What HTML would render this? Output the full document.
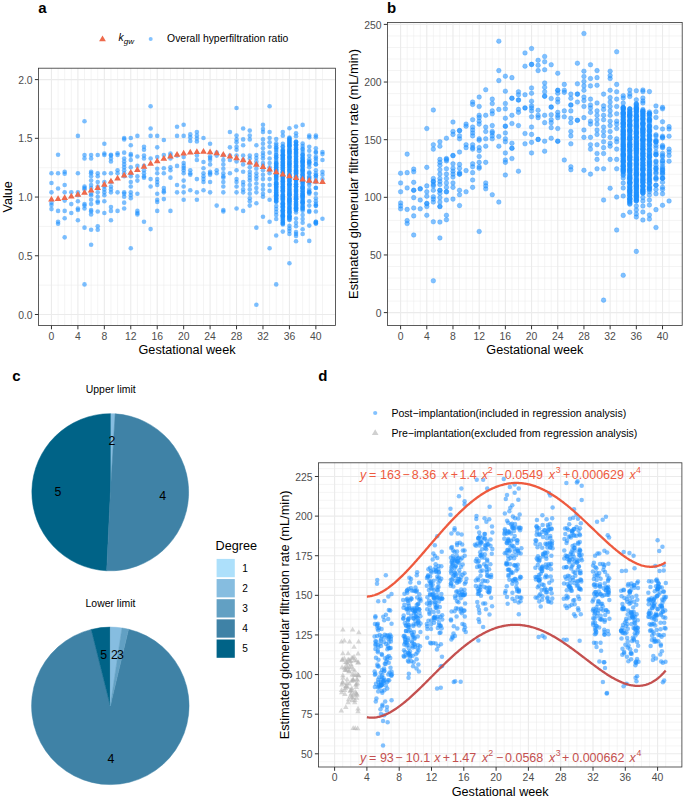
<!DOCTYPE html>
<html><head><meta charset="utf-8"><title>Figure</title>
<style>html,body{margin:0;padding:0;background:#fff;}svg{display:block;font-family:"Liberation Sans",sans-serif;}</style>
</head><body><svg width="685" height="798" viewBox="0 0 685 798" font-family="'Liberation Sans', sans-serif"><text x="38.3" y="13.3" font-size="15" font-weight="bold">a</text><path d="M58.07 68.2V325.5M64.68 68.2V325.5M71.29 68.2V325.5M84.51 68.2V325.5M91.12 68.2V325.5M97.73 68.2V325.5M110.95 68.2V325.5M117.56 68.2V325.5M124.17 68.2V325.5M137.39 68.2V325.5M144 68.2V325.5M150.61 68.2V325.5M163.83 68.2V325.5M170.44 68.2V325.5M177.05 68.2V325.5M190.27 68.2V325.5M196.88 68.2V325.5M203.49 68.2V325.5M216.71 68.2V325.5M223.32 68.2V325.5M229.93 68.2V325.5M243.15 68.2V325.5M249.76 68.2V325.5M256.37 68.2V325.5M269.59 68.2V325.5M276.2 68.2V325.5M282.81 68.2V325.5M296.03 68.2V325.5M302.64 68.2V325.5M309.25 68.2V325.5M322.47 68.2V325.5M38.5 285.14H335.5M38.5 226.41H335.5M38.5 167.69H335.5M38.5 108.96H335.5" stroke="#ebebeb" stroke-width="0.55" fill="none"/><path d="M51.46 68.2V325.5M77.9 68.2V325.5M104.34 68.2V325.5M130.78 68.2V325.5M157.22 68.2V325.5M183.66 68.2V325.5M210.1 68.2V325.5M236.54 68.2V325.5M262.98 68.2V325.5M289.42 68.2V325.5M315.86 68.2V325.5M38.5 314.5H335.5M38.5 255.78H335.5M38.5 197.05H335.5M38.5 138.32H335.5M38.5 79.6H335.5" stroke="#ebebeb" stroke-width="1.1" fill="none"/><g fill="#1e90ff" fill-opacity="0.58"><circle cx="51.46" cy="173.24" r="2.3"/><circle cx="51.46" cy="182.94" r="2.3"/><circle cx="51.46" cy="192.35" r="2.3"/><circle cx="51.46" cy="202.65" r="2.3"/><circle cx="51.46" cy="205" r="2.3"/><circle cx="51.46" cy="209.12" r="2.3"/><circle cx="58.07" cy="154.71" r="2.3"/><circle cx="58.07" cy="173.24" r="2.3"/><circle cx="58.07" cy="188.53" r="2.3"/><circle cx="58.07" cy="210.88" r="2.3"/><circle cx="58.07" cy="221.76" r="2.3"/><circle cx="58.07" cy="223.82" r="2.3"/><circle cx="64.68" cy="171.76" r="2.3"/><circle cx="64.68" cy="173.82" r="2.3"/><circle cx="64.68" cy="185" r="2.3"/><circle cx="64.68" cy="192.35" r="2.3"/><circle cx="64.68" cy="200.59" r="2.3"/><circle cx="64.68" cy="210.88" r="2.3"/><circle cx="64.68" cy="218.24" r="2.3"/><circle cx="64.68" cy="237.35" r="2.3"/><circle cx="71.29" cy="192.35" r="2.3"/><circle cx="71.29" cy="204.12" r="2.3"/><circle cx="71.29" cy="212.94" r="2.3"/><circle cx="77.9" cy="135.88" r="2.3"/><circle cx="77.9" cy="173.24" r="2.3"/><circle cx="77.9" cy="192.35" r="2.3"/><circle cx="77.9" cy="195.29" r="2.3"/><circle cx="77.9" cy="201.18" r="2.3"/><circle cx="77.9" cy="208.53" r="2.3"/><circle cx="77.9" cy="210" r="2.3"/><circle cx="77.9" cy="220.29" r="2.3"/><circle cx="84.51" cy="121.18" r="2.3"/><circle cx="84.51" cy="155" r="2.3"/><circle cx="84.51" cy="158.53" r="2.3"/><circle cx="84.51" cy="186.47" r="2.3"/><circle cx="84.51" cy="187.94" r="2.3"/><circle cx="84.51" cy="189.41" r="2.3"/><circle cx="84.51" cy="204.12" r="2.3"/><circle cx="84.51" cy="205.59" r="2.3"/><circle cx="84.51" cy="208.53" r="2.3"/><circle cx="84.51" cy="227.65" r="2.3"/><circle cx="84.51" cy="284.41" r="2.3"/><circle cx="91.12" cy="155" r="2.3"/><circle cx="91.12" cy="158.53" r="2.3"/><circle cx="91.12" cy="171.76" r="2.3"/><circle cx="91.12" cy="173.24" r="2.3"/><circle cx="91.12" cy="176.18" r="2.3"/><circle cx="91.12" cy="180.59" r="2.3"/><circle cx="91.12" cy="185" r="2.3"/><circle cx="91.12" cy="187.94" r="2.3"/><circle cx="91.12" cy="193.82" r="2.3"/><circle cx="91.12" cy="195.29" r="2.3"/><circle cx="91.12" cy="199.71" r="2.3"/><circle cx="91.12" cy="204.12" r="2.3"/><circle cx="91.12" cy="210" r="2.3"/><circle cx="91.12" cy="211.47" r="2.3"/><circle cx="91.12" cy="214.41" r="2.3"/><circle cx="91.12" cy="229.71" r="2.3"/><circle cx="91.12" cy="244.71" r="2.3"/><circle cx="97.73" cy="155" r="2.3"/><circle cx="97.73" cy="173.24" r="2.3"/><circle cx="97.73" cy="176.18" r="2.3"/><circle cx="97.73" cy="182.06" r="2.3"/><circle cx="97.73" cy="186.47" r="2.3"/><circle cx="97.73" cy="192.35" r="2.3"/><circle cx="97.73" cy="196.76" r="2.3"/><circle cx="97.73" cy="201.18" r="2.3"/><circle cx="97.73" cy="202.65" r="2.3"/><circle cx="97.73" cy="211.47" r="2.3"/><circle cx="97.73" cy="226.18" r="2.3"/><circle cx="97.73" cy="229.71" r="2.3"/><circle cx="104.34" cy="143.82" r="2.3"/><circle cx="104.34" cy="153.53" r="2.3"/><circle cx="104.34" cy="155" r="2.3"/><circle cx="104.34" cy="173.24" r="2.3"/><circle cx="104.34" cy="182.06" r="2.3"/><circle cx="104.34" cy="186.47" r="2.3"/><circle cx="104.34" cy="189.41" r="2.3"/><circle cx="104.34" cy="192.35" r="2.3"/><circle cx="104.34" cy="195.29" r="2.3"/><circle cx="104.34" cy="201.18" r="2.3"/><circle cx="104.34" cy="212.94" r="2.3"/><circle cx="110.95" cy="154.71" r="2.3"/><circle cx="110.95" cy="155.59" r="2.3"/><circle cx="110.95" cy="158.53" r="2.3"/><circle cx="110.95" cy="161.47" r="2.3"/><circle cx="110.95" cy="173.24" r="2.3"/><circle cx="110.95" cy="182.06" r="2.3"/><circle cx="110.95" cy="186.47" r="2.3"/><circle cx="110.95" cy="189.41" r="2.3"/><circle cx="110.95" cy="192.35" r="2.3"/><circle cx="110.95" cy="207.06" r="2.3"/><circle cx="110.95" cy="210.88" r="2.3"/><circle cx="110.95" cy="220.29" r="2.3"/><circle cx="117.56" cy="153.24" r="2.3"/><circle cx="117.56" cy="155" r="2.3"/><circle cx="117.56" cy="170.29" r="2.3"/><circle cx="117.56" cy="173.24" r="2.3"/><circle cx="117.56" cy="192.35" r="2.3"/><circle cx="117.56" cy="210.88" r="2.3"/><circle cx="124.17" cy="137.94" r="2.3"/><circle cx="124.17" cy="139.41" r="2.3"/><circle cx="124.17" cy="152.65" r="2.3"/><circle cx="124.17" cy="158.53" r="2.3"/><circle cx="124.17" cy="161.47" r="2.3"/><circle cx="124.17" cy="164.41" r="2.3"/><circle cx="124.17" cy="167.35" r="2.3"/><circle cx="124.17" cy="170.29" r="2.3"/><circle cx="124.17" cy="173.24" r="2.3"/><circle cx="124.17" cy="176.18" r="2.3"/><circle cx="124.17" cy="192.35" r="2.3"/><circle cx="124.17" cy="193.82" r="2.3"/><circle cx="124.17" cy="196.76" r="2.3"/><circle cx="124.17" cy="202.65" r="2.3"/><circle cx="124.17" cy="208.53" r="2.3"/><circle cx="130.78" cy="137.94" r="2.3"/><circle cx="130.78" cy="145.29" r="2.3"/><circle cx="130.78" cy="154.12" r="2.3"/><circle cx="130.78" cy="155.59" r="2.3"/><circle cx="130.78" cy="160" r="2.3"/><circle cx="130.78" cy="167.35" r="2.3"/><circle cx="130.78" cy="173.24" r="2.3"/><circle cx="130.78" cy="176.18" r="2.3"/><circle cx="130.78" cy="182.06" r="2.3"/><circle cx="130.78" cy="186.47" r="2.3"/><circle cx="130.78" cy="192.35" r="2.3"/><circle cx="130.78" cy="195.29" r="2.3"/><circle cx="130.78" cy="198.24" r="2.3"/><circle cx="130.78" cy="248.24" r="2.3"/><circle cx="137.39" cy="135.88" r="2.3"/><circle cx="137.39" cy="156.47" r="2.3"/><circle cx="137.39" cy="165.88" r="2.3"/><circle cx="137.39" cy="176.18" r="2.3"/><circle cx="137.39" cy="180.59" r="2.3"/><circle cx="137.39" cy="193.82" r="2.3"/><circle cx="137.39" cy="210.88" r="2.3"/><circle cx="137.39" cy="212.94" r="2.3"/><circle cx="137.39" cy="214.41" r="2.3"/><circle cx="144" cy="146.76" r="2.3"/><circle cx="144" cy="149.71" r="2.3"/><circle cx="144" cy="155.59" r="2.3"/><circle cx="144" cy="158.53" r="2.3"/><circle cx="144" cy="165.88" r="2.3"/><circle cx="144" cy="170.29" r="2.3"/><circle cx="144" cy="173.24" r="2.3"/><circle cx="144" cy="176.18" r="2.3"/><circle cx="144" cy="177.65" r="2.3"/><circle cx="144" cy="221.76" r="2.3"/><circle cx="150.61" cy="106.18" r="2.3"/><circle cx="150.61" cy="128.53" r="2.3"/><circle cx="150.61" cy="135.88" r="2.3"/><circle cx="150.61" cy="158.53" r="2.3"/><circle cx="150.61" cy="179.12" r="2.3"/><circle cx="150.61" cy="186.47" r="2.3"/><circle cx="150.61" cy="229.12" r="2.3"/><circle cx="157.22" cy="135.88" r="2.3"/><circle cx="157.22" cy="147.35" r="2.3"/><circle cx="157.22" cy="157.06" r="2.3"/><circle cx="157.22" cy="168.82" r="2.3"/><circle cx="157.22" cy="173.24" r="2.3"/><circle cx="157.22" cy="179.12" r="2.3"/><circle cx="157.22" cy="182.06" r="2.3"/><circle cx="157.22" cy="185" r="2.3"/><circle cx="157.22" cy="193.82" r="2.3"/><circle cx="157.22" cy="199.71" r="2.3"/><circle cx="157.22" cy="202.06" r="2.3"/><circle cx="157.22" cy="210.88" r="2.3"/><circle cx="163.83" cy="140" r="2.3"/><circle cx="163.83" cy="155" r="2.3"/><circle cx="163.83" cy="168.24" r="2.3"/><circle cx="163.83" cy="173.24" r="2.3"/><circle cx="163.83" cy="187.94" r="2.3"/><circle cx="163.83" cy="190.88" r="2.3"/><circle cx="163.83" cy="192.35" r="2.3"/><circle cx="163.83" cy="199.12" r="2.3"/><circle cx="170.44" cy="153.53" r="2.3"/><circle cx="170.44" cy="155.59" r="2.3"/><circle cx="170.44" cy="158.53" r="2.3"/><circle cx="170.44" cy="167.35" r="2.3"/><circle cx="170.44" cy="170.29" r="2.3"/><circle cx="170.44" cy="177.65" r="2.3"/><circle cx="170.44" cy="210.88" r="2.3"/><circle cx="177.05" cy="126.76" r="2.3"/><circle cx="177.05" cy="135.88" r="2.3"/><circle cx="177.05" cy="155.59" r="2.3"/><circle cx="177.05" cy="165.88" r="2.3"/><circle cx="177.05" cy="185" r="2.3"/><circle cx="177.05" cy="192.35" r="2.3"/><circle cx="183.66" cy="124.71" r="2.3"/><circle cx="183.66" cy="135.88" r="2.3"/><circle cx="183.66" cy="157.06" r="2.3"/><circle cx="183.66" cy="162.94" r="2.3"/><circle cx="183.66" cy="165.88" r="2.3"/><circle cx="183.66" cy="167.94" r="2.3"/><circle cx="183.66" cy="170.29" r="2.3"/><circle cx="183.66" cy="173.24" r="2.3"/><circle cx="183.66" cy="180.59" r="2.3"/><circle cx="183.66" cy="186.47" r="2.3"/><circle cx="183.66" cy="192.35" r="2.3"/><circle cx="183.66" cy="199.71" r="2.3"/><circle cx="190.27" cy="134.41" r="2.3"/><circle cx="190.27" cy="137.35" r="2.3"/><circle cx="190.27" cy="140.88" r="2.3"/><circle cx="190.27" cy="170.29" r="2.3"/><circle cx="190.27" cy="173.24" r="2.3"/><circle cx="190.27" cy="174.71" r="2.3"/><circle cx="190.27" cy="190.29" r="2.3"/><circle cx="196.88" cy="132.06" r="2.3"/><circle cx="196.88" cy="135.59" r="2.3"/><circle cx="196.88" cy="138.53" r="2.3"/><circle cx="196.88" cy="141.47" r="2.3"/><circle cx="196.88" cy="155.59" r="2.3"/><circle cx="196.88" cy="160" r="2.3"/><circle cx="196.88" cy="179.12" r="2.3"/><circle cx="196.88" cy="192.35" r="2.3"/><circle cx="196.88" cy="199.71" r="2.3"/><circle cx="203.49" cy="137.94" r="2.3"/><circle cx="203.49" cy="162.06" r="2.3"/><circle cx="203.49" cy="168.24" r="2.3"/><circle cx="203.49" cy="173.24" r="2.3"/><circle cx="203.49" cy="176.18" r="2.3"/><circle cx="203.49" cy="179.12" r="2.3"/><circle cx="203.49" cy="182.06" r="2.3"/><circle cx="203.49" cy="190.29" r="2.3"/><circle cx="210.1" cy="143.82" r="2.3"/><circle cx="210.1" cy="156.18" r="2.3"/><circle cx="210.1" cy="157.94" r="2.3"/><circle cx="210.1" cy="160" r="2.3"/><circle cx="210.1" cy="164.41" r="2.3"/><circle cx="210.1" cy="171.76" r="2.3"/><circle cx="210.1" cy="173.24" r="2.3"/><circle cx="210.1" cy="174.71" r="2.3"/><circle cx="210.1" cy="182.06" r="2.3"/><circle cx="210.1" cy="192.35" r="2.3"/><circle cx="216.71" cy="152.65" r="2.3"/><circle cx="216.71" cy="155.59" r="2.3"/><circle cx="216.71" cy="170.29" r="2.3"/><circle cx="216.71" cy="173.24" r="2.3"/><circle cx="216.71" cy="205.59" r="2.3"/><circle cx="223.32" cy="155.59" r="2.3"/><circle cx="223.32" cy="160" r="2.3"/><circle cx="223.32" cy="164.41" r="2.3"/><circle cx="223.32" cy="168.82" r="2.3"/><circle cx="223.32" cy="173.24" r="2.3"/><circle cx="223.32" cy="176.18" r="2.3"/><circle cx="223.32" cy="177.65" r="2.3"/><circle cx="223.32" cy="182.06" r="2.3"/><circle cx="223.32" cy="186.47" r="2.3"/><circle cx="223.32" cy="192.35" r="2.3"/><circle cx="223.32" cy="210" r="2.3"/><circle cx="223.32" cy="211.47" r="2.3"/><circle cx="229.93" cy="132.06" r="2.3"/><circle cx="229.93" cy="147.35" r="2.3"/><circle cx="229.93" cy="155.59" r="2.3"/><circle cx="229.93" cy="160" r="2.3"/><circle cx="229.93" cy="173.24" r="2.3"/><circle cx="236.54" cy="107.94" r="2.3"/><circle cx="236.54" cy="135.59" r="2.3"/><circle cx="236.54" cy="139.41" r="2.3"/><circle cx="236.54" cy="142.35" r="2.3"/><circle cx="236.54" cy="146.76" r="2.3"/><circle cx="236.54" cy="149.71" r="2.3"/><circle cx="236.54" cy="155.59" r="2.3"/><circle cx="236.54" cy="161.47" r="2.3"/><circle cx="236.54" cy="170.29" r="2.3"/><circle cx="236.54" cy="179.12" r="2.3"/><circle cx="236.54" cy="182.06" r="2.3"/><circle cx="236.54" cy="186.47" r="2.3"/><circle cx="236.54" cy="192.35" r="2.3"/><circle cx="236.54" cy="208.53" r="2.3"/><circle cx="243.15" cy="128.53" r="2.3"/><circle cx="243.15" cy="139.41" r="2.3"/><circle cx="243.15" cy="145.29" r="2.3"/><circle cx="243.15" cy="155.59" r="2.3"/><circle cx="243.15" cy="160" r="2.3"/><circle cx="243.15" cy="164.41" r="2.3"/><circle cx="243.15" cy="171.76" r="2.3"/><circle cx="243.15" cy="182.06" r="2.3"/><circle cx="243.15" cy="185" r="2.3"/><circle cx="243.15" cy="189.41" r="2.3"/><circle cx="243.15" cy="192.35" r="2.3"/><circle cx="243.15" cy="210.88" r="2.3"/><circle cx="249.76" cy="130.59" r="2.3"/><circle cx="249.76" cy="135.59" r="2.3"/><circle cx="249.76" cy="139.41" r="2.3"/><circle cx="249.76" cy="155.59" r="2.3"/><circle cx="249.76" cy="158.53" r="2.3"/><circle cx="249.76" cy="162.94" r="2.3"/><circle cx="249.76" cy="167.35" r="2.3"/><circle cx="249.76" cy="171.76" r="2.3"/><circle cx="249.76" cy="174.71" r="2.3"/><circle cx="249.76" cy="177.65" r="2.3"/><circle cx="249.76" cy="180.59" r="2.3"/><circle cx="249.76" cy="185" r="2.3"/><circle cx="249.76" cy="189.41" r="2.3"/><circle cx="249.76" cy="193.82" r="2.3"/><circle cx="249.76" cy="198.24" r="2.3"/><circle cx="249.76" cy="201.18" r="2.3"/><circle cx="249.76" cy="205.59" r="2.3"/><circle cx="256.37" cy="145.29" r="2.3"/><circle cx="256.37" cy="155" r="2.3"/><circle cx="256.37" cy="157.94" r="2.3"/><circle cx="256.37" cy="161.47" r="2.3"/><circle cx="256.37" cy="164.41" r="2.3"/><circle cx="256.37" cy="168.82" r="2.3"/><circle cx="256.37" cy="173.24" r="2.3"/><circle cx="256.37" cy="176.18" r="2.3"/><circle cx="256.37" cy="179.12" r="2.3"/><circle cx="256.37" cy="183.53" r="2.3"/><circle cx="256.37" cy="187.94" r="2.3"/><circle cx="256.37" cy="192.35" r="2.3"/><circle cx="256.37" cy="203.24" r="2.3"/><circle cx="256.37" cy="227.65" r="2.3"/><circle cx="256.37" cy="304.71" r="2.3"/><circle cx="262.98" cy="124.71" r="2.3"/><circle cx="262.98" cy="129.12" r="2.3"/><circle cx="262.98" cy="132.06" r="2.3"/><circle cx="262.98" cy="139.41" r="2.3"/><circle cx="262.98" cy="143.82" r="2.3"/><circle cx="262.98" cy="148.24" r="2.3"/><circle cx="262.98" cy="152.65" r="2.3"/><circle cx="262.98" cy="155.59" r="2.3"/><circle cx="262.98" cy="158.53" r="2.3"/><circle cx="262.98" cy="162.94" r="2.3"/><circle cx="262.98" cy="165.88" r="2.3"/><circle cx="262.98" cy="170.29" r="2.3"/><circle cx="262.98" cy="174.71" r="2.3"/><circle cx="262.98" cy="179.12" r="2.3"/><circle cx="262.98" cy="185" r="2.3"/><circle cx="262.98" cy="189.41" r="2.3"/><circle cx="262.98" cy="193.82" r="2.3"/><circle cx="262.98" cy="196.76" r="2.3"/><circle cx="262.98" cy="216.76" r="2.3"/><circle cx="269.59" cy="106.18" r="2.3"/><circle cx="269.59" cy="132.06" r="2.3"/><circle cx="269.59" cy="137.94" r="2.3"/><circle cx="269.59" cy="142.35" r="2.3"/><circle cx="269.59" cy="146.76" r="2.3"/><circle cx="269.59" cy="152.65" r="2.3"/><circle cx="269.59" cy="158.53" r="2.3"/><circle cx="269.59" cy="162.94" r="2.3"/><circle cx="269.59" cy="167.35" r="2.3"/><circle cx="269.59" cy="170.29" r="2.3"/><circle cx="269.59" cy="173.24" r="2.3"/><circle cx="269.59" cy="179.12" r="2.3"/><circle cx="269.59" cy="185" r="2.3"/><circle cx="269.59" cy="190.88" r="2.3"/><circle cx="269.59" cy="199.71" r="2.3"/><circle cx="269.59" cy="221.76" r="2.3"/><circle cx="269.59" cy="248.24" r="2.3"/><circle cx="309.25" cy="135.59" r="2.3"/><circle cx="309.25" cy="137.35" r="2.3"/><circle cx="309.25" cy="146.76" r="2.3"/><circle cx="309.25" cy="155.59" r="2.3"/><circle cx="309.25" cy="161.47" r="2.3"/><circle cx="309.25" cy="167.35" r="2.3"/><circle cx="309.25" cy="173.24" r="2.3"/><circle cx="309.25" cy="179.12" r="2.3"/><circle cx="309.25" cy="185" r="2.3"/><circle cx="309.25" cy="189.41" r="2.3"/><circle cx="309.25" cy="193.82" r="2.3"/><circle cx="309.25" cy="201.18" r="2.3"/><circle cx="309.25" cy="205.59" r="2.3"/><circle cx="309.25" cy="210.88" r="2.3"/><circle cx="309.25" cy="225.59" r="2.3"/><circle cx="309.25" cy="240.88" r="2.3"/><circle cx="315.86" cy="135.59" r="2.3"/><circle cx="315.86" cy="137.35" r="2.3"/><circle cx="315.86" cy="148.24" r="2.3"/><circle cx="315.86" cy="152.65" r="2.3"/><circle cx="315.86" cy="158.53" r="2.3"/><circle cx="315.86" cy="164.41" r="2.3"/><circle cx="315.86" cy="170.29" r="2.3"/><circle cx="315.86" cy="173.24" r="2.3"/><circle cx="315.86" cy="177.65" r="2.3"/><circle cx="315.86" cy="182.06" r="2.3"/><circle cx="315.86" cy="187.94" r="2.3"/><circle cx="315.86" cy="193.82" r="2.3"/><circle cx="315.86" cy="198.24" r="2.3"/><circle cx="315.86" cy="201.18" r="2.3"/><circle cx="315.86" cy="205.59" r="2.3"/><circle cx="315.86" cy="211.47" r="2.3"/><circle cx="315.86" cy="221.76" r="2.3"/><circle cx="322.47" cy="152.06" r="2.3"/><circle cx="322.47" cy="154.12" r="2.3"/><circle cx="322.47" cy="160" r="2.3"/><circle cx="322.47" cy="171.76" r="2.3"/><circle cx="322.47" cy="174.71" r="2.3"/><circle cx="322.47" cy="179.12" r="2.3"/><circle cx="322.47" cy="218.82" r="2.3"/><circle cx="309.25" cy="181.25" r="2.3"/><circle cx="309.25" cy="150.76" r="2.3"/><circle cx="309.25" cy="211.89" r="2.3"/><circle cx="309.25" cy="172.4" r="2.3"/><circle cx="309.25" cy="177.63" r="2.3"/><circle cx="309.25" cy="164.52" r="2.3"/><circle cx="309.25" cy="192.45" r="2.3"/><circle cx="309.25" cy="162.13" r="2.3"/><circle cx="309.25" cy="159.32" r="2.3"/><circle cx="309.25" cy="182.47" r="2.3"/><circle cx="309.25" cy="192.16" r="2.3"/><circle cx="309.25" cy="163.08" r="2.3"/><circle cx="309.25" cy="191.49" r="2.3"/><circle cx="309.25" cy="176.62" r="2.3"/><circle cx="315.86" cy="221.85" r="2.3"/><circle cx="315.86" cy="156.85" r="2.3"/><circle cx="315.86" cy="223.4" r="2.3"/><circle cx="315.86" cy="180.91" r="2.3"/><circle cx="315.86" cy="187.8" r="2.3"/><circle cx="315.86" cy="161.11" r="2.3"/><circle cx="315.86" cy="203.92" r="2.3"/><circle cx="315.86" cy="164.25" r="2.3"/><circle cx="315.86" cy="175.62" r="2.3"/><circle cx="315.86" cy="151.76" r="2.3"/><circle cx="315.86" cy="175.46" r="2.3"/><circle cx="315.86" cy="222.56" r="2.3"/><circle cx="315.86" cy="223.41" r="2.3"/><circle cx="315.86" cy="205.84" r="2.3"/><circle cx="276.2" cy="139.11" r="2.3"/><circle cx="276.2" cy="143.18" r="2.3"/><circle cx="276.2" cy="145.24" r="2.3"/><circle cx="276.2" cy="147.24" r="2.3"/><circle cx="276.2" cy="148.26" r="2.3"/><circle cx="276.2" cy="149.95" r="2.3"/><circle cx="276.2" cy="152.08" r="2.3"/><circle cx="276.2" cy="154.52" r="2.3"/><circle cx="276.2" cy="155.41" r="2.3"/><circle cx="276.2" cy="157.22" r="2.3"/><circle cx="276.2" cy="157.72" r="2.3"/><circle cx="276.2" cy="159.8" r="2.3"/><circle cx="276.2" cy="161.67" r="2.3"/><circle cx="276.2" cy="163.06" r="2.3"/><circle cx="276.2" cy="163.84" r="2.3"/><circle cx="276.2" cy="163.51" r="2.3"/><circle cx="276.2" cy="165.62" r="2.3"/><circle cx="276.2" cy="165.12" r="2.3"/><circle cx="276.2" cy="167.11" r="2.3"/><circle cx="276.2" cy="167.44" r="2.3"/><circle cx="276.2" cy="167.52" r="2.3"/><circle cx="276.2" cy="169.15" r="2.3"/><circle cx="276.2" cy="169.83" r="2.3"/><circle cx="276.2" cy="171.53" r="2.3"/><circle cx="276.2" cy="170.51" r="2.3"/><circle cx="276.2" cy="171.58" r="2.3"/><circle cx="276.2" cy="174.04" r="2.3"/><circle cx="276.2" cy="174.55" r="2.3"/><circle cx="276.2" cy="174.01" r="2.3"/><circle cx="276.2" cy="174.99" r="2.3"/><circle cx="276.2" cy="176.43" r="2.3"/><circle cx="276.2" cy="176.48" r="2.3"/><circle cx="276.2" cy="177.64" r="2.3"/><circle cx="276.2" cy="177.91" r="2.3"/><circle cx="276.2" cy="180.05" r="2.3"/><circle cx="276.2" cy="179.61" r="2.3"/><circle cx="276.2" cy="182.26" r="2.3"/><circle cx="276.2" cy="182.93" r="2.3"/><circle cx="276.2" cy="183.49" r="2.3"/><circle cx="276.2" cy="184.27" r="2.3"/><circle cx="276.2" cy="184.29" r="2.3"/><circle cx="276.2" cy="185.73" r="2.3"/><circle cx="276.2" cy="186.71" r="2.3"/><circle cx="276.2" cy="186.97" r="2.3"/><circle cx="276.2" cy="186.95" r="2.3"/><circle cx="276.2" cy="188.9" r="2.3"/><circle cx="276.2" cy="189.12" r="2.3"/><circle cx="276.2" cy="190.51" r="2.3"/><circle cx="276.2" cy="190.95" r="2.3"/><circle cx="276.2" cy="192.84" r="2.3"/><circle cx="276.2" cy="192.15" r="2.3"/><circle cx="276.2" cy="194.11" r="2.3"/><circle cx="276.2" cy="194.79" r="2.3"/><circle cx="276.2" cy="195.32" r="2.3"/><circle cx="276.2" cy="195.19" r="2.3"/><circle cx="276.2" cy="196.18" r="2.3"/><circle cx="276.2" cy="198.6" r="2.3"/><circle cx="276.2" cy="197.95" r="2.3"/><circle cx="276.2" cy="198.64" r="2.3"/><circle cx="276.2" cy="199.71" r="2.3"/><circle cx="276.2" cy="201.02" r="2.3"/><circle cx="276.2" cy="201.81" r="2.3"/><circle cx="276.2" cy="201.6" r="2.3"/><circle cx="276.2" cy="206" r="2.3"/><circle cx="276.2" cy="209" r="2.3"/><circle cx="276.2" cy="212" r="2.3"/><circle cx="276.2" cy="215" r="2.3"/><circle cx="276.2" cy="219" r="2.3"/><circle cx="276.2" cy="235.5" r="2.3"/><circle cx="276.2" cy="284.4" r="2.3"/><circle cx="282.81" cy="143.76" r="2.3"/><circle cx="282.81" cy="146.24" r="2.3"/><circle cx="282.81" cy="147.12" r="2.3"/><circle cx="282.81" cy="149.47" r="2.3"/><circle cx="282.81" cy="151.01" r="2.3"/><circle cx="282.81" cy="150.44" r="2.3"/><circle cx="282.81" cy="152.09" r="2.3"/><circle cx="282.81" cy="152.73" r="2.3"/><circle cx="282.81" cy="154.33" r="2.3"/><circle cx="282.81" cy="155.49" r="2.3"/><circle cx="282.81" cy="155.25" r="2.3"/><circle cx="282.81" cy="155.74" r="2.3"/><circle cx="282.81" cy="157.84" r="2.3"/><circle cx="282.81" cy="156.97" r="2.3"/><circle cx="282.81" cy="158.41" r="2.3"/><circle cx="282.81" cy="159.37" r="2.3"/><circle cx="282.81" cy="159.77" r="2.3"/><circle cx="282.81" cy="161.61" r="2.3"/><circle cx="282.81" cy="162.12" r="2.3"/><circle cx="282.81" cy="162.41" r="2.3"/><circle cx="282.81" cy="163.58" r="2.3"/><circle cx="282.81" cy="164.97" r="2.3"/><circle cx="282.81" cy="165.07" r="2.3"/><circle cx="282.81" cy="165.39" r="2.3"/><circle cx="282.81" cy="167" r="2.3"/><circle cx="282.81" cy="167.31" r="2.3"/><circle cx="282.81" cy="168.99" r="2.3"/><circle cx="282.81" cy="168.99" r="2.3"/><circle cx="282.81" cy="169.69" r="2.3"/><circle cx="282.81" cy="172.04" r="2.3"/><circle cx="282.81" cy="171.74" r="2.3"/><circle cx="282.81" cy="172.5" r="2.3"/><circle cx="282.81" cy="173.83" r="2.3"/><circle cx="282.81" cy="174.97" r="2.3"/><circle cx="282.81" cy="175.76" r="2.3"/><circle cx="282.81" cy="176.85" r="2.3"/><circle cx="282.81" cy="176.6" r="2.3"/><circle cx="282.81" cy="177.77" r="2.3"/><circle cx="282.81" cy="178.48" r="2.3"/><circle cx="282.81" cy="179.62" r="2.3"/><circle cx="282.81" cy="180.56" r="2.3"/><circle cx="282.81" cy="181.51" r="2.3"/><circle cx="282.81" cy="181.22" r="2.3"/><circle cx="282.81" cy="182.66" r="2.3"/><circle cx="282.81" cy="184.17" r="2.3"/><circle cx="282.81" cy="183.65" r="2.3"/><circle cx="282.81" cy="185.91" r="2.3"/><circle cx="282.81" cy="186.62" r="2.3"/><circle cx="282.81" cy="186.89" r="2.3"/><circle cx="282.81" cy="187.82" r="2.3"/><circle cx="282.81" cy="188.28" r="2.3"/><circle cx="282.81" cy="190.06" r="2.3"/><circle cx="282.81" cy="190.38" r="2.3"/><circle cx="282.81" cy="190.78" r="2.3"/><circle cx="282.81" cy="191.14" r="2.3"/><circle cx="282.81" cy="192.61" r="2.3"/><circle cx="282.81" cy="194.59" r="2.3"/><circle cx="282.81" cy="194.94" r="2.3"/><circle cx="282.81" cy="195.67" r="2.3"/><circle cx="282.81" cy="197.12" r="2.3"/><circle cx="282.81" cy="196.14" r="2.3"/><circle cx="282.81" cy="198.12" r="2.3"/><circle cx="282.81" cy="198.13" r="2.3"/><circle cx="282.81" cy="199.38" r="2.3"/><circle cx="282.81" cy="199.78" r="2.3"/><circle cx="282.81" cy="200.95" r="2.3"/><circle cx="282.81" cy="202.89" r="2.3"/><circle cx="282.81" cy="203.37" r="2.3"/><circle cx="282.81" cy="204.44" r="2.3"/><circle cx="282.81" cy="203.73" r="2.3"/><circle cx="282.81" cy="205.02" r="2.3"/><circle cx="282.81" cy="206.82" r="2.3"/><circle cx="282.81" cy="206.16" r="2.3"/><circle cx="282.81" cy="207.3" r="2.3"/><circle cx="282.81" cy="207.91" r="2.3"/><circle cx="282.81" cy="210.22" r="2.3"/><circle cx="282.81" cy="209.88" r="2.3"/><circle cx="282.81" cy="211.1" r="2.3"/><circle cx="282.81" cy="211.11" r="2.3"/><circle cx="282.81" cy="212.14" r="2.3"/><circle cx="282.81" cy="213.78" r="2.3"/><circle cx="282.81" cy="215.17" r="2.3"/><circle cx="282.81" cy="215.1" r="2.3"/><circle cx="282.81" cy="215.89" r="2.3"/><circle cx="282.81" cy="216.16" r="2.3"/><circle cx="282.81" cy="217.12" r="2.3"/><circle cx="282.81" cy="218.05" r="2.3"/><circle cx="282.81" cy="219" r="2.3"/><circle cx="282.81" cy="220.56" r="2.3"/><circle cx="282.81" cy="220.97" r="2.3"/><circle cx="282.81" cy="223.04" r="2.3"/><circle cx="282.81" cy="222.48" r="2.3"/><circle cx="282.81" cy="224.46" r="2.3"/><circle cx="282.81" cy="223.77" r="2.3"/><circle cx="282.81" cy="132.1" r="2.3"/><circle cx="282.81" cy="135.8" r="2.3"/><circle cx="282.81" cy="231.6" r="2.3"/><circle cx="289.42" cy="137.48" r="2.3"/><circle cx="289.42" cy="138.36" r="2.3"/><circle cx="289.42" cy="139.41" r="2.3"/><circle cx="289.42" cy="139.76" r="2.3"/><circle cx="289.42" cy="140.83" r="2.3"/><circle cx="289.42" cy="142.18" r="2.3"/><circle cx="289.42" cy="141.76" r="2.3"/><circle cx="289.42" cy="143.36" r="2.3"/><circle cx="289.42" cy="144.32" r="2.3"/><circle cx="289.42" cy="145.54" r="2.3"/><circle cx="289.42" cy="145.15" r="2.3"/><circle cx="289.42" cy="146.49" r="2.3"/><circle cx="289.42" cy="146.55" r="2.3"/><circle cx="289.42" cy="148.67" r="2.3"/><circle cx="289.42" cy="149.92" r="2.3"/><circle cx="289.42" cy="149.73" r="2.3"/><circle cx="289.42" cy="151.49" r="2.3"/><circle cx="289.42" cy="152.02" r="2.3"/><circle cx="289.42" cy="151.57" r="2.3"/><circle cx="289.42" cy="153.32" r="2.3"/><circle cx="289.42" cy="153.31" r="2.3"/><circle cx="289.42" cy="154.69" r="2.3"/><circle cx="289.42" cy="156.5" r="2.3"/><circle cx="289.42" cy="155.99" r="2.3"/><circle cx="289.42" cy="157.71" r="2.3"/><circle cx="289.42" cy="157.53" r="2.3"/><circle cx="289.42" cy="158.48" r="2.3"/><circle cx="289.42" cy="161" r="2.3"/><circle cx="289.42" cy="160.13" r="2.3"/><circle cx="289.42" cy="161.13" r="2.3"/><circle cx="289.42" cy="163.5" r="2.3"/><circle cx="289.42" cy="163.08" r="2.3"/><circle cx="289.42" cy="163.73" r="2.3"/><circle cx="289.42" cy="164.33" r="2.3"/><circle cx="289.42" cy="165.98" r="2.3"/><circle cx="289.42" cy="165.94" r="2.3"/><circle cx="289.42" cy="167.1" r="2.3"/><circle cx="289.42" cy="167.94" r="2.3"/><circle cx="289.42" cy="169.83" r="2.3"/><circle cx="289.42" cy="169.5" r="2.3"/><circle cx="289.42" cy="171.2" r="2.3"/><circle cx="289.42" cy="171.34" r="2.3"/><circle cx="289.42" cy="173.69" r="2.3"/><circle cx="289.42" cy="174.52" r="2.3"/><circle cx="289.42" cy="175.23" r="2.3"/><circle cx="289.42" cy="176.02" r="2.3"/><circle cx="289.42" cy="176.17" r="2.3"/><circle cx="289.42" cy="177.76" r="2.3"/><circle cx="289.42" cy="178.02" r="2.3"/><circle cx="289.42" cy="177.9" r="2.3"/><circle cx="289.42" cy="179.88" r="2.3"/><circle cx="289.42" cy="180.96" r="2.3"/><circle cx="289.42" cy="180.13" r="2.3"/><circle cx="289.42" cy="181.33" r="2.3"/><circle cx="289.42" cy="183.35" r="2.3"/><circle cx="289.42" cy="184.16" r="2.3"/><circle cx="289.42" cy="184.58" r="2.3"/><circle cx="289.42" cy="184.54" r="2.3"/><circle cx="289.42" cy="185.67" r="2.3"/><circle cx="289.42" cy="186.45" r="2.3"/><circle cx="289.42" cy="188.78" r="2.3"/><circle cx="289.42" cy="188.11" r="2.3"/><circle cx="289.42" cy="189.24" r="2.3"/><circle cx="289.42" cy="190.72" r="2.3"/><circle cx="289.42" cy="191.51" r="2.3"/><circle cx="289.42" cy="192.14" r="2.3"/><circle cx="289.42" cy="193.16" r="2.3"/><circle cx="289.42" cy="194.43" r="2.3"/><circle cx="289.42" cy="195.37" r="2.3"/><circle cx="289.42" cy="194.6" r="2.3"/><circle cx="289.42" cy="195.28" r="2.3"/><circle cx="289.42" cy="197.89" r="2.3"/><circle cx="289.42" cy="198.72" r="2.3"/><circle cx="289.42" cy="198.48" r="2.3"/><circle cx="289.42" cy="199.38" r="2.3"/><circle cx="289.42" cy="200.79" r="2.3"/><circle cx="289.42" cy="201.1" r="2.3"/><circle cx="289.42" cy="201.32" r="2.3"/><circle cx="289.42" cy="202.44" r="2.3"/><circle cx="289.42" cy="203.39" r="2.3"/><circle cx="289.42" cy="204.75" r="2.3"/><circle cx="289.42" cy="204.8" r="2.3"/><circle cx="289.42" cy="206.76" r="2.3"/><circle cx="289.42" cy="208.08" r="2.3"/><circle cx="289.42" cy="207.75" r="2.3"/><circle cx="289.42" cy="208.96" r="2.3"/><circle cx="289.42" cy="209.93" r="2.3"/><circle cx="289.42" cy="211.1" r="2.3"/><circle cx="289.42" cy="211.6" r="2.3"/><circle cx="289.42" cy="212.21" r="2.3"/><circle cx="289.42" cy="213.46" r="2.3"/><circle cx="289.42" cy="212.91" r="2.3"/><circle cx="289.42" cy="215.58" r="2.3"/><circle cx="289.42" cy="216.34" r="2.3"/><circle cx="289.42" cy="216.77" r="2.3"/><circle cx="289.42" cy="216.62" r="2.3"/><circle cx="289.42" cy="218.31" r="2.3"/><circle cx="289.42" cy="217.96" r="2.3"/><circle cx="289.42" cy="219.54" r="2.3"/><circle cx="289.42" cy="220.01" r="2.3"/><circle cx="289.42" cy="128.3" r="2.3"/><circle cx="289.42" cy="225.8" r="2.3"/><circle cx="289.42" cy="228.5" r="2.3"/><circle cx="289.42" cy="231" r="2.3"/><circle cx="289.42" cy="234" r="2.3"/><circle cx="289.42" cy="263.2" r="2.3"/><circle cx="296.03" cy="141.54" r="2.3"/><circle cx="296.03" cy="141.76" r="2.3"/><circle cx="296.03" cy="142.29" r="2.3"/><circle cx="296.03" cy="144.53" r="2.3"/><circle cx="296.03" cy="144.29" r="2.3"/><circle cx="296.03" cy="145.75" r="2.3"/><circle cx="296.03" cy="145.5" r="2.3"/><circle cx="296.03" cy="147.44" r="2.3"/><circle cx="296.03" cy="148.73" r="2.3"/><circle cx="296.03" cy="149.56" r="2.3"/><circle cx="296.03" cy="149.49" r="2.3"/><circle cx="296.03" cy="149.93" r="2.3"/><circle cx="296.03" cy="151.73" r="2.3"/><circle cx="296.03" cy="151.97" r="2.3"/><circle cx="296.03" cy="152.77" r="2.3"/><circle cx="296.03" cy="153.46" r="2.3"/><circle cx="296.03" cy="154.67" r="2.3"/><circle cx="296.03" cy="156.08" r="2.3"/><circle cx="296.03" cy="156.36" r="2.3"/><circle cx="296.03" cy="157.7" r="2.3"/><circle cx="296.03" cy="158.7" r="2.3"/><circle cx="296.03" cy="159.71" r="2.3"/><circle cx="296.03" cy="160.07" r="2.3"/><circle cx="296.03" cy="161.75" r="2.3"/><circle cx="296.03" cy="161.61" r="2.3"/><circle cx="296.03" cy="162.52" r="2.3"/><circle cx="296.03" cy="163.61" r="2.3"/><circle cx="296.03" cy="165.07" r="2.3"/><circle cx="296.03" cy="165.38" r="2.3"/><circle cx="296.03" cy="166.65" r="2.3"/><circle cx="296.03" cy="165.97" r="2.3"/><circle cx="296.03" cy="167.34" r="2.3"/><circle cx="296.03" cy="168.75" r="2.3"/><circle cx="296.03" cy="169.64" r="2.3"/><circle cx="296.03" cy="170.68" r="2.3"/><circle cx="296.03" cy="170.39" r="2.3"/><circle cx="296.03" cy="171.33" r="2.3"/><circle cx="296.03" cy="172.37" r="2.3"/><circle cx="296.03" cy="173.17" r="2.3"/><circle cx="296.03" cy="173.41" r="2.3"/><circle cx="296.03" cy="174.85" r="2.3"/><circle cx="296.03" cy="176.19" r="2.3"/><circle cx="296.03" cy="177.23" r="2.3"/><circle cx="296.03" cy="177.05" r="2.3"/><circle cx="296.03" cy="178.67" r="2.3"/><circle cx="296.03" cy="179.78" r="2.3"/><circle cx="296.03" cy="179.43" r="2.3"/><circle cx="296.03" cy="179.98" r="2.3"/><circle cx="296.03" cy="181.12" r="2.3"/><circle cx="296.03" cy="183" r="2.3"/><circle cx="296.03" cy="184.31" r="2.3"/><circle cx="296.03" cy="184.1" r="2.3"/><circle cx="296.03" cy="184.79" r="2.3"/><circle cx="296.03" cy="186.26" r="2.3"/><circle cx="296.03" cy="186.48" r="2.3"/><circle cx="296.03" cy="186.76" r="2.3"/><circle cx="296.03" cy="188.02" r="2.3"/><circle cx="296.03" cy="189.57" r="2.3"/><circle cx="296.03" cy="190.12" r="2.3"/><circle cx="296.03" cy="190.74" r="2.3"/><circle cx="296.03" cy="191.68" r="2.3"/><circle cx="296.03" cy="192.01" r="2.3"/><circle cx="296.03" cy="194.11" r="2.3"/><circle cx="296.03" cy="194.16" r="2.3"/><circle cx="296.03" cy="195.64" r="2.3"/><circle cx="296.03" cy="196.23" r="2.3"/><circle cx="296.03" cy="197.74" r="2.3"/><circle cx="296.03" cy="198.37" r="2.3"/><circle cx="296.03" cy="197.89" r="2.3"/><circle cx="296.03" cy="199.36" r="2.3"/><circle cx="296.03" cy="199.33" r="2.3"/><circle cx="296.03" cy="201.65" r="2.3"/><circle cx="296.03" cy="201.45" r="2.3"/><circle cx="296.03" cy="203.78" r="2.3"/><circle cx="296.03" cy="203.12" r="2.3"/><circle cx="296.03" cy="204.53" r="2.3"/><circle cx="296.03" cy="205.33" r="2.3"/><circle cx="296.03" cy="206.85" r="2.3"/><circle cx="296.03" cy="207.22" r="2.3"/><circle cx="296.03" cy="208.64" r="2.3"/><circle cx="296.03" cy="208.35" r="2.3"/><circle cx="296.03" cy="208.75" r="2.3"/><circle cx="296.03" cy="209.77" r="2.3"/><circle cx="296.03" cy="210.33" r="2.3"/><circle cx="296.03" cy="212.49" r="2.3"/><circle cx="296.03" cy="126.6" r="2.3"/><circle cx="296.03" cy="133.2" r="2.3"/><circle cx="296.03" cy="136.3" r="2.3"/><circle cx="296.03" cy="218.6" r="2.3"/><circle cx="296.03" cy="222.7" r="2.3"/><circle cx="296.03" cy="226.3" r="2.3"/><circle cx="296.03" cy="232" r="2.3"/><circle cx="296.03" cy="234" r="2.3"/><circle cx="296.03" cy="236" r="2.3"/><circle cx="296.03" cy="241.2" r="2.3"/><circle cx="302.64" cy="143.57" r="2.3"/><circle cx="302.64" cy="146.11" r="2.3"/><circle cx="302.64" cy="148.56" r="2.3"/><circle cx="302.64" cy="149.65" r="2.3"/><circle cx="302.64" cy="151.93" r="2.3"/><circle cx="302.64" cy="154.75" r="2.3"/><circle cx="302.64" cy="154.3" r="2.3"/><circle cx="302.64" cy="155.84" r="2.3"/><circle cx="302.64" cy="157.21" r="2.3"/><circle cx="302.64" cy="158.21" r="2.3"/><circle cx="302.64" cy="159" r="2.3"/><circle cx="302.64" cy="160.54" r="2.3"/><circle cx="302.64" cy="161.46" r="2.3"/><circle cx="302.64" cy="161" r="2.3"/><circle cx="302.64" cy="161.87" r="2.3"/><circle cx="302.64" cy="162.15" r="2.3"/><circle cx="302.64" cy="163.22" r="2.3"/><circle cx="302.64" cy="164.72" r="2.3"/><circle cx="302.64" cy="166" r="2.3"/><circle cx="302.64" cy="166.05" r="2.3"/><circle cx="302.64" cy="166.65" r="2.3"/><circle cx="302.64" cy="168.69" r="2.3"/><circle cx="302.64" cy="169.53" r="2.3"/><circle cx="302.64" cy="170.05" r="2.3"/><circle cx="302.64" cy="170.2" r="2.3"/><circle cx="302.64" cy="171.18" r="2.3"/><circle cx="302.64" cy="172.19" r="2.3"/><circle cx="302.64" cy="174.23" r="2.3"/><circle cx="302.64" cy="175.24" r="2.3"/><circle cx="302.64" cy="174.35" r="2.3"/><circle cx="302.64" cy="177" r="2.3"/><circle cx="302.64" cy="177.82" r="2.3"/><circle cx="302.64" cy="178.45" r="2.3"/><circle cx="302.64" cy="178.2" r="2.3"/><circle cx="302.64" cy="180.53" r="2.3"/><circle cx="302.64" cy="181.08" r="2.3"/><circle cx="302.64" cy="180.61" r="2.3"/><circle cx="302.64" cy="181.27" r="2.3"/><circle cx="302.64" cy="182.82" r="2.3"/><circle cx="302.64" cy="184.09" r="2.3"/><circle cx="302.64" cy="183.85" r="2.3"/><circle cx="302.64" cy="186.58" r="2.3"/><circle cx="302.64" cy="186.88" r="2.3"/><circle cx="302.64" cy="187.44" r="2.3"/><circle cx="302.64" cy="188.26" r="2.3"/><circle cx="302.64" cy="188.35" r="2.3"/><circle cx="302.64" cy="190.5" r="2.3"/><circle cx="302.64" cy="191.36" r="2.3"/><circle cx="302.64" cy="190.79" r="2.3"/><circle cx="302.64" cy="193.23" r="2.3"/><circle cx="302.64" cy="193.19" r="2.3"/><circle cx="302.64" cy="195.21" r="2.3"/><circle cx="302.64" cy="194.9" r="2.3"/><circle cx="302.64" cy="195.51" r="2.3"/><circle cx="302.64" cy="196.34" r="2.3"/><circle cx="302.64" cy="197.48" r="2.3"/><circle cx="302.64" cy="197.83" r="2.3"/><circle cx="302.64" cy="198.88" r="2.3"/><circle cx="302.64" cy="200.37" r="2.3"/><circle cx="302.64" cy="201.39" r="2.3"/><circle cx="302.64" cy="202.27" r="2.3"/><circle cx="302.64" cy="202.29" r="2.3"/><circle cx="302.64" cy="202.94" r="2.3"/><circle cx="302.64" cy="204.05" r="2.3"/><circle cx="302.64" cy="206.43" r="2.3"/><circle cx="302.64" cy="205.77" r="2.3"/><circle cx="302.64" cy="207.73" r="2.3"/><circle cx="302.64" cy="208.34" r="2.3"/><circle cx="302.64" cy="209.3" r="2.3"/><circle cx="302.64" cy="210.84" r="2.3"/><circle cx="302.64" cy="124.9" r="2.3"/><circle cx="302.64" cy="215" r="2.3"/><circle cx="302.64" cy="219" r="2.3"/><circle cx="302.64" cy="222.7" r="2.3"/><circle cx="302.64" cy="229.3" r="2.3"/><circle cx="302.64" cy="234" r="2.3"/></g><path d="M51.46 195.87L54.81 201.62L48.11 201.62ZM58.07 195.24L61.42 200.99L54.72 200.99ZM64.68 194.15L68.03 199.9L61.33 199.9ZM71.29 192.83L74.64 198.58L67.94 198.58ZM77.9 191.07L81.25 196.82L74.55 196.82ZM84.51 189.01L87.86 194.76L81.16 194.76ZM91.12 186.81L94.47 192.56L87.77 192.56ZM97.73 184.17L101.08 189.92L94.38 189.92ZM104.34 181.08L107.69 186.83L100.99 186.83ZM110.95 177.85L114.3 183.6L107.6 183.6ZM117.56 174.77L120.91 180.52L114.21 180.52ZM124.17 171.83L127.52 177.58L120.82 177.58ZM130.78 169.05L134.13 174.8L127.43 174.8ZM137.39 166.26L140.74 172.01L134.04 172.01ZM144 163.08L147.35 168.83L140.65 168.83ZM150.61 159.97L153.96 165.72L147.26 165.72ZM157.22 157.39L160.57 163.14L153.87 163.14ZM163.83 155.04L167.18 160.79L160.48 160.79ZM170.44 152.84L173.79 158.59L167.09 158.59ZM177.05 151.02L180.4 156.77L173.7 156.77ZM183.66 149.72L187.01 155.47L180.31 155.47ZM190.27 148.84L193.62 154.59L186.92 154.59ZM196.88 148.23L200.23 153.98L193.53 153.98ZM203.49 148.08L206.84 153.83L200.14 153.83ZM210.1 148.55L213.45 154.3L206.75 154.3ZM216.71 149.52L220.06 155.27L213.36 155.27ZM223.32 150.9L226.67 156.65L219.97 156.65ZM229.93 152.63L233.28 158.38L226.58 158.38ZM236.54 154.45L239.89 160.2L233.19 160.2ZM243.15 156.45L246.5 162.2L239.8 162.2ZM249.76 158.74L253.11 164.49L246.41 164.49ZM256.37 161L259.72 166.75L253.02 166.75ZM262.98 163.26L266.33 169.01L259.63 169.01ZM269.59 165.79L272.94 171.54L266.24 171.54ZM276.2 168.43L279.55 174.18L272.85 174.18ZM282.81 170.66L286.16 176.41L279.46 176.41ZM289.42 172.51L292.77 178.26L286.07 178.26ZM296.03 174.27L299.38 180.02L292.68 180.02ZM302.64 175.77L305.99 181.52L299.29 181.52ZM309.25 176.94L312.6 182.69L305.9 182.69ZM315.86 177.82L319.21 183.57L312.51 183.57ZM322.47 178.26L325.82 184.01L319.12 184.01Z" fill="#ee6a4c"/><rect x="38.5" y="68.2" width="297" height="257.3" fill="none" stroke="#333333" stroke-width="0.8"/><path d="M51.46 325.5v3.8M77.9 325.5v3.8M104.34 325.5v3.8M130.78 325.5v3.8M157.22 325.5v3.8M183.66 325.5v3.8M210.1 325.5v3.8M236.54 325.5v3.8M262.98 325.5v3.8M289.42 325.5v3.8M315.86 325.5v3.8M34.9 314.5h3.6M34.9 255.78h3.6M34.9 197.05h3.6M34.9 138.32h3.6M34.9 79.6h3.6" stroke="#333333" stroke-width="1.0"/><text x="51.46" y="339.7" font-size="10.4" fill="#4d4d4d" text-anchor="middle">0</text><text x="77.9" y="339.7" font-size="10.4" fill="#4d4d4d" text-anchor="middle">4</text><text x="104.34" y="339.7" font-size="10.4" fill="#4d4d4d" text-anchor="middle">8</text><text x="130.78" y="339.7" font-size="10.4" fill="#4d4d4d" text-anchor="middle">12</text><text x="157.22" y="339.7" font-size="10.4" fill="#4d4d4d" text-anchor="middle">16</text><text x="183.66" y="339.7" font-size="10.4" fill="#4d4d4d" text-anchor="middle">20</text><text x="210.1" y="339.7" font-size="10.4" fill="#4d4d4d" text-anchor="middle">24</text><text x="236.54" y="339.7" font-size="10.4" fill="#4d4d4d" text-anchor="middle">28</text><text x="262.98" y="339.7" font-size="10.4" fill="#4d4d4d" text-anchor="middle">32</text><text x="289.42" y="339.7" font-size="10.4" fill="#4d4d4d" text-anchor="middle">36</text><text x="315.86" y="339.7" font-size="10.4" fill="#4d4d4d" text-anchor="middle">40</text><text x="32.6" y="318.6" font-size="10.4" fill="#4d4d4d" text-anchor="end">0.0</text><text x="32.6" y="259.88" font-size="10.4" fill="#4d4d4d" text-anchor="end">0.5</text><text x="32.6" y="201.15" font-size="10.4" fill="#4d4d4d" text-anchor="end">1.0</text><text x="32.6" y="142.42" font-size="10.4" fill="#4d4d4d" text-anchor="end">1.5</text><text x="32.6" y="83.7" font-size="10.4" fill="#4d4d4d" text-anchor="end">2.0</text><text x="187" y="354" font-size="12.65" text-anchor="middle">Gestational week</text><text transform="translate(11.8,196.85) rotate(-90)" font-size="12.65" text-anchor="middle">Value</text><path d="M102.5 35.6L105.9 41.2L99.1 41.2Z" fill="#ee6a4c"/><text x="118.6" y="41" font-size="10.25" font-style="italic">k<tspan font-size="8" dy="2.9">gw</tspan></text><circle cx="150.7" cy="38.9" r="2" fill="#1e90ff" fill-opacity="0.55"/><text x="167.1" y="41.6" font-size="10.4">Overall hyperfiltration ratio</text><text x="387.0" y="12.6" font-size="15" font-weight="bold">b</text><path d="M407.15 22.5V325.5M413.7 22.5V325.5M420.24 22.5V325.5M433.34 22.5V325.5M439.89 22.5V325.5M446.44 22.5V325.5M459.53 22.5V325.5M466.08 22.5V325.5M472.63 22.5V325.5M485.72 22.5V325.5M492.27 22.5V325.5M498.82 22.5V325.5M511.92 22.5V325.5M518.46 22.5V325.5M525.01 22.5V325.5M538.11 22.5V325.5M544.66 22.5V325.5M551.2 22.5V325.5M564.3 22.5V325.5M570.85 22.5V325.5M577.4 22.5V325.5M590.49 22.5V325.5M597.04 22.5V325.5M603.59 22.5V325.5M616.68 22.5V325.5M623.23 22.5V325.5M629.78 22.5V325.5M642.88 22.5V325.5M649.42 22.5V325.5M655.97 22.5V325.5M669.07 22.5V325.5M387.4 301.07H682.2M387.4 289.54H682.2M387.4 278.02H682.2M387.4 266.49H682.2M387.4 243.43H682.2M387.4 231.9H682.2M387.4 220.38H682.2M387.4 208.85H682.2M387.4 185.79H682.2M387.4 174.26H682.2M387.4 162.74H682.2M387.4 151.21H682.2M387.4 128.15H682.2M387.4 116.62H682.2M387.4 105.1H682.2M387.4 93.57H682.2M387.4 70.51H682.2M387.4 58.98H682.2M387.4 47.46H682.2M387.4 35.93H682.2" stroke="#ebebeb" stroke-width="0.55" fill="none"/><path d="M400.6 22.5V325.5M426.79 22.5V325.5M452.98 22.5V325.5M479.18 22.5V325.5M505.37 22.5V325.5M531.56 22.5V325.5M557.75 22.5V325.5M583.94 22.5V325.5M610.14 22.5V325.5M636.33 22.5V325.5M662.52 22.5V325.5M387.4 312.6H682.2M387.4 254.96H682.2M387.4 197.32H682.2M387.4 139.68H682.2M387.4 82.04H682.2M387.4 24.4H682.2" stroke="#ebebeb" stroke-width="1.1" fill="none"/><g fill="#1e90ff" fill-opacity="0.55" stroke="#1e90ff" stroke-opacity="0.55" stroke-width="0.6"><circle cx="400.6" cy="173.24" r="2.3"/><circle cx="400.6" cy="182.94" r="2.3"/><circle cx="400.6" cy="191.76" r="2.3"/><circle cx="400.6" cy="202.94" r="2.3"/><circle cx="400.6" cy="205.88" r="2.3"/><circle cx="400.6" cy="208.82" r="2.3"/><circle cx="407.15" cy="154.12" r="2.3"/><circle cx="407.15" cy="172.65" r="2.3"/><circle cx="407.15" cy="187.94" r="2.3"/><circle cx="407.15" cy="209.41" r="2.3"/><circle cx="407.15" cy="220.59" r="2.3"/><circle cx="407.15" cy="223.53" r="2.3"/><circle cx="413.7" cy="169.12" r="2.3"/><circle cx="413.7" cy="171.76" r="2.3"/><circle cx="413.7" cy="182.35" r="2.3"/><circle cx="413.7" cy="190.29" r="2.3"/><circle cx="413.7" cy="197.65" r="2.3"/><circle cx="413.7" cy="207.94" r="2.3"/><circle cx="413.7" cy="215.88" r="2.3"/><circle cx="413.7" cy="235" r="2.3"/><circle cx="420.24" cy="188.82" r="2.3"/><circle cx="420.24" cy="200" r="2.3"/><circle cx="420.24" cy="208.82" r="2.3"/><circle cx="426.79" cy="128.53" r="2.3"/><circle cx="426.79" cy="167.35" r="2.3"/><circle cx="426.79" cy="185.88" r="2.3"/><circle cx="426.79" cy="191.76" r="2.3"/><circle cx="426.79" cy="196.18" r="2.3"/><circle cx="426.79" cy="203.53" r="2.3"/><circle cx="426.79" cy="206.47" r="2.3"/><circle cx="426.79" cy="215.29" r="2.3"/><circle cx="433.34" cy="110" r="2.3"/><circle cx="433.34" cy="144.71" r="2.3"/><circle cx="433.34" cy="149.12" r="2.3"/><circle cx="433.34" cy="178.53" r="2.3"/><circle cx="433.34" cy="181.47" r="2.3"/><circle cx="433.34" cy="184.41" r="2.3"/><circle cx="433.34" cy="185.88" r="2.3"/><circle cx="433.34" cy="190.29" r="2.3"/><circle cx="433.34" cy="196.76" r="2.3"/><circle cx="433.34" cy="199.12" r="2.3"/><circle cx="433.34" cy="202.06" r="2.3"/><circle cx="433.34" cy="221.76" r="2.3"/><circle cx="439.89" cy="141.76" r="2.3"/><circle cx="439.89" cy="146.18" r="2.3"/><circle cx="439.89" cy="159.41" r="2.3"/><circle cx="439.89" cy="162.35" r="2.3"/><circle cx="439.89" cy="165.29" r="2.3"/><circle cx="439.89" cy="169.71" r="2.3"/><circle cx="439.89" cy="174.12" r="2.3"/><circle cx="439.89" cy="178.53" r="2.3"/><circle cx="439.89" cy="181.47" r="2.3"/><circle cx="439.89" cy="184.41" r="2.3"/><circle cx="439.89" cy="190.29" r="2.3"/><circle cx="439.89" cy="193.24" r="2.3"/><circle cx="439.89" cy="197.65" r="2.3"/><circle cx="439.89" cy="202.06" r="2.3"/><circle cx="439.89" cy="206.47" r="2.3"/><circle cx="439.89" cy="222.06" r="2.3"/><circle cx="439.89" cy="237.94" r="2.3"/><circle cx="446.44" cy="138.24" r="2.3"/><circle cx="446.44" cy="158.53" r="2.3"/><circle cx="446.44" cy="160.88" r="2.3"/><circle cx="446.44" cy="168.82" r="2.3"/><circle cx="446.44" cy="174.12" r="2.3"/><circle cx="446.44" cy="178.53" r="2.3"/><circle cx="446.44" cy="182.94" r="2.3"/><circle cx="446.44" cy="187.35" r="2.3"/><circle cx="446.44" cy="191.76" r="2.3"/><circle cx="446.44" cy="200" r="2.3"/><circle cx="446.44" cy="215.29" r="2.3"/><circle cx="446.44" cy="219.71" r="2.3"/><circle cx="452.98" cy="122.06" r="2.3"/><circle cx="452.98" cy="131.47" r="2.3"/><circle cx="452.98" cy="134.41" r="2.3"/><circle cx="452.98" cy="155.59" r="2.3"/><circle cx="452.98" cy="163.82" r="2.3"/><circle cx="452.98" cy="168.24" r="2.3"/><circle cx="452.98" cy="171.18" r="2.3"/><circle cx="452.98" cy="174.12" r="2.3"/><circle cx="452.98" cy="177.06" r="2.3"/><circle cx="452.98" cy="182.94" r="2.3"/><circle cx="452.98" cy="187.35" r="2.3"/><circle cx="452.98" cy="199.12" r="2.3"/><circle cx="459.53" cy="130.59" r="2.3"/><circle cx="459.53" cy="135.88" r="2.3"/><circle cx="459.53" cy="138.82" r="2.3"/><circle cx="459.53" cy="152.06" r="2.3"/><circle cx="459.53" cy="164.41" r="2.3"/><circle cx="459.53" cy="168.24" r="2.3"/><circle cx="459.53" cy="172.65" r="2.3"/><circle cx="459.53" cy="174.12" r="2.3"/><circle cx="459.53" cy="190.29" r="2.3"/><circle cx="459.53" cy="194.71" r="2.3"/><circle cx="459.53" cy="205.59" r="2.3"/><circle cx="466.08" cy="124.12" r="2.3"/><circle cx="466.08" cy="126.18" r="2.3"/><circle cx="466.08" cy="144.71" r="2.3"/><circle cx="466.08" cy="147.65" r="2.3"/><circle cx="466.08" cy="170.59" r="2.3"/><circle cx="466.08" cy="191.76" r="2.3"/><circle cx="472.63" cy="102.06" r="2.3"/><circle cx="472.63" cy="104.41" r="2.3"/><circle cx="472.63" cy="119.71" r="2.3"/><circle cx="472.63" cy="127.06" r="2.3"/><circle cx="472.63" cy="130" r="2.3"/><circle cx="472.63" cy="132.94" r="2.3"/><circle cx="472.63" cy="135.88" r="2.3"/><circle cx="472.63" cy="144.71" r="2.3"/><circle cx="472.63" cy="147.65" r="2.3"/><circle cx="472.63" cy="149.12" r="2.3"/><circle cx="472.63" cy="163.82" r="2.3"/><circle cx="472.63" cy="166.76" r="2.3"/><circle cx="472.63" cy="172.65" r="2.3"/><circle cx="472.63" cy="180" r="2.3"/><circle cx="472.63" cy="187.35" r="2.3"/><circle cx="479.18" cy="97.06" r="2.3"/><circle cx="479.18" cy="106.47" r="2.3"/><circle cx="479.18" cy="115.29" r="2.3"/><circle cx="479.18" cy="117.65" r="2.3"/><circle cx="479.18" cy="121.18" r="2.3"/><circle cx="479.18" cy="124.12" r="2.3"/><circle cx="479.18" cy="138.82" r="2.3"/><circle cx="479.18" cy="140.29" r="2.3"/><circle cx="479.18" cy="147.65" r="2.3"/><circle cx="479.18" cy="150.59" r="2.3"/><circle cx="479.18" cy="156.47" r="2.3"/><circle cx="479.18" cy="162.35" r="2.3"/><circle cx="479.18" cy="166.76" r="2.3"/><circle cx="479.18" cy="168.24" r="2.3"/><circle cx="479.18" cy="231.47" r="2.3"/><circle cx="485.72" cy="89.71" r="2.3"/><circle cx="485.72" cy="115.29" r="2.3"/><circle cx="485.72" cy="127.06" r="2.3"/><circle cx="485.72" cy="131.47" r="2.3"/><circle cx="485.72" cy="138.82" r="2.3"/><circle cx="485.72" cy="146.18" r="2.3"/><circle cx="485.72" cy="162.35" r="2.3"/><circle cx="485.72" cy="182.94" r="2.3"/><circle cx="485.72" cy="185.88" r="2.3"/><circle cx="485.72" cy="188.82" r="2.3"/><circle cx="492.27" cy="99.12" r="2.3"/><circle cx="492.27" cy="103.53" r="2.3"/><circle cx="492.27" cy="110.88" r="2.3"/><circle cx="492.27" cy="113.82" r="2.3"/><circle cx="492.27" cy="125.59" r="2.3"/><circle cx="492.27" cy="131.47" r="2.3"/><circle cx="492.27" cy="132.94" r="2.3"/><circle cx="492.27" cy="135.88" r="2.3"/><circle cx="492.27" cy="138.82" r="2.3"/><circle cx="492.27" cy="194.71" r="2.3"/><circle cx="498.82" cy="41.18" r="2.3"/><circle cx="498.82" cy="70.59" r="2.3"/><circle cx="498.82" cy="80.59" r="2.3"/><circle cx="498.82" cy="109.41" r="2.3"/><circle cx="498.82" cy="136.47" r="2.3"/><circle cx="498.82" cy="146.18" r="2.3"/><circle cx="498.82" cy="202.06" r="2.3"/><circle cx="505.37" cy="76.18" r="2.3"/><circle cx="505.37" cy="91.18" r="2.3"/><circle cx="505.37" cy="103.53" r="2.3"/><circle cx="505.37" cy="108.82" r="2.3"/><circle cx="505.37" cy="118.24" r="2.3"/><circle cx="505.37" cy="126.18" r="2.3"/><circle cx="505.37" cy="132.94" r="2.3"/><circle cx="505.37" cy="138.82" r="2.3"/><circle cx="505.37" cy="141.76" r="2.3"/><circle cx="505.37" cy="152.94" r="2.3"/><circle cx="505.37" cy="160" r="2.3"/><circle cx="505.37" cy="162.35" r="2.3"/><circle cx="505.37" cy="175" r="2.3"/><circle cx="511.92" cy="77.65" r="2.3"/><circle cx="511.92" cy="98.24" r="2.3"/><circle cx="511.92" cy="115.29" r="2.3"/><circle cx="511.92" cy="123.53" r="2.3"/><circle cx="511.92" cy="143.24" r="2.3"/><circle cx="511.92" cy="148.24" r="2.3"/><circle cx="511.92" cy="158.53" r="2.3"/><circle cx="518.46" cy="91.76" r="2.3"/><circle cx="518.46" cy="94.71" r="2.3"/><circle cx="518.46" cy="100" r="2.3"/><circle cx="518.46" cy="109.41" r="2.3"/><circle cx="518.46" cy="112.35" r="2.3"/><circle cx="518.46" cy="125.59" r="2.3"/><circle cx="518.46" cy="171.18" r="2.3"/><circle cx="525.01" cy="52.94" r="2.3"/><circle cx="525.01" cy="66.18" r="2.3"/><circle cx="525.01" cy="94.71" r="2.3"/><circle cx="525.01" cy="107.94" r="2.3"/><circle cx="525.01" cy="133.53" r="2.3"/><circle cx="525.01" cy="143.82" r="2.3"/><circle cx="531.56" cy="48.53" r="2.3"/><circle cx="531.56" cy="64.41" r="2.3"/><circle cx="531.56" cy="87.94" r="2.3"/><circle cx="531.56" cy="93.24" r="2.3"/><circle cx="531.56" cy="101.18" r="2.3"/><circle cx="531.56" cy="105.88" r="2.3"/><circle cx="531.56" cy="107.94" r="2.3"/><circle cx="531.56" cy="110.88" r="2.3"/><circle cx="531.56" cy="116.76" r="2.3"/><circle cx="531.56" cy="127.06" r="2.3"/><circle cx="531.56" cy="134.41" r="2.3"/><circle cx="531.56" cy="142.35" r="2.3"/><circle cx="531.56" cy="152.94" r="2.3"/><circle cx="538.11" cy="60.29" r="2.3"/><circle cx="538.11" cy="65.29" r="2.3"/><circle cx="538.11" cy="70.59" r="2.3"/><circle cx="538.11" cy="110.29" r="2.3"/><circle cx="538.11" cy="115.29" r="2.3"/><circle cx="538.11" cy="117.65" r="2.3"/><circle cx="538.11" cy="139.41" r="2.3"/><circle cx="544.66" cy="56.47" r="2.3"/><circle cx="544.66" cy="61.76" r="2.3"/><circle cx="544.66" cy="69.71" r="2.3"/><circle cx="544.66" cy="82.94" r="2.3"/><circle cx="544.66" cy="87.35" r="2.3"/><circle cx="544.66" cy="91.76" r="2.3"/><circle cx="544.66" cy="96.18" r="2.3"/><circle cx="544.66" cy="115.29" r="2.3"/><circle cx="544.66" cy="122.65" r="2.3"/><circle cx="544.66" cy="141.18" r="2.3"/><circle cx="544.66" cy="151.18" r="2.3"/><circle cx="551.2" cy="64.71" r="2.3"/><circle cx="551.2" cy="98.53" r="2.3"/><circle cx="551.2" cy="107.06" r="2.3"/><circle cx="551.2" cy="114.71" r="2.3"/><circle cx="551.2" cy="119.71" r="2.3"/><circle cx="551.2" cy="122.65" r="2.3"/><circle cx="551.2" cy="127.65" r="2.3"/><circle cx="551.2" cy="138.24" r="2.3"/><circle cx="557.75" cy="73.24" r="2.3"/><circle cx="557.75" cy="90.29" r="2.3"/><circle cx="557.75" cy="93.24" r="2.3"/><circle cx="557.75" cy="99.12" r="2.3"/><circle cx="557.75" cy="102.06" r="2.3"/><circle cx="557.75" cy="112.35" r="2.3"/><circle cx="557.75" cy="115.29" r="2.3"/><circle cx="557.75" cy="117.65" r="2.3"/><circle cx="557.75" cy="128.53" r="2.3"/><circle cx="557.75" cy="141.18" r="2.3"/><circle cx="564.3" cy="84.41" r="2.3"/><circle cx="564.3" cy="90.29" r="2.3"/><circle cx="564.3" cy="92.35" r="2.3"/><circle cx="564.3" cy="110.88" r="2.3"/><circle cx="564.3" cy="116.76" r="2.3"/><circle cx="564.3" cy="160" r="2.3"/><circle cx="570.85" cy="94.12" r="2.3"/><circle cx="570.85" cy="98.24" r="2.3"/><circle cx="570.85" cy="105" r="2.3"/><circle cx="570.85" cy="110.88" r="2.3"/><circle cx="570.85" cy="118.24" r="2.3"/><circle cx="570.85" cy="122.65" r="2.3"/><circle cx="570.85" cy="131.47" r="2.3"/><circle cx="570.85" cy="135.88" r="2.3"/><circle cx="570.85" cy="143.82" r="2.3"/><circle cx="570.85" cy="166.76" r="2.3"/><circle cx="570.85" cy="169.71" r="2.3"/><circle cx="577.4" cy="63.24" r="2.3"/><circle cx="577.4" cy="83.82" r="2.3"/><circle cx="577.4" cy="94.12" r="2.3"/><circle cx="577.4" cy="102.06" r="2.3"/><circle cx="577.4" cy="120.29" r="2.3"/><circle cx="583.94" cy="33.53" r="2.3"/><circle cx="583.94" cy="71.18" r="2.3"/><circle cx="583.94" cy="76.47" r="2.3"/><circle cx="583.94" cy="81.47" r="2.3"/><circle cx="583.94" cy="85.88" r="2.3"/><circle cx="583.94" cy="90.29" r="2.3"/><circle cx="583.94" cy="97.06" r="2.3"/><circle cx="583.94" cy="100.59" r="2.3"/><circle cx="583.94" cy="106.47" r="2.3"/><circle cx="583.94" cy="117.65" r="2.3"/><circle cx="583.94" cy="130" r="2.3"/><circle cx="583.94" cy="137.35" r="2.3"/><circle cx="583.94" cy="170.29" r="2.3"/><circle cx="590.49" cy="64.71" r="2.3"/><circle cx="590.49" cy="78.53" r="2.3"/><circle cx="590.49" cy="85.88" r="2.3"/><circle cx="590.49" cy="99.12" r="2.3"/><circle cx="590.49" cy="105" r="2.3"/><circle cx="590.49" cy="107.94" r="2.3"/><circle cx="590.49" cy="112.35" r="2.3"/><circle cx="590.49" cy="121.18" r="2.3"/><circle cx="590.49" cy="124.12" r="2.3"/><circle cx="590.49" cy="137.35" r="2.3"/><circle cx="590.49" cy="144.71" r="2.3"/><circle cx="590.49" cy="149.12" r="2.3"/><circle cx="590.49" cy="174.12" r="2.3"/><circle cx="597.04" cy="70.59" r="2.3"/><circle cx="597.04" cy="77.65" r="2.3"/><circle cx="597.04" cy="85.29" r="2.3"/><circle cx="597.04" cy="102.94" r="2.3"/><circle cx="597.04" cy="110.88" r="2.3"/><circle cx="597.04" cy="115.29" r="2.3"/><circle cx="597.04" cy="119.71" r="2.3"/><circle cx="597.04" cy="124.12" r="2.3"/><circle cx="597.04" cy="130" r="2.3"/><circle cx="597.04" cy="134.41" r="2.3"/><circle cx="597.04" cy="144.71" r="2.3"/><circle cx="597.04" cy="153.53" r="2.3"/><circle cx="597.04" cy="159.41" r="2.3"/><circle cx="597.04" cy="168.82" r="2.3"/><circle cx="603.59" cy="94.12" r="2.3"/><circle cx="603.59" cy="105.88" r="2.3"/><circle cx="603.59" cy="109.41" r="2.3"/><circle cx="603.59" cy="115.29" r="2.3"/><circle cx="603.59" cy="119.71" r="2.3"/><circle cx="603.59" cy="127.06" r="2.3"/><circle cx="603.59" cy="131.47" r="2.3"/><circle cx="603.59" cy="135.88" r="2.3"/><circle cx="603.59" cy="141.76" r="2.3"/><circle cx="603.59" cy="147.65" r="2.3"/><circle cx="603.59" cy="153.53" r="2.3"/><circle cx="603.59" cy="168.82" r="2.3"/><circle cx="603.59" cy="200" r="2.3"/><circle cx="610.14" cy="71.18" r="2.3"/><circle cx="610.14" cy="75.59" r="2.3"/><circle cx="610.14" cy="78.53" r="2.3"/><circle cx="610.14" cy="90.29" r="2.3"/><circle cx="610.14" cy="97.65" r="2.3"/><circle cx="610.14" cy="102.06" r="2.3"/><circle cx="610.14" cy="106.47" r="2.3"/><circle cx="610.14" cy="110.88" r="2.3"/><circle cx="610.14" cy="115.29" r="2.3"/><circle cx="610.14" cy="121.18" r="2.3"/><circle cx="610.14" cy="125.59" r="2.3"/><circle cx="610.14" cy="131.47" r="2.3"/><circle cx="610.14" cy="137.35" r="2.3"/><circle cx="610.14" cy="143.24" r="2.3"/><circle cx="610.14" cy="146.18" r="2.3"/><circle cx="610.14" cy="159.41" r="2.3"/><circle cx="610.14" cy="188.24" r="2.3"/><circle cx="616.68" cy="51.76" r="2.3"/><circle cx="616.68" cy="84.41" r="2.3"/><circle cx="616.68" cy="91.76" r="2.3"/><circle cx="616.68" cy="99.12" r="2.3"/><circle cx="616.68" cy="106.47" r="2.3"/><circle cx="616.68" cy="113.82" r="2.3"/><circle cx="616.68" cy="121.18" r="2.3"/><circle cx="616.68" cy="124.12" r="2.3"/><circle cx="616.68" cy="128.53" r="2.3"/><circle cx="616.68" cy="138.82" r="2.3"/><circle cx="616.68" cy="141.76" r="2.3"/><circle cx="616.68" cy="149.12" r="2.3"/><circle cx="616.68" cy="159.41" r="2.3"/><circle cx="616.68" cy="168.82" r="2.3"/><circle cx="616.68" cy="197.06" r="2.3"/><circle cx="616.68" cy="230" r="2.3"/><circle cx="655.97" cy="105.93" r="2.3"/><circle cx="655.97" cy="111.69" r="2.3"/><circle cx="655.97" cy="117.45" r="2.3"/><circle cx="655.97" cy="127.54" r="2.3"/><circle cx="655.97" cy="134.74" r="2.3"/><circle cx="655.97" cy="141.94" r="2.3"/><circle cx="655.97" cy="147.7" r="2.3"/><circle cx="655.97" cy="154.91" r="2.3"/><circle cx="655.97" cy="162.11" r="2.3"/><circle cx="655.97" cy="167.87" r="2.3"/><circle cx="655.97" cy="173.63" r="2.3"/><circle cx="655.97" cy="179.39" r="2.3"/><circle cx="655.97" cy="185.16" r="2.3"/><circle cx="655.97" cy="189.48" r="2.3"/><circle cx="655.97" cy="193.8" r="2.3"/><circle cx="655.97" cy="209.65" r="2.3"/><circle cx="655.97" cy="227.51" r="2.3"/><circle cx="662.52" cy="107.37" r="2.3"/><circle cx="662.52" cy="108.81" r="2.3"/><circle cx="662.52" cy="121.77" r="2.3"/><circle cx="662.52" cy="128.98" r="2.3"/><circle cx="662.52" cy="136.18" r="2.3"/><circle cx="662.52" cy="147.7" r="2.3"/><circle cx="662.52" cy="153.47" r="2.3"/><circle cx="662.52" cy="160.67" r="2.3"/><circle cx="662.52" cy="166.43" r="2.3"/><circle cx="662.52" cy="172.19" r="2.3"/><circle cx="662.52" cy="177.95" r="2.3"/><circle cx="662.52" cy="182.28" r="2.3"/><circle cx="662.52" cy="189.48" r="2.3"/><circle cx="662.52" cy="193.8" r="2.3"/><circle cx="662.52" cy="205.32" r="2.3"/><circle cx="669.07" cy="126.67" r="2.3"/><circle cx="669.07" cy="128.98" r="2.3"/><circle cx="669.07" cy="136.18" r="2.3"/><circle cx="669.07" cy="149.14" r="2.3"/><circle cx="669.07" cy="152.03" r="2.3"/><circle cx="669.07" cy="155.48" r="2.3"/><circle cx="669.07" cy="161.24" r="2.3"/><circle cx="669.07" cy="201" r="2.3"/><circle cx="433.34" cy="280.78" r="2.3"/><circle cx="603.59" cy="300.15" r="2.3"/><circle cx="655.97" cy="145.34" r="2.3"/><circle cx="655.97" cy="172.15" r="2.3"/><circle cx="655.97" cy="161.05" r="2.3"/><circle cx="655.97" cy="152.11" r="2.3"/><circle cx="655.97" cy="154.07" r="2.3"/><circle cx="655.97" cy="142.14" r="2.3"/><circle cx="655.97" cy="136.05" r="2.3"/><circle cx="655.97" cy="185.28" r="2.3"/><circle cx="655.97" cy="168.42" r="2.3"/><circle cx="655.97" cy="140.19" r="2.3"/><circle cx="655.97" cy="178.19" r="2.3"/><circle cx="655.97" cy="141.08" r="2.3"/><circle cx="655.97" cy="169.74" r="2.3"/><circle cx="655.97" cy="165.2" r="2.3"/><circle cx="655.97" cy="177.81" r="2.3"/><circle cx="655.97" cy="154.74" r="2.3"/><circle cx="662.52" cy="187.31" r="2.3"/><circle cx="662.52" cy="173.15" r="2.3"/><circle cx="662.52" cy="156.95" r="2.3"/><circle cx="662.52" cy="137.26" r="2.3"/><circle cx="662.52" cy="145.49" r="2.3"/><circle cx="662.52" cy="137.94" r="2.3"/><circle cx="662.52" cy="161.27" r="2.3"/><circle cx="662.52" cy="178.35" r="2.3"/><circle cx="662.52" cy="174.53" r="2.3"/><circle cx="662.52" cy="168.22" r="2.3"/><circle cx="662.52" cy="155.61" r="2.3"/><circle cx="662.52" cy="146.71" r="2.3"/><circle cx="662.52" cy="178.23" r="2.3"/><circle cx="662.52" cy="170.27" r="2.3"/><circle cx="662.52" cy="169.82" r="2.3"/><circle cx="662.52" cy="163.49" r="2.3"/><circle cx="623.23" cy="107.38" r="2.3"/><circle cx="623.23" cy="107.65" r="2.3"/><circle cx="623.23" cy="107.63" r="2.3"/><circle cx="623.23" cy="108.66" r="2.3"/><circle cx="623.23" cy="109.26" r="2.3"/><circle cx="623.23" cy="109.98" r="2.3"/><circle cx="623.23" cy="112.2" r="2.3"/><circle cx="623.23" cy="112.51" r="2.3"/><circle cx="623.23" cy="113.03" r="2.3"/><circle cx="623.23" cy="113.4" r="2.3"/><circle cx="623.23" cy="114.24" r="2.3"/><circle cx="623.23" cy="114.09" r="2.3"/><circle cx="623.23" cy="115.74" r="2.3"/><circle cx="623.23" cy="116.77" r="2.3"/><circle cx="623.23" cy="116.96" r="2.3"/><circle cx="623.23" cy="118.1" r="2.3"/><circle cx="623.23" cy="120.04" r="2.3"/><circle cx="623.23" cy="120.59" r="2.3"/><circle cx="623.23" cy="119.34" r="2.3"/><circle cx="623.23" cy="122.19" r="2.3"/><circle cx="623.23" cy="122.59" r="2.3"/><circle cx="623.23" cy="123.39" r="2.3"/><circle cx="623.23" cy="124.13" r="2.3"/><circle cx="623.23" cy="123.46" r="2.3"/><circle cx="623.23" cy="124.04" r="2.3"/><circle cx="623.23" cy="126.02" r="2.3"/><circle cx="623.23" cy="127.23" r="2.3"/><circle cx="623.23" cy="126.24" r="2.3"/><circle cx="623.23" cy="126.79" r="2.3"/><circle cx="623.23" cy="129.79" r="2.3"/><circle cx="623.23" cy="130.46" r="2.3"/><circle cx="623.23" cy="129.67" r="2.3"/><circle cx="623.23" cy="131.79" r="2.3"/><circle cx="623.23" cy="131.28" r="2.3"/><circle cx="623.23" cy="133.34" r="2.3"/><circle cx="623.23" cy="132.11" r="2.3"/><circle cx="623.23" cy="134.3" r="2.3"/><circle cx="623.23" cy="134.14" r="2.3"/><circle cx="623.23" cy="135.89" r="2.3"/><circle cx="623.23" cy="135.18" r="2.3"/><circle cx="623.23" cy="137.43" r="2.3"/><circle cx="623.23" cy="136.88" r="2.3"/><circle cx="623.23" cy="138.46" r="2.3"/><circle cx="623.23" cy="138.33" r="2.3"/><circle cx="623.23" cy="139.84" r="2.3"/><circle cx="623.23" cy="140.05" r="2.3"/><circle cx="623.23" cy="141.23" r="2.3"/><circle cx="623.23" cy="142.33" r="2.3"/><circle cx="623.23" cy="143.54" r="2.3"/><circle cx="623.23" cy="144.24" r="2.3"/><circle cx="623.23" cy="144.74" r="2.3"/><circle cx="623.23" cy="146.29" r="2.3"/><circle cx="623.23" cy="145.99" r="2.3"/><circle cx="623.23" cy="146.11" r="2.3"/><circle cx="623.23" cy="148.16" r="2.3"/><circle cx="623.23" cy="148.14" r="2.3"/><circle cx="623.23" cy="150.28" r="2.3"/><circle cx="623.23" cy="149.74" r="2.3"/><circle cx="623.23" cy="149.59" r="2.3"/><circle cx="623.23" cy="151.15" r="2.3"/><circle cx="623.23" cy="153.38" r="2.3"/><circle cx="623.23" cy="152.99" r="2.3"/><circle cx="623.23" cy="154.57" r="2.3"/><circle cx="623.23" cy="154.24" r="2.3"/><circle cx="623.23" cy="155.58" r="2.3"/><circle cx="623.23" cy="155.06" r="2.3"/><circle cx="623.23" cy="156.13" r="2.3"/><circle cx="623.23" cy="156.65" r="2.3"/><circle cx="623.23" cy="158.13" r="2.3"/><circle cx="623.23" cy="158.7" r="2.3"/><circle cx="623.23" cy="160.02" r="2.3"/><circle cx="623.23" cy="161" r="2.3"/><circle cx="623.23" cy="160.78" r="2.3"/><circle cx="623.23" cy="161.6" r="2.3"/><circle cx="623.23" cy="161.78" r="2.3"/><circle cx="623.23" cy="162.77" r="2.3"/><circle cx="623.23" cy="164.16" r="2.3"/><circle cx="623.23" cy="166.16" r="2.3"/><circle cx="623.23" cy="165.21" r="2.3"/><circle cx="623.23" cy="166.5" r="2.3"/><circle cx="623.23" cy="166.31" r="2.3"/><circle cx="623.23" cy="168.45" r="2.3"/><circle cx="623.23" cy="168.81" r="2.3"/><circle cx="623.23" cy="169.35" r="2.3"/><circle cx="623.23" cy="170.26" r="2.3"/><circle cx="623.23" cy="170.73" r="2.3"/><circle cx="623.23" cy="171.82" r="2.3"/><circle cx="623.23" cy="172.04" r="2.3"/><circle cx="623.23" cy="174.07" r="2.3"/><circle cx="623.23" cy="175.36" r="2.3"/><circle cx="623.23" cy="95.7" r="2.3"/><circle cx="623.23" cy="98" r="2.3"/><circle cx="623.23" cy="103" r="2.3"/><circle cx="623.23" cy="178" r="2.3"/><circle cx="623.23" cy="183" r="2.3"/><circle cx="623.23" cy="188" r="2.3"/><circle cx="623.23" cy="196" r="2.3"/><circle cx="623.23" cy="215.4" r="2.3"/><circle cx="623.23" cy="275.3" r="2.3"/><circle cx="629.78" cy="109.38" r="2.3"/><circle cx="629.78" cy="108.88" r="2.3"/><circle cx="629.78" cy="108.83" r="2.3"/><circle cx="629.78" cy="111.45" r="2.3"/><circle cx="629.78" cy="111.51" r="2.3"/><circle cx="629.78" cy="112.51" r="2.3"/><circle cx="629.78" cy="113.57" r="2.3"/><circle cx="629.78" cy="114.75" r="2.3"/><circle cx="629.78" cy="114.84" r="2.3"/><circle cx="629.78" cy="115.44" r="2.3"/><circle cx="629.78" cy="115.52" r="2.3"/><circle cx="629.78" cy="116.1" r="2.3"/><circle cx="629.78" cy="117.2" r="2.3"/><circle cx="629.78" cy="117.97" r="2.3"/><circle cx="629.78" cy="120.66" r="2.3"/><circle cx="629.78" cy="120.56" r="2.3"/><circle cx="629.78" cy="120.07" r="2.3"/><circle cx="629.78" cy="121.56" r="2.3"/><circle cx="629.78" cy="122.59" r="2.3"/><circle cx="629.78" cy="124.4" r="2.3"/><circle cx="629.78" cy="124.19" r="2.3"/><circle cx="629.78" cy="125.31" r="2.3"/><circle cx="629.78" cy="125.43" r="2.3"/><circle cx="629.78" cy="126.38" r="2.3"/><circle cx="629.78" cy="126.59" r="2.3"/><circle cx="629.78" cy="129.08" r="2.3"/><circle cx="629.78" cy="129.17" r="2.3"/><circle cx="629.78" cy="130.56" r="2.3"/><circle cx="629.78" cy="130.97" r="2.3"/><circle cx="629.78" cy="130.61" r="2.3"/><circle cx="629.78" cy="131.85" r="2.3"/><circle cx="629.78" cy="132.77" r="2.3"/><circle cx="629.78" cy="134.68" r="2.3"/><circle cx="629.78" cy="134.43" r="2.3"/><circle cx="629.78" cy="136.72" r="2.3"/><circle cx="629.78" cy="137.11" r="2.3"/><circle cx="629.78" cy="137.66" r="2.3"/><circle cx="629.78" cy="138.08" r="2.3"/><circle cx="629.78" cy="139.26" r="2.3"/><circle cx="629.78" cy="139.21" r="2.3"/><circle cx="629.78" cy="139.45" r="2.3"/><circle cx="629.78" cy="142.06" r="2.3"/><circle cx="629.78" cy="141.9" r="2.3"/><circle cx="629.78" cy="143.9" r="2.3"/><circle cx="629.78" cy="144.16" r="2.3"/><circle cx="629.78" cy="144.58" r="2.3"/><circle cx="629.78" cy="145.02" r="2.3"/><circle cx="629.78" cy="146.45" r="2.3"/><circle cx="629.78" cy="146.18" r="2.3"/><circle cx="629.78" cy="147.25" r="2.3"/><circle cx="629.78" cy="147.97" r="2.3"/><circle cx="629.78" cy="149.96" r="2.3"/><circle cx="629.78" cy="151.08" r="2.3"/><circle cx="629.78" cy="149.83" r="2.3"/><circle cx="629.78" cy="150.46" r="2.3"/><circle cx="629.78" cy="152.05" r="2.3"/><circle cx="629.78" cy="153.64" r="2.3"/><circle cx="629.78" cy="153.85" r="2.3"/><circle cx="629.78" cy="155.42" r="2.3"/><circle cx="629.78" cy="156.72" r="2.3"/><circle cx="629.78" cy="156.8" r="2.3"/><circle cx="629.78" cy="157.6" r="2.3"/><circle cx="629.78" cy="157.14" r="2.3"/><circle cx="629.78" cy="159" r="2.3"/><circle cx="629.78" cy="159.91" r="2.3"/><circle cx="629.78" cy="159.67" r="2.3"/><circle cx="629.78" cy="160.06" r="2.3"/><circle cx="629.78" cy="162.43" r="2.3"/><circle cx="629.78" cy="163.98" r="2.3"/><circle cx="629.78" cy="163.95" r="2.3"/><circle cx="629.78" cy="163.68" r="2.3"/><circle cx="629.78" cy="166.09" r="2.3"/><circle cx="629.78" cy="165.56" r="2.3"/><circle cx="629.78" cy="166.42" r="2.3"/><circle cx="629.78" cy="168.35" r="2.3"/><circle cx="629.78" cy="169.11" r="2.3"/><circle cx="629.78" cy="170.23" r="2.3"/><circle cx="629.78" cy="170.92" r="2.3"/><circle cx="629.78" cy="169.61" r="2.3"/><circle cx="629.78" cy="170.95" r="2.3"/><circle cx="629.78" cy="172.6" r="2.3"/><circle cx="629.78" cy="172.56" r="2.3"/><circle cx="629.78" cy="174.84" r="2.3"/><circle cx="629.78" cy="175.37" r="2.3"/><circle cx="629.78" cy="176.21" r="2.3"/><circle cx="629.78" cy="177.47" r="2.3"/><circle cx="629.78" cy="177.7" r="2.3"/><circle cx="629.78" cy="179.11" r="2.3"/><circle cx="629.78" cy="178.72" r="2.3"/><circle cx="629.78" cy="178.73" r="2.3"/><circle cx="629.78" cy="180.44" r="2.3"/><circle cx="629.78" cy="182.28" r="2.3"/><circle cx="629.78" cy="182.27" r="2.3"/><circle cx="629.78" cy="182.37" r="2.3"/><circle cx="629.78" cy="182.64" r="2.3"/><circle cx="629.78" cy="183.52" r="2.3"/><circle cx="629.78" cy="184.29" r="2.3"/><circle cx="629.78" cy="186.51" r="2.3"/><circle cx="629.78" cy="186.39" r="2.3"/><circle cx="629.78" cy="187.44" r="2.3"/><circle cx="629.78" cy="189.54" r="2.3"/><circle cx="629.78" cy="188.8" r="2.3"/><circle cx="629.78" cy="190.37" r="2.3"/><circle cx="629.78" cy="190.44" r="2.3"/><circle cx="629.78" cy="191.33" r="2.3"/><circle cx="629.78" cy="192.22" r="2.3"/><circle cx="629.78" cy="193.07" r="2.3"/><circle cx="629.78" cy="193.08" r="2.3"/><circle cx="629.78" cy="195.14" r="2.3"/><circle cx="629.78" cy="195.73" r="2.3"/><circle cx="629.78" cy="195.47" r="2.3"/><circle cx="629.78" cy="198.34" r="2.3"/><circle cx="629.78" cy="199.17" r="2.3"/><circle cx="629.78" cy="198.26" r="2.3"/><circle cx="629.78" cy="199.22" r="2.3"/><circle cx="629.78" cy="201.07" r="2.3"/><circle cx="629.78" cy="201.21" r="2.3"/><circle cx="629.78" cy="202.16" r="2.3"/><circle cx="629.78" cy="203.43" r="2.3"/><circle cx="629.78" cy="204.2" r="2.3"/><circle cx="629.78" cy="90" r="2.3"/><circle cx="629.78" cy="94" r="2.3"/><circle cx="629.78" cy="96.5" r="2.3"/><circle cx="629.78" cy="212.2" r="2.3"/><circle cx="636.33" cy="103.82" r="2.3"/><circle cx="636.33" cy="105.1" r="2.3"/><circle cx="636.33" cy="106.64" r="2.3"/><circle cx="636.33" cy="107.57" r="2.3"/><circle cx="636.33" cy="108.28" r="2.3"/><circle cx="636.33" cy="108.88" r="2.3"/><circle cx="636.33" cy="109.3" r="2.3"/><circle cx="636.33" cy="108.54" r="2.3"/><circle cx="636.33" cy="110.11" r="2.3"/><circle cx="636.33" cy="111.69" r="2.3"/><circle cx="636.33" cy="111.33" r="2.3"/><circle cx="636.33" cy="111.66" r="2.3"/><circle cx="636.33" cy="113.69" r="2.3"/><circle cx="636.33" cy="114.86" r="2.3"/><circle cx="636.33" cy="116.17" r="2.3"/><circle cx="636.33" cy="116.28" r="2.3"/><circle cx="636.33" cy="116.37" r="2.3"/><circle cx="636.33" cy="116.12" r="2.3"/><circle cx="636.33" cy="118.43" r="2.3"/><circle cx="636.33" cy="119.7" r="2.3"/><circle cx="636.33" cy="119.56" r="2.3"/><circle cx="636.33" cy="120.42" r="2.3"/><circle cx="636.33" cy="120.05" r="2.3"/><circle cx="636.33" cy="121.36" r="2.3"/><circle cx="636.33" cy="122.77" r="2.3"/><circle cx="636.33" cy="124.03" r="2.3"/><circle cx="636.33" cy="123.64" r="2.3"/><circle cx="636.33" cy="125.61" r="2.3"/><circle cx="636.33" cy="125.78" r="2.3"/><circle cx="636.33" cy="126.46" r="2.3"/><circle cx="636.33" cy="126.37" r="2.3"/><circle cx="636.33" cy="128.31" r="2.3"/><circle cx="636.33" cy="127.73" r="2.3"/><circle cx="636.33" cy="129.17" r="2.3"/><circle cx="636.33" cy="131.04" r="2.3"/><circle cx="636.33" cy="131.75" r="2.3"/><circle cx="636.33" cy="132.69" r="2.3"/><circle cx="636.33" cy="131.65" r="2.3"/><circle cx="636.33" cy="134.11" r="2.3"/><circle cx="636.33" cy="133.82" r="2.3"/><circle cx="636.33" cy="133.85" r="2.3"/><circle cx="636.33" cy="136.36" r="2.3"/><circle cx="636.33" cy="137.25" r="2.3"/><circle cx="636.33" cy="138.06" r="2.3"/><circle cx="636.33" cy="137.34" r="2.3"/><circle cx="636.33" cy="137.78" r="2.3"/><circle cx="636.33" cy="140.22" r="2.3"/><circle cx="636.33" cy="140.46" r="2.3"/><circle cx="636.33" cy="141.73" r="2.3"/><circle cx="636.33" cy="142.02" r="2.3"/><circle cx="636.33" cy="143.39" r="2.3"/><circle cx="636.33" cy="143.53" r="2.3"/><circle cx="636.33" cy="144.51" r="2.3"/><circle cx="636.33" cy="145.51" r="2.3"/><circle cx="636.33" cy="145.08" r="2.3"/><circle cx="636.33" cy="147.02" r="2.3"/><circle cx="636.33" cy="146.56" r="2.3"/><circle cx="636.33" cy="148.63" r="2.3"/><circle cx="636.33" cy="148.38" r="2.3"/><circle cx="636.33" cy="149.37" r="2.3"/><circle cx="636.33" cy="148.62" r="2.3"/><circle cx="636.33" cy="150.17" r="2.3"/><circle cx="636.33" cy="150.77" r="2.3"/><circle cx="636.33" cy="150.89" r="2.3"/><circle cx="636.33" cy="152.37" r="2.3"/><circle cx="636.33" cy="153" r="2.3"/><circle cx="636.33" cy="153.4" r="2.3"/><circle cx="636.33" cy="154.51" r="2.3"/><circle cx="636.33" cy="156.71" r="2.3"/><circle cx="636.33" cy="155.92" r="2.3"/><circle cx="636.33" cy="157.84" r="2.3"/><circle cx="636.33" cy="159.3" r="2.3"/><circle cx="636.33" cy="157.7" r="2.3"/><circle cx="636.33" cy="160.14" r="2.3"/><circle cx="636.33" cy="159.51" r="2.3"/><circle cx="636.33" cy="160.39" r="2.3"/><circle cx="636.33" cy="161.44" r="2.3"/><circle cx="636.33" cy="163.66" r="2.3"/><circle cx="636.33" cy="164.32" r="2.3"/><circle cx="636.33" cy="163.2" r="2.3"/><circle cx="636.33" cy="165.63" r="2.3"/><circle cx="636.33" cy="164.69" r="2.3"/><circle cx="636.33" cy="166.11" r="2.3"/><circle cx="636.33" cy="168.4" r="2.3"/><circle cx="636.33" cy="168.87" r="2.3"/><circle cx="636.33" cy="167.78" r="2.3"/><circle cx="636.33" cy="169.63" r="2.3"/><circle cx="636.33" cy="170.04" r="2.3"/><circle cx="636.33" cy="171.41" r="2.3"/><circle cx="636.33" cy="172.61" r="2.3"/><circle cx="636.33" cy="172.64" r="2.3"/><circle cx="636.33" cy="174.3" r="2.3"/><circle cx="636.33" cy="174.97" r="2.3"/><circle cx="636.33" cy="173.96" r="2.3"/><circle cx="636.33" cy="174.47" r="2.3"/><circle cx="636.33" cy="175.56" r="2.3"/><circle cx="636.33" cy="177.06" r="2.3"/><circle cx="636.33" cy="178.27" r="2.3"/><circle cx="636.33" cy="179.41" r="2.3"/><circle cx="636.33" cy="179.87" r="2.3"/><circle cx="636.33" cy="180.44" r="2.3"/><circle cx="636.33" cy="181.07" r="2.3"/><circle cx="636.33" cy="181.95" r="2.3"/><circle cx="636.33" cy="182.1" r="2.3"/><circle cx="636.33" cy="183.49" r="2.3"/><circle cx="636.33" cy="184.66" r="2.3"/><circle cx="636.33" cy="185.47" r="2.3"/><circle cx="636.33" cy="185.89" r="2.3"/><circle cx="636.33" cy="186.55" r="2.3"/><circle cx="636.33" cy="185.86" r="2.3"/><circle cx="636.33" cy="187.23" r="2.3"/><circle cx="636.33" cy="188.29" r="2.3"/><circle cx="636.33" cy="188.69" r="2.3"/><circle cx="636.33" cy="189.19" r="2.3"/><circle cx="636.33" cy="190.37" r="2.3"/><circle cx="636.33" cy="192.22" r="2.3"/><circle cx="636.33" cy="191.62" r="2.3"/><circle cx="636.33" cy="193.98" r="2.3"/><circle cx="636.33" cy="192.51" r="2.3"/><circle cx="636.33" cy="194.27" r="2.3"/><circle cx="636.33" cy="195.74" r="2.3"/><circle cx="636.33" cy="196.58" r="2.3"/><circle cx="636.33" cy="195.55" r="2.3"/><circle cx="636.33" cy="196.56" r="2.3"/><circle cx="636.33" cy="197.21" r="2.3"/><circle cx="636.33" cy="199.15" r="2.3"/><circle cx="636.33" cy="198.78" r="2.3"/><circle cx="636.33" cy="200.26" r="2.3"/><circle cx="636.33" cy="200.74" r="2.3"/><circle cx="636.33" cy="201.07" r="2.3"/><circle cx="636.33" cy="90.7" r="2.3"/><circle cx="636.33" cy="99.8" r="2.3"/><circle cx="636.33" cy="104" r="2.3"/><circle cx="636.33" cy="206" r="2.3"/><circle cx="636.33" cy="210" r="2.3"/><circle cx="636.33" cy="214" r="2.3"/><circle cx="636.33" cy="217" r="2.3"/><circle cx="636.33" cy="251.4" r="2.3"/><circle cx="642.88" cy="109.58" r="2.3"/><circle cx="642.88" cy="110.5" r="2.3"/><circle cx="642.88" cy="111.62" r="2.3"/><circle cx="642.88" cy="111.83" r="2.3"/><circle cx="642.88" cy="111.93" r="2.3"/><circle cx="642.88" cy="113.33" r="2.3"/><circle cx="642.88" cy="114.98" r="2.3"/><circle cx="642.88" cy="114.09" r="2.3"/><circle cx="642.88" cy="116.11" r="2.3"/><circle cx="642.88" cy="115.67" r="2.3"/><circle cx="642.88" cy="118.47" r="2.3"/><circle cx="642.88" cy="117.64" r="2.3"/><circle cx="642.88" cy="119.22" r="2.3"/><circle cx="642.88" cy="118.93" r="2.3"/><circle cx="642.88" cy="120.79" r="2.3"/><circle cx="642.88" cy="122.15" r="2.3"/><circle cx="642.88" cy="123.21" r="2.3"/><circle cx="642.88" cy="123.69" r="2.3"/><circle cx="642.88" cy="124.71" r="2.3"/><circle cx="642.88" cy="123.35" r="2.3"/><circle cx="642.88" cy="126.04" r="2.3"/><circle cx="642.88" cy="124.99" r="2.3"/><circle cx="642.88" cy="127.73" r="2.3"/><circle cx="642.88" cy="128.81" r="2.3"/><circle cx="642.88" cy="128.91" r="2.3"/><circle cx="642.88" cy="129.41" r="2.3"/><circle cx="642.88" cy="130.49" r="2.3"/><circle cx="642.88" cy="129.71" r="2.3"/><circle cx="642.88" cy="132.34" r="2.3"/><circle cx="642.88" cy="131.25" r="2.3"/><circle cx="642.88" cy="132.39" r="2.3"/><circle cx="642.88" cy="133.23" r="2.3"/><circle cx="642.88" cy="135" r="2.3"/><circle cx="642.88" cy="135.07" r="2.3"/><circle cx="642.88" cy="135.82" r="2.3"/><circle cx="642.88" cy="136.87" r="2.3"/><circle cx="642.88" cy="138.25" r="2.3"/><circle cx="642.88" cy="139.22" r="2.3"/><circle cx="642.88" cy="140.01" r="2.3"/><circle cx="642.88" cy="139.43" r="2.3"/><circle cx="642.88" cy="139.65" r="2.3"/><circle cx="642.88" cy="140.52" r="2.3"/><circle cx="642.88" cy="141.34" r="2.3"/><circle cx="642.88" cy="143.62" r="2.3"/><circle cx="642.88" cy="142.81" r="2.3"/><circle cx="642.88" cy="145.19" r="2.3"/><circle cx="642.88" cy="144.15" r="2.3"/><circle cx="642.88" cy="146.57" r="2.3"/><circle cx="642.88" cy="146.28" r="2.3"/><circle cx="642.88" cy="148.01" r="2.3"/><circle cx="642.88" cy="149.06" r="2.3"/><circle cx="642.88" cy="149.57" r="2.3"/><circle cx="642.88" cy="148.95" r="2.3"/><circle cx="642.88" cy="149.59" r="2.3"/><circle cx="642.88" cy="151.23" r="2.3"/><circle cx="642.88" cy="153.26" r="2.3"/><circle cx="642.88" cy="152.97" r="2.3"/><circle cx="642.88" cy="153.26" r="2.3"/><circle cx="642.88" cy="154.53" r="2.3"/><circle cx="642.88" cy="156.14" r="2.3"/><circle cx="642.88" cy="155.44" r="2.3"/><circle cx="642.88" cy="156.01" r="2.3"/><circle cx="642.88" cy="158.69" r="2.3"/><circle cx="642.88" cy="158.27" r="2.3"/><circle cx="642.88" cy="159.09" r="2.3"/><circle cx="642.88" cy="159.54" r="2.3"/><circle cx="642.88" cy="160.15" r="2.3"/><circle cx="642.88" cy="162.41" r="2.3"/><circle cx="642.88" cy="163.03" r="2.3"/><circle cx="642.88" cy="162.49" r="2.3"/><circle cx="642.88" cy="164.39" r="2.3"/><circle cx="642.88" cy="165.63" r="2.3"/><circle cx="642.88" cy="165.19" r="2.3"/><circle cx="642.88" cy="167.32" r="2.3"/><circle cx="642.88" cy="165.95" r="2.3"/><circle cx="642.88" cy="168.51" r="2.3"/><circle cx="642.88" cy="169.32" r="2.3"/><circle cx="642.88" cy="168.65" r="2.3"/><circle cx="642.88" cy="169.48" r="2.3"/><circle cx="642.88" cy="170.24" r="2.3"/><circle cx="642.88" cy="170.69" r="2.3"/><circle cx="642.88" cy="173.08" r="2.3"/><circle cx="642.88" cy="173.58" r="2.3"/><circle cx="642.88" cy="174.56" r="2.3"/><circle cx="642.88" cy="174.98" r="2.3"/><circle cx="642.88" cy="174.84" r="2.3"/><circle cx="642.88" cy="175.19" r="2.3"/><circle cx="642.88" cy="176.37" r="2.3"/><circle cx="642.88" cy="178.42" r="2.3"/><circle cx="642.88" cy="177.34" r="2.3"/><circle cx="642.88" cy="179.35" r="2.3"/><circle cx="642.88" cy="179.61" r="2.3"/><circle cx="642.88" cy="180.3" r="2.3"/><circle cx="642.88" cy="181.18" r="2.3"/><circle cx="642.88" cy="182.57" r="2.3"/><circle cx="642.88" cy="182.33" r="2.3"/><circle cx="642.88" cy="183.07" r="2.3"/><circle cx="642.88" cy="185.5" r="2.3"/><circle cx="642.88" cy="186.05" r="2.3"/><circle cx="642.88" cy="185.87" r="2.3"/><circle cx="642.88" cy="186.37" r="2.3"/><circle cx="642.88" cy="187.95" r="2.3"/><circle cx="642.88" cy="189.56" r="2.3"/><circle cx="642.88" cy="189.98" r="2.3"/><circle cx="642.88" cy="189.92" r="2.3"/><circle cx="642.88" cy="191.15" r="2.3"/><circle cx="642.88" cy="191.26" r="2.3"/><circle cx="642.88" cy="192.88" r="2.3"/><circle cx="642.88" cy="193.19" r="2.3"/><circle cx="642.88" cy="192.78" r="2.3"/><circle cx="642.88" cy="90" r="2.3"/><circle cx="642.88" cy="91.6" r="2.3"/><circle cx="642.88" cy="98" r="2.3"/><circle cx="642.88" cy="101" r="2.3"/><circle cx="642.88" cy="103" r="2.3"/><circle cx="642.88" cy="197.5" r="2.3"/><circle cx="642.88" cy="201" r="2.3"/><circle cx="642.88" cy="206" r="2.3"/><circle cx="642.88" cy="212" r="2.3"/><circle cx="642.88" cy="220" r="2.3"/><circle cx="649.42" cy="111.95" r="2.3"/><circle cx="649.42" cy="113.49" r="2.3"/><circle cx="649.42" cy="113.63" r="2.3"/><circle cx="649.42" cy="113.92" r="2.3"/><circle cx="649.42" cy="115.33" r="2.3"/><circle cx="649.42" cy="116.13" r="2.3"/><circle cx="649.42" cy="118.75" r="2.3"/><circle cx="649.42" cy="119.57" r="2.3"/><circle cx="649.42" cy="119.58" r="2.3"/><circle cx="649.42" cy="120.66" r="2.3"/><circle cx="649.42" cy="121.3" r="2.3"/><circle cx="649.42" cy="123.12" r="2.3"/><circle cx="649.42" cy="125.48" r="2.3"/><circle cx="649.42" cy="126.02" r="2.3"/><circle cx="649.42" cy="127.51" r="2.3"/><circle cx="649.42" cy="126.51" r="2.3"/><circle cx="649.42" cy="129.62" r="2.3"/><circle cx="649.42" cy="130.66" r="2.3"/><circle cx="649.42" cy="131.48" r="2.3"/><circle cx="649.42" cy="130.91" r="2.3"/><circle cx="649.42" cy="133.75" r="2.3"/><circle cx="649.42" cy="135.08" r="2.3"/><circle cx="649.42" cy="135.58" r="2.3"/><circle cx="649.42" cy="136.1" r="2.3"/><circle cx="649.42" cy="136.76" r="2.3"/><circle cx="649.42" cy="139.11" r="2.3"/><circle cx="649.42" cy="139.5" r="2.3"/><circle cx="649.42" cy="139.91" r="2.3"/><circle cx="649.42" cy="140.4" r="2.3"/><circle cx="649.42" cy="141.31" r="2.3"/><circle cx="649.42" cy="144.02" r="2.3"/><circle cx="649.42" cy="144.11" r="2.3"/><circle cx="649.42" cy="144.78" r="2.3"/><circle cx="649.42" cy="146.27" r="2.3"/><circle cx="649.42" cy="147.71" r="2.3"/><circle cx="649.42" cy="149.7" r="2.3"/><circle cx="649.42" cy="149.87" r="2.3"/><circle cx="649.42" cy="150.11" r="2.3"/><circle cx="649.42" cy="152.86" r="2.3"/><circle cx="649.42" cy="153.55" r="2.3"/><circle cx="649.42" cy="154.31" r="2.3"/><circle cx="649.42" cy="156.22" r="2.3"/><circle cx="649.42" cy="156.11" r="2.3"/><circle cx="649.42" cy="157.13" r="2.3"/><circle cx="649.42" cy="157.4" r="2.3"/><circle cx="649.42" cy="160" r="2.3"/><circle cx="649.42" cy="160.89" r="2.3"/><circle cx="649.42" cy="162.74" r="2.3"/><circle cx="649.42" cy="161.55" r="2.3"/><circle cx="649.42" cy="163.59" r="2.3"/><circle cx="649.42" cy="164.72" r="2.3"/><circle cx="649.42" cy="165.73" r="2.3"/><circle cx="649.42" cy="165.9" r="2.3"/><circle cx="649.42" cy="168.82" r="2.3"/><circle cx="649.42" cy="168.04" r="2.3"/><circle cx="649.42" cy="170.54" r="2.3"/><circle cx="649.42" cy="170.82" r="2.3"/><circle cx="649.42" cy="172.15" r="2.3"/><circle cx="649.42" cy="174.21" r="2.3"/><circle cx="649.42" cy="173.76" r="2.3"/><circle cx="649.42" cy="175.56" r="2.3"/><circle cx="649.42" cy="176.04" r="2.3"/><circle cx="649.42" cy="177.93" r="2.3"/><circle cx="649.42" cy="178.84" r="2.3"/><circle cx="649.42" cy="180.2" r="2.3"/><circle cx="649.42" cy="179.9" r="2.3"/><circle cx="649.42" cy="182.25" r="2.3"/><circle cx="649.42" cy="183.39" r="2.3"/><circle cx="649.42" cy="183.03" r="2.3"/><circle cx="649.42" cy="186.26" r="2.3"/><circle cx="649.42" cy="187.04" r="2.3"/><circle cx="649.42" cy="187.97" r="2.3"/><circle cx="649.42" cy="189.02" r="2.3"/><circle cx="649.42" cy="189.4" r="2.3"/><circle cx="649.42" cy="191.46" r="2.3"/><circle cx="649.42" cy="91.6" r="2.3"/><circle cx="649.42" cy="195" r="2.3"/><circle cx="649.42" cy="200" r="2.3"/><circle cx="649.42" cy="205" r="2.3"/><circle cx="649.42" cy="215" r="2.3"/><circle cx="649.42" cy="219" r="2.3"/><circle cx="531.56" cy="64.41" r="2.3"/><circle cx="518.46" cy="100" r="2.3"/><circle cx="511.92" cy="98.24" r="2.3"/><circle cx="511.92" cy="148.24" r="2.3"/><circle cx="525.01" cy="107.94" r="2.3"/><circle cx="538.11" cy="139.41" r="2.3"/><circle cx="557.75" cy="141.18" r="2.3"/><circle cx="557.75" cy="90.29" r="2.3"/><circle cx="577.4" cy="94.12" r="2.3"/><circle cx="577.4" cy="120.29" r="2.3"/><circle cx="551.2" cy="107.06" r="2.3"/><circle cx="505.37" cy="126.18" r="2.3"/><circle cx="544.66" cy="96.18" r="2.3"/><circle cx="570.85" cy="105" r="2.3"/><circle cx="413.7" cy="190.29" r="2.3"/><circle cx="420.24" cy="188.82" r="2.3"/><circle cx="426.79" cy="203.53" r="2.3"/><circle cx="433.34" cy="181.47" r="2.3"/><circle cx="439.89" cy="190.29" r="2.3"/><circle cx="439.89" cy="206.47" r="2.3"/><circle cx="446.44" cy="159.41" r="2.3"/><circle cx="446.44" cy="191.76" r="2.3"/><circle cx="452.98" cy="155.59" r="2.3"/><circle cx="459.53" cy="130.59" r="2.3"/><circle cx="459.53" cy="174.12" r="2.3"/></g><rect x="387.4" y="22.5" width="294.8" height="303" fill="none" stroke="#333333" stroke-width="0.8"/><path d="M400.6 325.5v3.8M426.79 325.5v3.8M452.98 325.5v3.8M479.18 325.5v3.8M505.37 325.5v3.8M531.56 325.5v3.8M557.75 325.5v3.8M583.94 325.5v3.8M610.14 325.5v3.8M636.33 325.5v3.8M662.52 325.5v3.8M383.8 312.6h3.6M383.8 254.96h3.6M383.8 197.32h3.6M383.8 139.68h3.6M383.8 82.04h3.6M383.8 24.4h3.6" stroke="#333333" stroke-width="1.0"/><text x="400.6" y="339.7" font-size="10.4" fill="#4d4d4d" text-anchor="middle">0</text><text x="426.79" y="339.7" font-size="10.4" fill="#4d4d4d" text-anchor="middle">4</text><text x="452.98" y="339.7" font-size="10.4" fill="#4d4d4d" text-anchor="middle">8</text><text x="479.18" y="339.7" font-size="10.4" fill="#4d4d4d" text-anchor="middle">12</text><text x="505.37" y="339.7" font-size="10.4" fill="#4d4d4d" text-anchor="middle">16</text><text x="531.56" y="339.7" font-size="10.4" fill="#4d4d4d" text-anchor="middle">20</text><text x="557.75" y="339.7" font-size="10.4" fill="#4d4d4d" text-anchor="middle">24</text><text x="583.94" y="339.7" font-size="10.4" fill="#4d4d4d" text-anchor="middle">28</text><text x="610.14" y="339.7" font-size="10.4" fill="#4d4d4d" text-anchor="middle">32</text><text x="636.33" y="339.7" font-size="10.4" fill="#4d4d4d" text-anchor="middle">36</text><text x="662.52" y="339.7" font-size="10.4" fill="#4d4d4d" text-anchor="middle">40</text><text x="381.5" y="316.7" font-size="10.4" fill="#4d4d4d" text-anchor="end">0</text><text x="381.5" y="259.06" font-size="10.4" fill="#4d4d4d" text-anchor="end">50</text><text x="381.5" y="201.42" font-size="10.4" fill="#4d4d4d" text-anchor="end">100</text><text x="381.5" y="143.78" font-size="10.4" fill="#4d4d4d" text-anchor="end">150</text><text x="381.5" y="86.14" font-size="10.4" fill="#4d4d4d" text-anchor="end">200</text><text x="381.5" y="28.5" font-size="10.4" fill="#4d4d4d" text-anchor="end">250</text><text x="534.8" y="354" font-size="12.65" text-anchor="middle">Gestational week</text><text transform="translate(358,174) rotate(-90)" font-size="12.85" text-anchor="middle">Estimated glomerular filtration rate (mL/min)</text><text x="12.2" y="381" font-size="15" font-weight="bold">c</text><text x="110.7" y="392.7" font-size="10.45" text-anchor="middle">Upper limit</text><path d="M110.4 492.25L110.4 413.65A78.6 78.6 0 0 1 115.2 413.8Z" fill="#86bde0" stroke="#86bde0" stroke-width="0.5" stroke-linejoin="round"/><path d="M110.4 492.25L106.7 570.76A78.6 78.6 0 0 1 110.4 413.65Z" fill="#006387" stroke="#006387" stroke-width="0.5" stroke-linejoin="round"/><path d="M110.4 492.25L115.2 413.8A78.6 78.6 0 0 1 106.7 570.76Z" fill="#3f82a6" stroke="#3f82a6" stroke-width="0.5" stroke-linejoin="round"/><text x="112" y="444.6" font-size="12.3" text-anchor="middle">2</text><text x="162.7" y="500.3" font-size="12.3" text-anchor="middle">4</text><text x="58" y="495.8" font-size="12.3" text-anchor="middle">5</text><text x="110.5" y="606.5" font-size="10.45" text-anchor="middle">Lower limit</text><path d="M110.3 705.85L128.55 629.24A78.75 78.75 0 1 1 91.25 629.44Z" fill="#3f82a6" stroke="#3f82a6" stroke-width="0.5" stroke-linejoin="round"/><path d="M110.3 705.85L91.25 629.44A78.75 78.75 0 0 1 110.3 627.1Z" fill="#006387" stroke="#006387" stroke-width="0.5" stroke-linejoin="round"/><path d="M110.3 705.85L110.3 627.1A78.75 78.75 0 0 1 121.94 627.97Z" fill="#86bde0" stroke="#86bde0" stroke-width="0.5" stroke-linejoin="round"/><path d="M110.3 705.85L121.94 627.97A78.75 78.75 0 0 1 128.55 629.24Z" fill="#62a0c3" stroke="#62a0c3" stroke-width="0.5" stroke-linejoin="round"/><text x="103.7" y="658.7" font-size="12.3" text-anchor="middle">5</text><text x="114.3" y="658.7" font-size="12.3" text-anchor="middle">2</text><text x="120.4" y="658.7" font-size="12.3" text-anchor="middle">3</text><text x="111" y="763.3" font-size="12.3" text-anchor="middle">4</text><text x="215.6" y="550.3" font-size="12.65">Degree</text><rect x="216.6" y="558.9" width="18.2" height="18.3" fill="#ade0fb"/><text x="242.3" y="571.5" font-size="10.1">1</text><rect x="216.6" y="579.05" width="18.2" height="18.3" fill="#86bde0"/><text x="242.3" y="591.65" font-size="10.1">2</text><rect x="216.6" y="599.2" width="18.2" height="18.3" fill="#62a0c3"/><text x="242.3" y="611.8" font-size="10.1">3</text><rect x="216.6" y="619.35" width="18.2" height="18.3" fill="#3f82a6"/><text x="242.3" y="631.95" font-size="10.1">4</text><rect x="216.6" y="639.5" width="18.2" height="18.3" fill="#006387"/><text x="242.3" y="652.1" font-size="10.1">5</text><text x="318.2" y="381" font-size="15" font-weight="bold">d</text><path d="M342.68 462.8V767M350.75 462.8V767M358.83 462.8V767M374.98 462.8V767M383.05 462.8V767M391.12 462.8V767M407.28 462.8V767M415.35 462.8V767M423.43 462.8V767M439.58 462.8V767M447.65 462.8V767M455.73 462.8V767M471.88 462.8V767M479.95 462.8V767M488.02 462.8V767M504.18 462.8V767M512.25 462.8V767M520.33 462.8V767M536.48 462.8V767M544.55 462.8V767M552.62 462.8V767M568.77 462.8V767M576.85 462.8V767M584.92 462.8V767M601.08 462.8V767M609.15 462.8V767M617.23 462.8V767M633.38 462.8V767M641.45 462.8V767M649.52 462.8V767M665.67 462.8V767M318.5 761.72H681.9M318.5 745.88H681.9M318.5 737.95H681.9M318.5 730.03H681.9M318.5 722.11H681.9M318.5 706.26H681.9M318.5 698.34H681.9M318.5 690.42H681.9M318.5 682.49H681.9M318.5 666.65H681.9M318.5 658.72H681.9M318.5 650.8H681.9M318.5 642.88H681.9M318.5 627.03H681.9M318.5 619.11H681.9M318.5 611.19H681.9M318.5 603.26H681.9M318.5 587.42H681.9M318.5 579.49H681.9M318.5 571.57H681.9M318.5 563.65H681.9M318.5 547.8H681.9M318.5 539.88H681.9M318.5 531.96H681.9M318.5 524.03H681.9M318.5 508.19H681.9M318.5 500.26H681.9M318.5 492.34H681.9M318.5 484.42H681.9M318.5 468.57H681.9" stroke="#ebebeb" stroke-width="0.55" fill="none"/><path d="M334.6 462.8V767M366.9 462.8V767M399.2 462.8V767M431.5 462.8V767M463.8 462.8V767M496.1 462.8V767M528.4 462.8V767M560.7 462.8V767M593 462.8V767M625.3 462.8V767M657.6 462.8V767M318.5 753.8H681.9M318.5 714.18H681.9M318.5 674.57H681.9M318.5 634.95H681.9M318.5 595.34H681.9M318.5 555.72H681.9M318.5 516.11H681.9M318.5 476.49H681.9" stroke="#ebebeb" stroke-width="1.1" fill="none"/><g fill="#b0b0b0" fill-opacity="0.5"><path d="M342.84 626.85l2.75 4.75h-5.5Z"/><path d="M352.61 626.85l2.75 4.75h-5.5Z"/><path d="M358.83 629.54l2.75 4.75h-5.5Z"/><path d="M341.46 638.73l2.75 4.75h-5.5Z"/><path d="M344.29 637.63l2.75 4.75h-5.5Z"/><path d="M349.62 638.73l2.75 4.75h-5.5Z"/><path d="M358.58 638.73l2.75 4.75h-5.5Z"/><path d="M354.06 643.96l2.75 4.75h-5.5Z"/><path d="M342.84 650.46l2.75 4.75h-5.5Z"/><path d="M348.09 650.46l2.75 4.75h-5.5Z"/><path d="M358.02 650.78l2.75 4.75h-5.5Z"/><path d="M354.06 653.79l2.75 4.75h-5.5Z"/><path d="M344.29 655.53l2.75 4.75h-5.5Z"/><path d="M348.09 699.58l2.75 4.75h-5.5Z"/><path d="M354.79 699.58l2.75 4.75h-5.5Z"/><path d="M345.82 704.18l2.75 4.75h-5.5Z"/><path d="M341.3 707.82l2.75 4.75h-5.5Z"/><path d="M358.02 705.76l2.75 4.75h-5.5Z"/><path d="M358.02 708.62l2.75 4.75h-5.5Z"/><path d="M353.17 725.25l2.75 4.75h-5.5Z"/><path d="M355.19 725.25l2.75 4.75h-5.5Z"/><path d="M357.61 725.57l2.75 4.75h-5.5Z"/><path d="M351 658.21l2.75 4.75h-5.5Z"/><path d="M342.75 679.93l2.75 4.75h-5.5Z"/><path d="M354.69 667.65l2.75 4.75h-5.5Z"/><path d="M358.46 659.56l2.75 4.75h-5.5Z"/><path d="M352.96 676.49l2.75 4.75h-5.5Z"/><path d="M348.97 656.86l2.75 4.75h-5.5Z"/><path d="M346.1 683.24l2.75 4.75h-5.5Z"/><path d="M341.71 689.45l2.75 4.75h-5.5Z"/><path d="M356.32 681l2.75 4.75h-5.5Z"/><path d="M348.11 656.68l2.75 4.75h-5.5Z"/><path d="M345.76 659.34l2.75 4.75h-5.5Z"/><path d="M347.67 660.5l2.75 4.75h-5.5Z"/><path d="M358.32 672.54l2.75 4.75h-5.5Z"/><path d="M357.44 680.62l2.75 4.75h-5.5Z"/><path d="M346.29 663.62l2.75 4.75h-5.5Z"/><path d="M354.64 657.23l2.75 4.75h-5.5Z"/><path d="M349.75 657.89l2.75 4.75h-5.5Z"/><path d="M342.31 656.38l2.75 4.75h-5.5Z"/><path d="M345.25 666.78l2.75 4.75h-5.5Z"/><path d="M357.86 659.69l2.75 4.75h-5.5Z"/><path d="M351.7 663.75l2.75 4.75h-5.5Z"/><path d="M349.1 667.88l2.75 4.75h-5.5Z"/><path d="M344.6 687.35l2.75 4.75h-5.5Z"/><path d="M355.59 672.19l2.75 4.75h-5.5Z"/><path d="M356.16 690.21l2.75 4.75h-5.5Z"/><path d="M344.52 665.04l2.75 4.75h-5.5Z"/><path d="M350.66 687.36l2.75 4.75h-5.5Z"/><path d="M353.91 672.03l2.75 4.75h-5.5Z"/><path d="M345.9 683.31l2.75 4.75h-5.5Z"/><path d="M352.72 655.1l2.75 4.75h-5.5Z"/><path d="M347.71 684.29l2.75 4.75h-5.5Z"/><path d="M352.92 666.61l2.75 4.75h-5.5Z"/><path d="M353.4 676.64l2.75 4.75h-5.5Z"/><path d="M355.96 681.95l2.75 4.75h-5.5Z"/><path d="M356.35 657.75l2.75 4.75h-5.5Z"/><path d="M358.62 672.57l2.75 4.75h-5.5Z"/><path d="M345.45 667.21l2.75 4.75h-5.5Z"/><path d="M342.03 664.4l2.75 4.75h-5.5Z"/><path d="M346.62 659.48l2.75 4.75h-5.5Z"/><path d="M342.19 657.19l2.75 4.75h-5.5Z"/><path d="M349.12 680.78l2.75 4.75h-5.5Z"/><path d="M351.83 655.03l2.75 4.75h-5.5Z"/><path d="M356.8 676.15l2.75 4.75h-5.5Z"/><path d="M350.32 688.21l2.75 4.75h-5.5Z"/><path d="M351.86 685.47l2.75 4.75h-5.5Z"/><path d="M342.96 674.96l2.75 4.75h-5.5Z"/><path d="M342.53 679.03l2.75 4.75h-5.5Z"/><path d="M351.03 661.49l2.75 4.75h-5.5Z"/><path d="M347.08 667.02l2.75 4.75h-5.5Z"/><path d="M346.83 680.25l2.75 4.75h-5.5Z"/><path d="M347.08 676.45l2.75 4.75h-5.5Z"/><path d="M342.83 672.41l2.75 4.75h-5.5Z"/><path d="M357.29 676.94l2.75 4.75h-5.5Z"/><path d="M352.25 671.83l2.75 4.75h-5.5Z"/><path d="M351.23 690.84l2.75 4.75h-5.5Z"/><path d="M341.84 681.68l2.75 4.75h-5.5Z"/><path d="M356.99 691.55l2.75 4.75h-5.5Z"/><path d="M351.77 687.34l2.75 4.75h-5.5Z"/><path d="M341.52 687.15l2.75 4.75h-5.5Z"/><path d="M353.55 691.66l2.75 4.75h-5.5Z"/><path d="M349.66 664.48l2.75 4.75h-5.5Z"/><path d="M353.03 677.52l2.75 4.75h-5.5Z"/><path d="M357.46 671.83l2.75 4.75h-5.5Z"/><path d="M345.34 685.35l2.75 4.75h-5.5Z"/><path d="M356.27 684.26l2.75 4.75h-5.5Z"/><path d="M347.62 664.37l2.75 4.75h-5.5Z"/><path d="M351.64 678.07l2.75 4.75h-5.5Z"/><path d="M344.91 691.33l2.75 4.75h-5.5Z"/><path d="M349.01 668.69l2.75 4.75h-5.5Z"/><path d="M355.25 689.05l2.75 4.75h-5.5Z"/><path d="M348.58 696.58l2.75 4.75h-5.5Z"/><path d="M356.6 694.97l2.75 4.75h-5.5Z"/><path d="M350.51 692.79l2.75 4.75h-5.5Z"/><path d="M352.19 697.49l2.75 4.75h-5.5Z"/><path d="M354.99 697.2l2.75 4.75h-5.5Z"/><path d="M351.76 694.15l2.75 4.75h-5.5Z"/><path d="M356.45 692.11l2.75 4.75h-5.5Z"/><path d="M352.93 694.65l2.75 4.75h-5.5Z"/></g><g fill="#1e90ff" fill-opacity="0.55"><circle cx="377.26" cy="580.02" r="2.25"/><circle cx="391.53" cy="594.05" r="2.25"/><circle cx="385.83" cy="575.29" r="2.25"/><circle cx="377.03" cy="583.82" r="2.25"/><circle cx="390.16" cy="610.51" r="2.25"/><circle cx="378.22" cy="601.15" r="2.25"/><circle cx="388.36" cy="596.54" r="2.25"/><circle cx="385.9" cy="614.83" r="2.25"/><circle cx="388.83" cy="610.05" r="2.25"/><circle cx="384.35" cy="601.09" r="2.25"/><circle cx="391.55" cy="623.76" r="2.25"/><circle cx="377.08" cy="624.45" r="2.25"/><circle cx="384.21" cy="620.26" r="2.25"/><circle cx="377.89" cy="623.76" r="2.25"/><circle cx="375.43" cy="616.2" r="2.25"/><circle cx="374.96" cy="623.94" r="2.25"/><circle cx="377.6" cy="628.58" r="2.25"/><circle cx="381.55" cy="628.96" r="2.25"/><circle cx="379.1" cy="627.99" r="2.25"/><circle cx="383.24" cy="616.7" r="2.25"/><circle cx="378.2" cy="630.36" r="2.25"/><circle cx="375.32" cy="617.41" r="2.25"/><circle cx="388.17" cy="618.89" r="2.25"/><circle cx="377.17" cy="625.68" r="2.25"/><circle cx="386.23" cy="661.59" r="2.25"/><circle cx="387.29" cy="681.89" r="2.25"/><circle cx="390.24" cy="657.94" r="2.25"/><circle cx="385.19" cy="658.3" r="2.25"/><circle cx="382.26" cy="692.83" r="2.25"/><circle cx="377.41" cy="664.61" r="2.25"/><circle cx="375.99" cy="657.76" r="2.25"/><circle cx="377.87" cy="652.36" r="2.25"/><circle cx="381.6" cy="653.99" r="2.25"/><circle cx="379.12" cy="686.08" r="2.25"/><circle cx="386.1" cy="643.88" r="2.25"/><circle cx="378.23" cy="691.38" r="2.25"/><circle cx="389.65" cy="648.23" r="2.25"/><circle cx="387.89" cy="645.97" r="2.25"/><circle cx="381.82" cy="636.32" r="2.25"/><circle cx="388.59" cy="648.08" r="2.25"/><circle cx="390.9" cy="638.9" r="2.25"/><circle cx="384.38" cy="690.19" r="2.25"/><circle cx="384.81" cy="663.74" r="2.25"/><circle cx="374.86" cy="674.66" r="2.25"/><circle cx="388.81" cy="655.96" r="2.25"/><circle cx="390.72" cy="648.07" r="2.25"/><circle cx="377.8" cy="650.64" r="2.25"/><circle cx="375.39" cy="641.24" r="2.25"/><circle cx="379.68" cy="635.11" r="2.25"/><circle cx="375.4" cy="648.88" r="2.25"/><circle cx="376.33" cy="641.62" r="2.25"/><circle cx="388.76" cy="662.74" r="2.25"/><circle cx="384.35" cy="680.34" r="2.25"/><circle cx="380.9" cy="684.65" r="2.25"/><circle cx="381.4" cy="685.28" r="2.25"/><circle cx="385.58" cy="663.9" r="2.25"/><circle cx="380.74" cy="672.74" r="2.25"/><circle cx="391.1" cy="636.51" r="2.25"/><circle cx="391.57" cy="671.75" r="2.25"/><circle cx="375.99" cy="683.78" r="2.25"/><circle cx="389.51" cy="672.45" r="2.25"/><circle cx="377.12" cy="636.04" r="2.25"/><circle cx="378.44" cy="659.85" r="2.25"/><circle cx="381.75" cy="685.27" r="2.25"/><circle cx="381.03" cy="646.11" r="2.25"/><circle cx="384" cy="641.93" r="2.25"/><circle cx="374.85" cy="687.09" r="2.25"/><circle cx="382.07" cy="654.92" r="2.25"/><circle cx="381.71" cy="676.97" r="2.25"/><circle cx="388.71" cy="642.23" r="2.25"/><circle cx="385.84" cy="685.61" r="2.25"/><circle cx="387.43" cy="657" r="2.25"/><circle cx="387.33" cy="649.29" r="2.25"/><circle cx="384.35" cy="670.44" r="2.25"/><circle cx="389.11" cy="637.86" r="2.25"/><circle cx="391.09" cy="675.31" r="2.25"/><circle cx="378.24" cy="681.99" r="2.25"/><circle cx="386.39" cy="635.52" r="2.25"/><circle cx="378.72" cy="666.53" r="2.25"/><circle cx="384.04" cy="668.51" r="2.25"/><circle cx="384.1" cy="671.25" r="2.25"/><circle cx="384.76" cy="634.69" r="2.25"/><circle cx="387.84" cy="635.6" r="2.25"/><circle cx="381.88" cy="684.58" r="2.25"/><circle cx="378.08" cy="679.65" r="2.25"/><circle cx="387.94" cy="680.15" r="2.25"/><circle cx="384.32" cy="637.75" r="2.25"/><circle cx="381.89" cy="679.31" r="2.25"/><circle cx="389.98" cy="634.63" r="2.25"/><circle cx="375.75" cy="644.05" r="2.25"/><circle cx="391.49" cy="675.74" r="2.25"/><circle cx="380.79" cy="682.04" r="2.25"/><circle cx="378.34" cy="647.25" r="2.25"/><circle cx="382.24" cy="674.96" r="2.25"/><circle cx="380.9" cy="638.95" r="2.25"/><circle cx="391.88" cy="674.34" r="2.25"/><circle cx="379.21" cy="677.37" r="2.25"/><circle cx="388.18" cy="638.86" r="2.25"/><circle cx="377.92" cy="687.28" r="2.25"/><circle cx="380.35" cy="643.59" r="2.25"/><circle cx="389.28" cy="636.38" r="2.25"/><circle cx="381.86" cy="690.98" r="2.25"/><circle cx="375.37" cy="645.02" r="2.25"/><circle cx="381.08" cy="683.33" r="2.25"/><circle cx="379.46" cy="687.56" r="2.25"/><circle cx="390.48" cy="667.68" r="2.25"/><circle cx="383.34" cy="681.55" r="2.25"/><circle cx="383.65" cy="678.31" r="2.25"/><circle cx="390.87" cy="641.49" r="2.25"/><circle cx="387.05" cy="659.61" r="2.25"/><circle cx="387.25" cy="688.48" r="2.25"/><circle cx="380.85" cy="640.53" r="2.25"/><circle cx="388.31" cy="674.58" r="2.25"/><circle cx="381.24" cy="685.19" r="2.25"/><circle cx="374.59" cy="636.38" r="2.25"/><circle cx="377.77" cy="645.35" r="2.25"/><circle cx="377.67" cy="666.18" r="2.25"/><circle cx="384.02" cy="682.45" r="2.25"/><circle cx="379.45" cy="685.2" r="2.25"/><circle cx="374.64" cy="671.42" r="2.25"/><circle cx="389.14" cy="680.33" r="2.25"/><circle cx="382.08" cy="669.89" r="2.25"/><circle cx="383.51" cy="680.69" r="2.25"/><circle cx="375.39" cy="673.7" r="2.25"/><circle cx="391.57" cy="700.24" r="2.25"/><circle cx="382.42" cy="704.77" r="2.25"/><circle cx="387.02" cy="707.08" r="2.25"/><circle cx="385.22" cy="701.52" r="2.25"/><circle cx="375.76" cy="701.49" r="2.25"/><circle cx="380.45" cy="709.27" r="2.25"/><circle cx="382.38" cy="706.2" r="2.25"/><circle cx="376.43" cy="698.55" r="2.25"/><circle cx="384.18" cy="715.22" r="2.25"/><circle cx="386.8" cy="710.6" r="2.25"/><circle cx="380.92" cy="713.93" r="2.25"/><circle cx="383.05" cy="721" r="2.25"/><circle cx="387.65" cy="722.27" r="2.25"/><circle cx="377.88" cy="733.68" r="2.25"/><circle cx="383.05" cy="745.56" r="2.25"/><circle cx="419.02" cy="582.77" r="2.25"/><circle cx="411.04" cy="578.94" r="2.25"/><circle cx="409.38" cy="577.65" r="2.25"/><circle cx="417.14" cy="572.22" r="2.25"/><circle cx="410.33" cy="582.48" r="2.25"/><circle cx="416.78" cy="575.16" r="2.25"/><circle cx="407.81" cy="600.65" r="2.25"/><circle cx="407.33" cy="598.74" r="2.25"/><circle cx="406.62" cy="609.5" r="2.25"/><circle cx="407.64" cy="609.12" r="2.25"/><circle cx="408.28" cy="603.38" r="2.25"/><circle cx="408.48" cy="589.09" r="2.25"/><circle cx="416.71" cy="604.97" r="2.25"/><circle cx="419.28" cy="599.72" r="2.25"/><circle cx="403.11" cy="600.03" r="2.25"/><circle cx="404.36" cy="604.66" r="2.25"/><circle cx="420.29" cy="598.55" r="2.25"/><circle cx="420.73" cy="600.68" r="2.25"/><circle cx="408.89" cy="605.73" r="2.25"/><circle cx="407.33" cy="592.85" r="2.25"/><circle cx="413.57" cy="590.72" r="2.25"/><circle cx="411.55" cy="590.5" r="2.25"/><circle cx="419.2" cy="609.43" r="2.25"/><circle cx="414.98" cy="609.41" r="2.25"/><circle cx="409.25" cy="608.16" r="2.25"/><circle cx="414.33" cy="608.24" r="2.25"/><circle cx="404.43" cy="593.69" r="2.25"/><circle cx="415.16" cy="591.08" r="2.25"/><circle cx="419.35" cy="594.24" r="2.25"/><circle cx="417.89" cy="604.33" r="2.25"/><circle cx="411.15" cy="598.22" r="2.25"/><circle cx="410.06" cy="600.2" r="2.25"/><circle cx="411.58" cy="598.89" r="2.25"/><circle cx="403.54" cy="607.66" r="2.25"/><circle cx="416.86" cy="590.62" r="2.25"/><circle cx="406.6" cy="608.52" r="2.25"/><circle cx="407.08" cy="590.3" r="2.25"/><circle cx="410.89" cy="587.91" r="2.25"/><circle cx="411.85" cy="608.43" r="2.25"/><circle cx="416.73" cy="608.34" r="2.25"/><circle cx="415.48" cy="587.51" r="2.25"/><circle cx="416.36" cy="591.84" r="2.25"/><circle cx="410.57" cy="609.7" r="2.25"/><circle cx="406.93" cy="590.77" r="2.25"/><circle cx="417.17" cy="597.54" r="2.25"/><circle cx="406.5" cy="599.83" r="2.25"/><circle cx="417.71" cy="608.6" r="2.25"/><circle cx="419.24" cy="609.33" r="2.25"/><circle cx="415.94" cy="610.75" r="2.25"/><circle cx="418.37" cy="603.7" r="2.25"/><circle cx="412.85" cy="610.14" r="2.25"/><circle cx="414.95" cy="611.31" r="2.25"/><circle cx="408.32" cy="618.63" r="2.25"/><circle cx="405.58" cy="655.46" r="2.25"/><circle cx="414.96" cy="644.7" r="2.25"/><circle cx="415.82" cy="654.15" r="2.25"/><circle cx="405.26" cy="642.62" r="2.25"/><circle cx="412.26" cy="646.11" r="2.25"/><circle cx="405.13" cy="652.01" r="2.25"/><circle cx="409.49" cy="654.28" r="2.25"/><circle cx="412.68" cy="655.79" r="2.25"/><circle cx="412.29" cy="642.58" r="2.25"/><circle cx="403.55" cy="656.12" r="2.25"/><circle cx="413.41" cy="624.43" r="2.25"/><circle cx="406.11" cy="630.9" r="2.25"/><circle cx="404.38" cy="635.74" r="2.25"/><circle cx="417.67" cy="648.45" r="2.25"/><circle cx="411.28" cy="615.64" r="2.25"/><circle cx="407.7" cy="621.18" r="2.25"/><circle cx="404.25" cy="644.55" r="2.25"/><circle cx="416.94" cy="617.26" r="2.25"/><circle cx="408.12" cy="638.25" r="2.25"/><circle cx="408.86" cy="648.3" r="2.25"/><circle cx="408.82" cy="618.58" r="2.25"/><circle cx="413.26" cy="618.37" r="2.25"/><circle cx="413.2" cy="626.02" r="2.25"/><circle cx="412.91" cy="647.39" r="2.25"/><circle cx="411.75" cy="641.31" r="2.25"/><circle cx="406.99" cy="642.62" r="2.25"/><circle cx="419.54" cy="612.9" r="2.25"/><circle cx="420.42" cy="632.11" r="2.25"/><circle cx="407.84" cy="640.36" r="2.25"/><circle cx="408.22" cy="612.93" r="2.25"/><circle cx="418.53" cy="620.95" r="2.25"/><circle cx="412.28" cy="634.84" r="2.25"/><circle cx="416.2" cy="616.25" r="2.25"/><circle cx="415.85" cy="613.61" r="2.25"/><circle cx="413.79" cy="618.58" r="2.25"/><circle cx="413.86" cy="631.89" r="2.25"/><circle cx="417.76" cy="636.62" r="2.25"/><circle cx="418.16" cy="645.3" r="2.25"/><circle cx="420.55" cy="623.52" r="2.25"/><circle cx="406.38" cy="625.7" r="2.25"/><circle cx="408.08" cy="652.68" r="2.25"/><circle cx="405.23" cy="637.22" r="2.25"/><circle cx="420.06" cy="646.22" r="2.25"/><circle cx="412.7" cy="636.93" r="2.25"/><circle cx="405.93" cy="625.19" r="2.25"/><circle cx="408.36" cy="655.06" r="2.25"/><circle cx="418.27" cy="622.12" r="2.25"/><circle cx="403.68" cy="636.35" r="2.25"/><circle cx="408.63" cy="626.98" r="2.25"/><circle cx="408.53" cy="625" r="2.25"/><circle cx="403.67" cy="615.42" r="2.25"/><circle cx="414.59" cy="638.84" r="2.25"/><circle cx="417.7" cy="623.11" r="2.25"/><circle cx="408.53" cy="653.01" r="2.25"/><circle cx="414.44" cy="637.63" r="2.25"/><circle cx="418.59" cy="650.25" r="2.25"/><circle cx="417.93" cy="618.36" r="2.25"/><circle cx="406.56" cy="645.39" r="2.25"/><circle cx="413.99" cy="644.06" r="2.25"/><circle cx="411.68" cy="632.66" r="2.25"/><circle cx="409.97" cy="651.45" r="2.25"/><circle cx="407.99" cy="619.87" r="2.25"/><circle cx="417.35" cy="652.48" r="2.25"/><circle cx="415.43" cy="616.73" r="2.25"/><circle cx="413.93" cy="612.99" r="2.25"/><circle cx="413.54" cy="635.62" r="2.25"/><circle cx="410.13" cy="630.31" r="2.25"/><circle cx="414.84" cy="611.53" r="2.25"/><circle cx="405.55" cy="642.19" r="2.25"/><circle cx="419.07" cy="625.61" r="2.25"/><circle cx="408.43" cy="631.28" r="2.25"/><circle cx="403.97" cy="650.23" r="2.25"/><circle cx="403.54" cy="618.28" r="2.25"/><circle cx="405.31" cy="640.02" r="2.25"/><circle cx="408.82" cy="625.13" r="2.25"/><circle cx="404.16" cy="656.73" r="2.25"/><circle cx="405.96" cy="631.03" r="2.25"/><circle cx="409.26" cy="653.64" r="2.25"/><circle cx="408.03" cy="644.97" r="2.25"/><circle cx="416.04" cy="624.35" r="2.25"/><circle cx="403.2" cy="618.76" r="2.25"/><circle cx="404.77" cy="638.77" r="2.25"/><circle cx="410.53" cy="655.77" r="2.25"/><circle cx="404.79" cy="623.05" r="2.25"/><circle cx="415.34" cy="620.89" r="2.25"/><circle cx="420.44" cy="616.31" r="2.25"/><circle cx="408.3" cy="626.95" r="2.25"/><circle cx="414.82" cy="646.69" r="2.25"/><circle cx="416.64" cy="659.29" r="2.25"/><circle cx="413.57" cy="662.33" r="2.25"/><circle cx="407.94" cy="660.83" r="2.25"/><circle cx="408.84" cy="673.68" r="2.25"/><circle cx="413.08" cy="666.37" r="2.25"/><circle cx="411.3" cy="661.14" r="2.25"/><circle cx="416.54" cy="668.42" r="2.25"/><circle cx="418.89" cy="671.38" r="2.25"/><circle cx="409.91" cy="657.61" r="2.25"/><circle cx="408.54" cy="677.74" r="2.25"/><circle cx="418.37" cy="664.53" r="2.25"/><circle cx="408.67" cy="661.72" r="2.25"/><circle cx="437.21" cy="536.29" r="2.25"/><circle cx="434.81" cy="545.27" r="2.25"/><circle cx="434.98" cy="555.99" r="2.25"/><circle cx="433.34" cy="553.46" r="2.25"/><circle cx="441.74" cy="551.77" r="2.25"/><circle cx="432.71" cy="559.54" r="2.25"/><circle cx="438.62" cy="566.06" r="2.25"/><circle cx="437.23" cy="557.94" r="2.25"/><circle cx="435.63" cy="564.18" r="2.25"/><circle cx="441.31" cy="566.2" r="2.25"/><circle cx="434.16" cy="617.66" r="2.25"/><circle cx="435.21" cy="604.77" r="2.25"/><circle cx="440.48" cy="625.59" r="2.25"/><circle cx="433.76" cy="611.92" r="2.25"/><circle cx="428.01" cy="576.66" r="2.25"/><circle cx="436.74" cy="607.91" r="2.25"/><circle cx="434.85" cy="601.84" r="2.25"/><circle cx="427.22" cy="609.3" r="2.25"/><circle cx="426.8" cy="623.92" r="2.25"/><circle cx="439.97" cy="580.67" r="2.25"/><circle cx="431.04" cy="629.08" r="2.25"/><circle cx="440.49" cy="625.9" r="2.25"/><circle cx="430.19" cy="576.41" r="2.25"/><circle cx="435.52" cy="602.39" r="2.25"/><circle cx="438.86" cy="572" r="2.25"/><circle cx="435.58" cy="571.79" r="2.25"/><circle cx="427.36" cy="597.27" r="2.25"/><circle cx="437.34" cy="576.57" r="2.25"/><circle cx="433.93" cy="590.34" r="2.25"/><circle cx="430.92" cy="583.94" r="2.25"/><circle cx="435.59" cy="567.45" r="2.25"/><circle cx="434.78" cy="618" r="2.25"/><circle cx="439.06" cy="601.61" r="2.25"/><circle cx="428.37" cy="569.2" r="2.25"/><circle cx="434.25" cy="619.56" r="2.25"/><circle cx="429.5" cy="614.09" r="2.25"/><circle cx="441.22" cy="578.69" r="2.25"/><circle cx="426.81" cy="585.79" r="2.25"/><circle cx="431.55" cy="602.47" r="2.25"/><circle cx="438.25" cy="611.63" r="2.25"/><circle cx="430.97" cy="571.2" r="2.25"/><circle cx="438.98" cy="577.52" r="2.25"/><circle cx="438.25" cy="569.37" r="2.25"/><circle cx="438.44" cy="582.93" r="2.25"/><circle cx="430.95" cy="585.54" r="2.25"/><circle cx="441.38" cy="594.02" r="2.25"/><circle cx="437.85" cy="619.1" r="2.25"/><circle cx="433.76" cy="596.65" r="2.25"/><circle cx="438.04" cy="597.3" r="2.25"/><circle cx="430.07" cy="567.71" r="2.25"/><circle cx="434.06" cy="622.7" r="2.25"/><circle cx="439.84" cy="607.02" r="2.25"/><circle cx="441.61" cy="628.27" r="2.25"/><circle cx="438.55" cy="587.12" r="2.25"/><circle cx="437.8" cy="627.88" r="2.25"/><circle cx="434.4" cy="598.24" r="2.25"/><circle cx="431.08" cy="624.58" r="2.25"/><circle cx="436.16" cy="607" r="2.25"/><circle cx="442.17" cy="615.36" r="2.25"/><circle cx="432.56" cy="588.47" r="2.25"/><circle cx="428.42" cy="620.69" r="2.25"/><circle cx="427.68" cy="576.46" r="2.25"/><circle cx="438.94" cy="622.69" r="2.25"/><circle cx="430.79" cy="588.19" r="2.25"/><circle cx="427.19" cy="626.36" r="2.25"/><circle cx="429.3" cy="580.98" r="2.25"/><circle cx="430.26" cy="582.84" r="2.25"/><circle cx="428.89" cy="590.01" r="2.25"/><circle cx="437.14" cy="589.69" r="2.25"/><circle cx="429.07" cy="600.7" r="2.25"/><circle cx="430.33" cy="609.72" r="2.25"/><circle cx="431.62" cy="572.57" r="2.25"/><circle cx="429.26" cy="605.13" r="2.25"/><circle cx="438.88" cy="625.16" r="2.25"/><circle cx="438.81" cy="572.84" r="2.25"/><circle cx="436.26" cy="571.56" r="2.25"/><circle cx="433.6" cy="580.85" r="2.25"/><circle cx="442.34" cy="598.82" r="2.25"/><circle cx="433.57" cy="569.82" r="2.25"/><circle cx="437.49" cy="598.23" r="2.25"/><circle cx="432.65" cy="584.74" r="2.25"/><circle cx="441.95" cy="598.28" r="2.25"/><circle cx="433.74" cy="598.04" r="2.25"/><circle cx="426.91" cy="577.99" r="2.25"/><circle cx="437.94" cy="590.43" r="2.25"/><circle cx="437.51" cy="578.95" r="2.25"/><circle cx="433.25" cy="593.95" r="2.25"/><circle cx="430.14" cy="594.9" r="2.25"/><circle cx="436.76" cy="594.53" r="2.25"/><circle cx="429.41" cy="612.57" r="2.25"/><circle cx="426.89" cy="603.55" r="2.25"/><circle cx="435.59" cy="607.79" r="2.25"/><circle cx="437.06" cy="605.86" r="2.25"/><circle cx="433.84" cy="617.42" r="2.25"/><circle cx="434.85" cy="616.47" r="2.25"/><circle cx="429.82" cy="603.01" r="2.25"/><circle cx="436.54" cy="597.58" r="2.25"/><circle cx="429.93" cy="594.04" r="2.25"/><circle cx="437.6" cy="616.72" r="2.25"/><circle cx="428.2" cy="575.2" r="2.25"/><circle cx="431.78" cy="594.63" r="2.25"/><circle cx="434.14" cy="597.77" r="2.25"/><circle cx="431.33" cy="620.61" r="2.25"/><circle cx="437.53" cy="587.16" r="2.25"/><circle cx="441.37" cy="598.66" r="2.25"/><circle cx="439.98" cy="598.31" r="2.25"/><circle cx="442.2" cy="619.62" r="2.25"/><circle cx="431.1" cy="581.4" r="2.25"/><circle cx="433.07" cy="594.5" r="2.25"/><circle cx="440.57" cy="616.66" r="2.25"/><circle cx="427.31" cy="629.09" r="2.25"/><circle cx="436.24" cy="570.27" r="2.25"/><circle cx="430.12" cy="642.74" r="2.25"/><circle cx="433.16" cy="643.05" r="2.25"/><circle cx="439.55" cy="633.1" r="2.25"/><circle cx="435.69" cy="643.57" r="2.25"/><circle cx="440.9" cy="644.31" r="2.25"/><circle cx="431.15" cy="643.43" r="2.25"/><circle cx="436.93" cy="649.61" r="2.25"/><circle cx="438.29" cy="646.08" r="2.25"/><circle cx="427.22" cy="637.86" r="2.25"/><circle cx="440.54" cy="632.5" r="2.25"/><circle cx="442.11" cy="666.12" r="2.25"/><circle cx="441.98" cy="656.66" r="2.25"/><circle cx="440.63" cy="666.56" r="2.25"/><circle cx="437.09" cy="688.54" r="2.25"/><circle cx="440.8" cy="687.8" r="2.25"/><circle cx="451.4" cy="533.47" r="2.25"/><circle cx="461.66" cy="534.5" r="2.25"/><circle cx="457.12" cy="543.34" r="2.25"/><circle cx="462.16" cy="544.47" r="2.25"/><circle cx="459.83" cy="542.78" r="2.25"/><circle cx="457.83" cy="533.56" r="2.25"/><circle cx="454.45" cy="530.29" r="2.25"/><circle cx="454.61" cy="528.16" r="2.25"/><circle cx="456.82" cy="561.5" r="2.25"/><circle cx="457.76" cy="581.28" r="2.25"/><circle cx="451.98" cy="565.55" r="2.25"/><circle cx="451.31" cy="573.27" r="2.25"/><circle cx="457.04" cy="582.77" r="2.25"/><circle cx="454.54" cy="572.27" r="2.25"/><circle cx="464.71" cy="555.73" r="2.25"/><circle cx="455.44" cy="566.47" r="2.25"/><circle cx="460.66" cy="559.59" r="2.25"/><circle cx="460.57" cy="595.11" r="2.25"/><circle cx="452.79" cy="556.02" r="2.25"/><circle cx="454.71" cy="567.89" r="2.25"/><circle cx="451.34" cy="567.2" r="2.25"/><circle cx="455.13" cy="596.25" r="2.25"/><circle cx="450.72" cy="585.65" r="2.25"/><circle cx="458.81" cy="557.98" r="2.25"/><circle cx="450.97" cy="571.17" r="2.25"/><circle cx="455.89" cy="565.8" r="2.25"/><circle cx="461.81" cy="593.97" r="2.25"/><circle cx="454.47" cy="551.69" r="2.25"/><circle cx="461.19" cy="589.52" r="2.25"/><circle cx="459.17" cy="578.92" r="2.25"/><circle cx="452.97" cy="576.62" r="2.25"/><circle cx="459.04" cy="563.11" r="2.25"/><circle cx="464.74" cy="583.75" r="2.25"/><circle cx="466.44" cy="578.7" r="2.25"/><circle cx="460.93" cy="577.21" r="2.25"/><circle cx="457.73" cy="561.49" r="2.25"/><circle cx="462.46" cy="594.83" r="2.25"/><circle cx="450.84" cy="579.8" r="2.25"/><circle cx="455.6" cy="574.48" r="2.25"/><circle cx="465.74" cy="582.3" r="2.25"/><circle cx="454.15" cy="575.29" r="2.25"/><circle cx="455.85" cy="576.33" r="2.25"/><circle cx="458.97" cy="592.41" r="2.25"/><circle cx="462.69" cy="564.4" r="2.25"/><circle cx="462.65" cy="574.78" r="2.25"/><circle cx="453.31" cy="558.51" r="2.25"/><circle cx="464.57" cy="550.45" r="2.25"/><circle cx="462.14" cy="591.75" r="2.25"/><circle cx="455.21" cy="561.32" r="2.25"/><circle cx="451.12" cy="583.26" r="2.25"/><circle cx="456.72" cy="555.6" r="2.25"/><circle cx="450.91" cy="583.76" r="2.25"/><circle cx="460.76" cy="598.26" r="2.25"/><circle cx="455.46" cy="558.86" r="2.25"/><circle cx="457.99" cy="558.51" r="2.25"/><circle cx="454.44" cy="560.07" r="2.25"/><circle cx="453.01" cy="564.6" r="2.25"/><circle cx="463.23" cy="595.14" r="2.25"/><circle cx="455.01" cy="580.67" r="2.25"/><circle cx="464.75" cy="594.79" r="2.25"/><circle cx="457.12" cy="544.89" r="2.25"/><circle cx="451.96" cy="547.04" r="2.25"/><circle cx="451.65" cy="569.23" r="2.25"/><circle cx="457.73" cy="561.69" r="2.25"/><circle cx="455.09" cy="573.1" r="2.25"/><circle cx="464.48" cy="589.75" r="2.25"/><circle cx="464.93" cy="593.38" r="2.25"/><circle cx="453.29" cy="586.44" r="2.25"/><circle cx="459.17" cy="581.79" r="2.25"/><circle cx="458.07" cy="595.3" r="2.25"/><circle cx="455.35" cy="598.23" r="2.25"/><circle cx="452.45" cy="563.04" r="2.25"/><circle cx="459.48" cy="573.61" r="2.25"/><circle cx="450.89" cy="557.64" r="2.25"/><circle cx="452.06" cy="560.85" r="2.25"/><circle cx="457.05" cy="551.51" r="2.25"/><circle cx="452.05" cy="579.58" r="2.25"/><circle cx="451.15" cy="548.01" r="2.25"/><circle cx="460.42" cy="580.26" r="2.25"/><circle cx="453.08" cy="550.51" r="2.25"/><circle cx="456.22" cy="591.73" r="2.25"/><circle cx="458.05" cy="578.93" r="2.25"/><circle cx="463.7" cy="595.26" r="2.25"/><circle cx="462.86" cy="550.62" r="2.25"/><circle cx="451.45" cy="561.89" r="2.25"/><circle cx="462.2" cy="557.68" r="2.25"/><circle cx="464.5" cy="573.33" r="2.25"/><circle cx="460.92" cy="566.88" r="2.25"/><circle cx="457.6" cy="591.3" r="2.25"/><circle cx="459.24" cy="570.13" r="2.25"/><circle cx="456.06" cy="608.37" r="2.25"/><circle cx="464.8" cy="616.4" r="2.25"/><circle cx="456.59" cy="616.39" r="2.25"/><circle cx="462.39" cy="623.96" r="2.25"/><circle cx="463.8" cy="610.87" r="2.25"/><circle cx="461.83" cy="613.26" r="2.25"/><circle cx="451.56" cy="611.38" r="2.25"/><circle cx="464.47" cy="610.6" r="2.25"/><circle cx="464.08" cy="629.66" r="2.25"/><circle cx="457.82" cy="608.8" r="2.25"/><circle cx="465.77" cy="631.92" r="2.25"/><circle cx="453.78" cy="626.25" r="2.25"/><circle cx="454.58" cy="611.34" r="2.25"/><circle cx="457.1" cy="601.3" r="2.25"/><circle cx="461.38" cy="609.6" r="2.25"/><circle cx="465.11" cy="603.58" r="2.25"/><circle cx="450.93" cy="619.52" r="2.25"/><circle cx="460.97" cy="608.58" r="2.25"/><circle cx="465.07" cy="627.49" r="2.25"/><circle cx="458.48" cy="602.17" r="2.25"/><circle cx="453.48" cy="633.4" r="2.25"/><circle cx="457.33" cy="628.59" r="2.25"/><circle cx="451.02" cy="620.59" r="2.25"/><circle cx="460.74" cy="611.47" r="2.25"/><circle cx="464.31" cy="624.69" r="2.25"/><circle cx="454.94" cy="636.03" r="2.25"/><circle cx="451.37" cy="639.44" r="2.25"/><circle cx="452.68" cy="637.63" r="2.25"/><circle cx="452.36" cy="636.77" r="2.25"/><circle cx="455.18" cy="681.13" r="2.25"/><circle cx="460.67" cy="681.64" r="2.25"/><circle cx="453.75" cy="681.95" r="2.25"/><circle cx="461.38" cy="488.38" r="2.25"/><circle cx="458.96" cy="496.14" r="2.25"/><circle cx="464.61" cy="501.37" r="2.25"/><circle cx="464.61" cy="504.54" r="2.25"/><circle cx="450.48" cy="508.82" r="2.25"/><circle cx="450.48" cy="514.68" r="2.25"/><circle cx="486.37" cy="521.81" r="2.25"/><circle cx="484.56" cy="518.35" r="2.25"/><circle cx="489.65" cy="506.65" r="2.25"/><circle cx="489.27" cy="519.32" r="2.25"/><circle cx="476.49" cy="515.93" r="2.25"/><circle cx="491.98" cy="526.51" r="2.25"/><circle cx="477.1" cy="527.14" r="2.25"/><circle cx="476.29" cy="518.97" r="2.25"/><circle cx="478.28" cy="538.65" r="2.25"/><circle cx="490.53" cy="539.51" r="2.25"/><circle cx="484.16" cy="564.29" r="2.25"/><circle cx="486.54" cy="566.8" r="2.25"/><circle cx="484.72" cy="586.93" r="2.25"/><circle cx="484.46" cy="557.73" r="2.25"/><circle cx="478.56" cy="580.02" r="2.25"/><circle cx="482.47" cy="537.81" r="2.25"/><circle cx="492.34" cy="549.02" r="2.25"/><circle cx="480.54" cy="571.29" r="2.25"/><circle cx="491.15" cy="574.95" r="2.25"/><circle cx="485.32" cy="548.26" r="2.25"/><circle cx="479.71" cy="536.25" r="2.25"/><circle cx="479.15" cy="532.43" r="2.25"/><circle cx="487.24" cy="559.65" r="2.25"/><circle cx="484.96" cy="538.28" r="2.25"/><circle cx="489.94" cy="588.06" r="2.25"/><circle cx="480.35" cy="590.05" r="2.25"/><circle cx="482.2" cy="549.22" r="2.25"/><circle cx="481.62" cy="557.59" r="2.25"/><circle cx="477.61" cy="578.54" r="2.25"/><circle cx="480.6" cy="575.63" r="2.25"/><circle cx="487.36" cy="544.84" r="2.25"/><circle cx="480.19" cy="541.47" r="2.25"/><circle cx="480.93" cy="541.79" r="2.25"/><circle cx="487.16" cy="561.25" r="2.25"/><circle cx="488.35" cy="544.34" r="2.25"/><circle cx="478.62" cy="537.91" r="2.25"/><circle cx="480.78" cy="586.93" r="2.25"/><circle cx="492.32" cy="532.42" r="2.25"/><circle cx="486.48" cy="588.03" r="2.25"/><circle cx="474.92" cy="544.77" r="2.25"/><circle cx="486.98" cy="541.23" r="2.25"/><circle cx="491.75" cy="553.81" r="2.25"/><circle cx="489.14" cy="569.14" r="2.25"/><circle cx="481.92" cy="554.42" r="2.25"/><circle cx="480.17" cy="552.21" r="2.25"/><circle cx="490.38" cy="564.34" r="2.25"/><circle cx="490.51" cy="545.82" r="2.25"/><circle cx="479.34" cy="586.6" r="2.25"/><circle cx="480.31" cy="555.66" r="2.25"/><circle cx="485.03" cy="581.08" r="2.25"/><circle cx="486.87" cy="571.91" r="2.25"/><circle cx="481.52" cy="583.97" r="2.25"/><circle cx="487.31" cy="575.97" r="2.25"/><circle cx="478.31" cy="538.08" r="2.25"/><circle cx="480.63" cy="543.24" r="2.25"/><circle cx="475.73" cy="561.04" r="2.25"/><circle cx="486.17" cy="549.28" r="2.25"/><circle cx="482.95" cy="580.48" r="2.25"/><circle cx="484.36" cy="538.8" r="2.25"/><circle cx="479.93" cy="566.75" r="2.25"/><circle cx="486.49" cy="569.97" r="2.25"/><circle cx="486.24" cy="566.11" r="2.25"/><circle cx="477.61" cy="562.55" r="2.25"/><circle cx="475.8" cy="585.89" r="2.25"/><circle cx="482.34" cy="570.57" r="2.25"/><circle cx="488.96" cy="587.45" r="2.25"/><circle cx="480.86" cy="555.26" r="2.25"/><circle cx="484.83" cy="554.24" r="2.25"/><circle cx="484.95" cy="534.04" r="2.25"/><circle cx="478.68" cy="560.92" r="2.25"/><circle cx="476.04" cy="545.79" r="2.25"/><circle cx="484.44" cy="533.96" r="2.25"/><circle cx="476.75" cy="559.04" r="2.25"/><circle cx="479.46" cy="565.97" r="2.25"/><circle cx="491.19" cy="577.11" r="2.25"/><circle cx="477.06" cy="566.92" r="2.25"/><circle cx="479.52" cy="545.44" r="2.25"/><circle cx="487.37" cy="575.15" r="2.25"/><circle cx="489.61" cy="576.81" r="2.25"/><circle cx="475.83" cy="580.59" r="2.25"/><circle cx="484.95" cy="545.26" r="2.25"/><circle cx="487.44" cy="581.18" r="2.25"/><circle cx="481.68" cy="542.56" r="2.25"/><circle cx="485.97" cy="545.58" r="2.25"/><circle cx="477.41" cy="543.56" r="2.25"/><circle cx="477.74" cy="588.79" r="2.25"/><circle cx="483.22" cy="603.48" r="2.25"/><circle cx="485.96" cy="609.31" r="2.25"/><circle cx="477.94" cy="606.37" r="2.25"/><circle cx="483.12" cy="627" r="2.25"/><circle cx="479.37" cy="613.04" r="2.25"/><circle cx="487.71" cy="591.57" r="2.25"/><circle cx="492.07" cy="606.33" r="2.25"/><circle cx="480.97" cy="595.78" r="2.25"/><circle cx="488.91" cy="592.04" r="2.25"/><circle cx="479.23" cy="590.67" r="2.25"/><circle cx="485.23" cy="603.54" r="2.25"/><circle cx="478.86" cy="593.42" r="2.25"/><circle cx="477.27" cy="601.88" r="2.25"/><circle cx="491.16" cy="597.78" r="2.25"/><circle cx="478.49" cy="591.32" r="2.25"/><circle cx="489.65" cy="590.75" r="2.25"/><circle cx="488.92" cy="592.44" r="2.25"/><circle cx="478.58" cy="619.29" r="2.25"/><circle cx="478.95" cy="609.7" r="2.25"/><circle cx="477.89" cy="594.1" r="2.25"/><circle cx="489.51" cy="614.57" r="2.25"/><circle cx="479.25" cy="622.08" r="2.25"/><circle cx="478.37" cy="640.43" r="2.25"/><circle cx="476.72" cy="479.82" r="2.25"/><circle cx="483.18" cy="479.82" r="2.25"/><circle cx="487.22" cy="488.38" r="2.25"/><circle cx="509.35" cy="511.3" r="2.25"/><circle cx="504.84" cy="513.6" r="2.25"/><circle cx="518.15" cy="518.62" r="2.25"/><circle cx="515" cy="518.27" r="2.25"/><circle cx="519.67" cy="514.52" r="2.25"/><circle cx="510.29" cy="507.83" r="2.25"/><circle cx="512.89" cy="516.38" r="2.25"/><circle cx="507.09" cy="520.72" r="2.25"/><circle cx="509.33" cy="579.67" r="2.25"/><circle cx="519.17" cy="528.46" r="2.25"/><circle cx="518.71" cy="552.8" r="2.25"/><circle cx="510.05" cy="564.21" r="2.25"/><circle cx="506.21" cy="564.2" r="2.25"/><circle cx="509.27" cy="551.57" r="2.25"/><circle cx="507.15" cy="550.33" r="2.25"/><circle cx="512.62" cy="572.84" r="2.25"/><circle cx="514.05" cy="527.98" r="2.25"/><circle cx="517.18" cy="549.32" r="2.25"/><circle cx="508.16" cy="539.08" r="2.25"/><circle cx="508.01" cy="531.34" r="2.25"/><circle cx="508.7" cy="569.72" r="2.25"/><circle cx="517.6" cy="568.73" r="2.25"/><circle cx="508.73" cy="540.22" r="2.25"/><circle cx="510.58" cy="557.97" r="2.25"/><circle cx="520.03" cy="530.21" r="2.25"/><circle cx="521.39" cy="548.32" r="2.25"/><circle cx="510.49" cy="546.5" r="2.25"/><circle cx="511.04" cy="524.45" r="2.25"/><circle cx="508.45" cy="532.62" r="2.25"/><circle cx="517.75" cy="564.72" r="2.25"/><circle cx="517.63" cy="540.47" r="2.25"/><circle cx="517.93" cy="550.8" r="2.25"/><circle cx="506.3" cy="552.79" r="2.25"/><circle cx="520.74" cy="527.9" r="2.25"/><circle cx="509.45" cy="543.05" r="2.25"/><circle cx="504.28" cy="538.84" r="2.25"/><circle cx="514.12" cy="558.29" r="2.25"/><circle cx="508.59" cy="576.21" r="2.25"/><circle cx="508.01" cy="555.95" r="2.25"/><circle cx="511.31" cy="572.03" r="2.25"/><circle cx="516.11" cy="580.48" r="2.25"/><circle cx="506.94" cy="564.42" r="2.25"/><circle cx="506.91" cy="533.43" r="2.25"/><circle cx="520.68" cy="553.51" r="2.25"/><circle cx="509.72" cy="531.64" r="2.25"/><circle cx="517.22" cy="542.95" r="2.25"/><circle cx="520.17" cy="576.74" r="2.25"/><circle cx="514.29" cy="565.37" r="2.25"/><circle cx="520.95" cy="577.28" r="2.25"/><circle cx="519.49" cy="527.38" r="2.25"/><circle cx="504.79" cy="529.2" r="2.25"/><circle cx="512.76" cy="528.33" r="2.25"/><circle cx="512.09" cy="523.66" r="2.25"/><circle cx="509.38" cy="569.78" r="2.25"/><circle cx="515.01" cy="523.89" r="2.25"/><circle cx="508.31" cy="540.82" r="2.25"/><circle cx="508.48" cy="559.27" r="2.25"/><circle cx="514.69" cy="535.94" r="2.25"/><circle cx="512.57" cy="526.53" r="2.25"/><circle cx="515.39" cy="579.01" r="2.25"/><circle cx="514.69" cy="579.02" r="2.25"/><circle cx="508.06" cy="549.72" r="2.25"/><circle cx="511.03" cy="540.86" r="2.25"/><circle cx="511.02" cy="533.6" r="2.25"/><circle cx="513.6" cy="546.32" r="2.25"/><circle cx="514.69" cy="551.63" r="2.25"/><circle cx="513.23" cy="580.72" r="2.25"/><circle cx="506.42" cy="562.76" r="2.25"/><circle cx="507.83" cy="569.81" r="2.25"/><circle cx="516.07" cy="555.14" r="2.25"/><circle cx="506.64" cy="542.68" r="2.25"/><circle cx="506.9" cy="563.51" r="2.25"/><circle cx="507.33" cy="541.34" r="2.25"/><circle cx="512.73" cy="580.3" r="2.25"/><circle cx="516.31" cy="570.56" r="2.25"/><circle cx="508.41" cy="575.04" r="2.25"/><circle cx="514.36" cy="548.45" r="2.25"/><circle cx="508.23" cy="522.72" r="2.25"/><circle cx="510.86" cy="573.25" r="2.25"/><circle cx="518" cy="551.03" r="2.25"/><circle cx="512.04" cy="545.56" r="2.25"/><circle cx="512.19" cy="555.7" r="2.25"/><circle cx="504.55" cy="534.3" r="2.25"/><circle cx="513.55" cy="539.24" r="2.25"/><circle cx="504.81" cy="553.36" r="2.25"/><circle cx="509.85" cy="550.25" r="2.25"/><circle cx="516.12" cy="566.05" r="2.25"/><circle cx="516.82" cy="540.29" r="2.25"/><circle cx="505.03" cy="530.74" r="2.25"/><circle cx="514.88" cy="565.3" r="2.25"/><circle cx="519.63" cy="578.49" r="2.25"/><circle cx="513.98" cy="531.07" r="2.25"/><circle cx="516.65" cy="527.54" r="2.25"/><circle cx="512.4" cy="527.49" r="2.25"/><circle cx="504.59" cy="532.66" r="2.25"/><circle cx="507.18" cy="543.14" r="2.25"/><circle cx="521.39" cy="597.76" r="2.25"/><circle cx="518.8" cy="591.67" r="2.25"/><circle cx="518.79" cy="614.22" r="2.25"/><circle cx="512.41" cy="592.71" r="2.25"/><circle cx="516.66" cy="583.12" r="2.25"/><circle cx="506.99" cy="596.92" r="2.25"/><circle cx="514.82" cy="601.08" r="2.25"/><circle cx="520.08" cy="597.58" r="2.25"/><circle cx="505.08" cy="593.01" r="2.25"/><circle cx="517.01" cy="591.09" r="2.25"/><circle cx="512.46" cy="598.79" r="2.25"/><circle cx="518.95" cy="590.99" r="2.25"/><circle cx="516.3" cy="587.11" r="2.25"/><circle cx="505.61" cy="591.07" r="2.25"/><circle cx="518.97" cy="589.96" r="2.25"/><circle cx="520.54" cy="601.2" r="2.25"/><circle cx="517.2" cy="588.89" r="2.25"/><circle cx="517.04" cy="597.25" r="2.25"/><circle cx="512.33" cy="583.68" r="2.25"/><circle cx="507.66" cy="603.79" r="2.25"/><circle cx="506.77" cy="586.25" r="2.25"/><circle cx="518.62" cy="602.48" r="2.25"/><circle cx="503.77" cy="479.03" r="2.25"/><circle cx="509.83" cy="486.95" r="2.25"/><circle cx="514.67" cy="484.42" r="2.25"/><circle cx="518.71" cy="488.38" r="2.25"/><circle cx="514.67" cy="492.82" r="2.25"/><circle cx="507" cy="494.88" r="2.25"/><circle cx="505.79" cy="499" r="2.25"/><circle cx="518.31" cy="499.63" r="2.25"/><circle cx="512.25" cy="505.33" r="2.25"/><circle cx="542.37" cy="515.29" r="2.25"/><circle cx="546.63" cy="519.25" r="2.25"/><circle cx="552.16" cy="518.15" r="2.25"/><circle cx="536.93" cy="519.96" r="2.25"/><circle cx="541.54" cy="589.94" r="2.25"/><circle cx="546.38" cy="558.75" r="2.25"/><circle cx="547.76" cy="531.21" r="2.25"/><circle cx="539.03" cy="580.13" r="2.25"/><circle cx="546.6" cy="544.38" r="2.25"/><circle cx="547.52" cy="597.46" r="2.25"/><circle cx="549.28" cy="582.84" r="2.25"/><circle cx="536.56" cy="526.54" r="2.25"/><circle cx="537.3" cy="528.16" r="2.25"/><circle cx="539.04" cy="585.67" r="2.25"/><circle cx="551.5" cy="545.08" r="2.25"/><circle cx="552.29" cy="598.62" r="2.25"/><circle cx="547.39" cy="567.96" r="2.25"/><circle cx="540.18" cy="568.53" r="2.25"/><circle cx="549.51" cy="565.46" r="2.25"/><circle cx="551.81" cy="528.9" r="2.25"/><circle cx="546.01" cy="592.3" r="2.25"/><circle cx="537.61" cy="559.85" r="2.25"/><circle cx="549.97" cy="524.04" r="2.25"/><circle cx="548.01" cy="601.6" r="2.25"/><circle cx="551.37" cy="555.72" r="2.25"/><circle cx="537.53" cy="547.24" r="2.25"/><circle cx="551.93" cy="580.42" r="2.25"/><circle cx="545.46" cy="552.88" r="2.25"/><circle cx="546.01" cy="575.5" r="2.25"/><circle cx="545.02" cy="530.16" r="2.25"/><circle cx="545.06" cy="588.59" r="2.25"/><circle cx="545.41" cy="543.84" r="2.25"/><circle cx="536.64" cy="534.72" r="2.25"/><circle cx="543.71" cy="585.02" r="2.25"/><circle cx="539.22" cy="595.44" r="2.25"/><circle cx="550.36" cy="538.07" r="2.25"/><circle cx="542.62" cy="525.11" r="2.25"/><circle cx="539.22" cy="601.42" r="2.25"/><circle cx="550" cy="542.62" r="2.25"/><circle cx="538.49" cy="576.88" r="2.25"/><circle cx="536.69" cy="558.45" r="2.25"/><circle cx="544.71" cy="552.59" r="2.25"/><circle cx="550.23" cy="535.91" r="2.25"/><circle cx="541.36" cy="569.1" r="2.25"/><circle cx="537.97" cy="556.34" r="2.25"/><circle cx="542.15" cy="547.66" r="2.25"/><circle cx="540.66" cy="573.69" r="2.25"/><circle cx="546.82" cy="590.02" r="2.25"/><circle cx="539.47" cy="558.37" r="2.25"/><circle cx="547.07" cy="592.22" r="2.25"/><circle cx="542.56" cy="566.5" r="2.25"/><circle cx="542.48" cy="596.36" r="2.25"/><circle cx="547.45" cy="547.47" r="2.25"/><circle cx="539.64" cy="560.06" r="2.25"/><circle cx="549.97" cy="544.11" r="2.25"/><circle cx="535.43" cy="576.99" r="2.25"/><circle cx="539.2" cy="534.23" r="2.25"/><circle cx="547.68" cy="543.46" r="2.25"/><circle cx="535.5" cy="543.82" r="2.25"/><circle cx="537.78" cy="587.36" r="2.25"/><circle cx="543.51" cy="554.48" r="2.25"/><circle cx="539.78" cy="534.75" r="2.25"/><circle cx="548.24" cy="526.7" r="2.25"/><circle cx="537.83" cy="565.09" r="2.25"/><circle cx="541.78" cy="570.89" r="2.25"/><circle cx="537.04" cy="531.44" r="2.25"/><circle cx="537.48" cy="597.67" r="2.25"/><circle cx="535.57" cy="540.23" r="2.25"/><circle cx="550.7" cy="576.57" r="2.25"/><circle cx="538.65" cy="579.91" r="2.25"/><circle cx="542.93" cy="554.05" r="2.25"/><circle cx="539.99" cy="544.21" r="2.25"/><circle cx="548.32" cy="529.54" r="2.25"/><circle cx="551.95" cy="543.83" r="2.25"/><circle cx="551.99" cy="541.14" r="2.25"/><circle cx="542.13" cy="599.78" r="2.25"/><circle cx="539.1" cy="528.31" r="2.25"/><circle cx="547.01" cy="538.16" r="2.25"/><circle cx="536.28" cy="540.66" r="2.25"/><circle cx="540.24" cy="578.78" r="2.25"/><circle cx="543.01" cy="536.94" r="2.25"/><circle cx="547.85" cy="524.95" r="2.25"/><circle cx="535.37" cy="567.76" r="2.25"/><circle cx="546.26" cy="566.91" r="2.25"/><circle cx="542.18" cy="531.99" r="2.25"/><circle cx="544.31" cy="589.86" r="2.25"/><circle cx="542.15" cy="570.88" r="2.25"/><circle cx="540.34" cy="593.93" r="2.25"/><circle cx="550.14" cy="547.41" r="2.25"/><circle cx="552.54" cy="548.15" r="2.25"/><circle cx="544.12" cy="530.16" r="2.25"/><circle cx="546.18" cy="532.94" r="2.25"/><circle cx="551.05" cy="564.08" r="2.25"/><circle cx="539.03" cy="574.96" r="2.25"/><circle cx="550.95" cy="569.21" r="2.25"/><circle cx="542.27" cy="584.51" r="2.25"/><circle cx="548.97" cy="601.55" r="2.25"/><circle cx="550.67" cy="589.14" r="2.25"/><circle cx="539.06" cy="580.29" r="2.25"/><circle cx="542.84" cy="556.46" r="2.25"/><circle cx="548.58" cy="564.25" r="2.25"/><circle cx="547.25" cy="598.58" r="2.25"/><circle cx="546.2" cy="556.32" r="2.25"/><circle cx="536.59" cy="526.45" r="2.25"/><circle cx="545.88" cy="564.39" r="2.25"/><circle cx="538.99" cy="561.29" r="2.25"/><circle cx="550.35" cy="547.56" r="2.25"/><circle cx="536.8" cy="577.31" r="2.25"/><circle cx="551.62" cy="593.3" r="2.25"/><circle cx="546.41" cy="534.25" r="2.25"/><circle cx="547.37" cy="552.47" r="2.25"/><circle cx="535.93" cy="579.61" r="2.25"/><circle cx="539.48" cy="581.49" r="2.25"/><circle cx="547.04" cy="576.68" r="2.25"/><circle cx="535.56" cy="597.58" r="2.25"/><circle cx="542.58" cy="568.16" r="2.25"/><circle cx="545.16" cy="577.15" r="2.25"/><circle cx="549.48" cy="529.51" r="2.25"/><circle cx="551.21" cy="528.59" r="2.25"/><circle cx="541.97" cy="566.91" r="2.25"/><circle cx="550.81" cy="588.65" r="2.25"/><circle cx="551.24" cy="602.55" r="2.25"/><circle cx="540.72" cy="606.42" r="2.25"/><circle cx="544.66" cy="637.5" r="2.25"/><circle cx="538.59" cy="636.91" r="2.25"/><circle cx="542.48" cy="635.76" r="2.25"/><circle cx="548.99" cy="492.97" r="2.25"/><circle cx="550.2" cy="495.51" r="2.25"/><circle cx="552.62" cy="507.55" r="2.25"/><circle cx="576.45" cy="514.8" r="2.25"/><circle cx="577.98" cy="518.64" r="2.25"/><circle cx="570.01" cy="518.83" r="2.25"/><circle cx="573.26" cy="517.86" r="2.25"/><circle cx="574.08" cy="529.08" r="2.25"/><circle cx="570.17" cy="557.22" r="2.25"/><circle cx="567.08" cy="556.54" r="2.25"/><circle cx="574.34" cy="548.11" r="2.25"/><circle cx="571.89" cy="590.77" r="2.25"/><circle cx="570.04" cy="579.89" r="2.25"/><circle cx="567" cy="528.34" r="2.25"/><circle cx="576.57" cy="527.06" r="2.25"/><circle cx="581.04" cy="580.08" r="2.25"/><circle cx="569.17" cy="562.37" r="2.25"/><circle cx="571.09" cy="568.44" r="2.25"/><circle cx="565.09" cy="528.51" r="2.25"/><circle cx="579.49" cy="555.47" r="2.25"/><circle cx="570.56" cy="554.35" r="2.25"/><circle cx="573.54" cy="571.67" r="2.25"/><circle cx="577.05" cy="581.39" r="2.25"/><circle cx="570.3" cy="536.03" r="2.25"/><circle cx="576.84" cy="585.82" r="2.25"/><circle cx="569.73" cy="560.51" r="2.25"/><circle cx="566.48" cy="543.07" r="2.25"/><circle cx="575.05" cy="572.8" r="2.25"/><circle cx="569.66" cy="586.87" r="2.25"/><circle cx="567.13" cy="556.36" r="2.25"/><circle cx="573.62" cy="535.04" r="2.25"/><circle cx="578.39" cy="543.84" r="2.25"/><circle cx="574.29" cy="583.01" r="2.25"/><circle cx="571.72" cy="530.76" r="2.25"/><circle cx="578.06" cy="542.63" r="2.25"/><circle cx="579.95" cy="535.37" r="2.25"/><circle cx="568.25" cy="529.77" r="2.25"/><circle cx="581.59" cy="554.86" r="2.25"/><circle cx="574.27" cy="535.69" r="2.25"/><circle cx="578.48" cy="530.45" r="2.25"/><circle cx="572.22" cy="532.72" r="2.25"/><circle cx="571.71" cy="566.46" r="2.25"/><circle cx="572.71" cy="554.35" r="2.25"/><circle cx="564.04" cy="583.52" r="2.25"/><circle cx="579.27" cy="599" r="2.25"/><circle cx="580.02" cy="528.26" r="2.25"/><circle cx="572.2" cy="531.35" r="2.25"/><circle cx="580.31" cy="571.26" r="2.25"/><circle cx="577.93" cy="585.25" r="2.25"/><circle cx="570.87" cy="587.94" r="2.25"/><circle cx="569.24" cy="524.31" r="2.25"/><circle cx="575.36" cy="575.86" r="2.25"/><circle cx="565.3" cy="533.97" r="2.25"/><circle cx="580.85" cy="523.36" r="2.25"/><circle cx="564.45" cy="538.92" r="2.25"/><circle cx="569.19" cy="586.16" r="2.25"/><circle cx="572.66" cy="577.42" r="2.25"/><circle cx="580.8" cy="589.66" r="2.25"/><circle cx="570.3" cy="588.49" r="2.25"/><circle cx="576.86" cy="562.61" r="2.25"/><circle cx="572.57" cy="530.42" r="2.25"/><circle cx="574.49" cy="561.13" r="2.25"/><circle cx="579.53" cy="555.1" r="2.25"/><circle cx="580.24" cy="550.59" r="2.25"/><circle cx="576.99" cy="559.8" r="2.25"/><circle cx="565.64" cy="555.39" r="2.25"/><circle cx="579.82" cy="541.94" r="2.25"/><circle cx="581.31" cy="581.41" r="2.25"/><circle cx="579.51" cy="588.5" r="2.25"/><circle cx="563.77" cy="598.65" r="2.25"/><circle cx="567.37" cy="583.88" r="2.25"/><circle cx="578.09" cy="561.32" r="2.25"/><circle cx="579.76" cy="572.99" r="2.25"/><circle cx="566.31" cy="578.87" r="2.25"/><circle cx="567.09" cy="540.8" r="2.25"/><circle cx="580.96" cy="558.43" r="2.25"/><circle cx="573.79" cy="557.02" r="2.25"/><circle cx="576.48" cy="535.78" r="2.25"/><circle cx="578.85" cy="566.36" r="2.25"/><circle cx="572.85" cy="564.83" r="2.25"/><circle cx="566.56" cy="595.81" r="2.25"/><circle cx="578.8" cy="566.71" r="2.25"/><circle cx="566.74" cy="598.47" r="2.25"/><circle cx="563.97" cy="567.61" r="2.25"/><circle cx="574.14" cy="529.02" r="2.25"/><circle cx="577.62" cy="569.72" r="2.25"/><circle cx="574.41" cy="600.07" r="2.25"/><circle cx="566.52" cy="566.89" r="2.25"/><circle cx="574.49" cy="547.94" r="2.25"/><circle cx="580.61" cy="573.16" r="2.25"/><circle cx="570.84" cy="590.52" r="2.25"/><circle cx="568.73" cy="586.61" r="2.25"/><circle cx="578.83" cy="552.34" r="2.25"/><circle cx="578.16" cy="596.54" r="2.25"/><circle cx="572.38" cy="549.92" r="2.25"/><circle cx="567.63" cy="559.36" r="2.25"/><circle cx="564.28" cy="550.41" r="2.25"/><circle cx="574.7" cy="550.6" r="2.25"/><circle cx="564.29" cy="558.44" r="2.25"/><circle cx="570.27" cy="583.41" r="2.25"/><circle cx="581.87" cy="560.2" r="2.25"/><circle cx="576.66" cy="562.55" r="2.25"/><circle cx="580.08" cy="588.63" r="2.25"/><circle cx="572.54" cy="546.11" r="2.25"/><circle cx="566.73" cy="590.27" r="2.25"/><circle cx="572.61" cy="559.14" r="2.25"/><circle cx="579.74" cy="550.75" r="2.25"/><circle cx="567.89" cy="575.63" r="2.25"/><circle cx="579" cy="588.76" r="2.25"/><circle cx="569.33" cy="576.25" r="2.25"/><circle cx="574.69" cy="544.95" r="2.25"/><circle cx="566.39" cy="567.24" r="2.25"/><circle cx="579.51" cy="549.61" r="2.25"/><circle cx="579.52" cy="534.15" r="2.25"/><circle cx="573.29" cy="579.88" r="2.25"/><circle cx="569.42" cy="559.86" r="2.25"/><circle cx="580.33" cy="579.54" r="2.25"/><circle cx="578.13" cy="581.25" r="2.25"/><circle cx="567.94" cy="597.37" r="2.25"/><circle cx="570.83" cy="537.58" r="2.25"/><circle cx="571.26" cy="552.44" r="2.25"/><circle cx="565.16" cy="576.85" r="2.25"/><circle cx="573.23" cy="600.61" r="2.25"/><circle cx="568.72" cy="537.06" r="2.25"/><circle cx="565.41" cy="605.74" r="2.25"/><circle cx="575.34" cy="616.32" r="2.25"/><circle cx="566.84" cy="607.97" r="2.25"/><circle cx="574.05" cy="614.13" r="2.25"/><circle cx="578.51" cy="610.32" r="2.25"/><circle cx="580.78" cy="614.16" r="2.25"/><circle cx="571.77" cy="604.86" r="2.25"/><circle cx="569.25" cy="606.16" r="2.25"/><circle cx="578.03" cy="608.21" r="2.25"/><circle cx="574.71" cy="604.16" r="2.25"/><circle cx="566.76" cy="639.77" r="2.25"/><circle cx="579.64" cy="640.74" r="2.25"/><circle cx="563.57" cy="639.71" r="2.25"/><circle cx="566.35" cy="482.99" r="2.25"/><circle cx="576.85" cy="482.52" r="2.25"/><circle cx="577.66" cy="481.25" r="2.25"/><circle cx="581.7" cy="485.69" r="2.25"/><circle cx="581.7" cy="500.11" r="2.25"/><circle cx="574.02" cy="509.3" r="2.25"/><circle cx="607.71" cy="535.25" r="2.25"/><circle cx="609.1" cy="537.55" r="2.25"/><circle cx="597.5" cy="553.55" r="2.25"/><circle cx="595.07" cy="555.63" r="2.25"/><circle cx="607.14" cy="552.45" r="2.25"/><circle cx="599.28" cy="553.42" r="2.25"/><circle cx="604.36" cy="550.63" r="2.25"/><circle cx="599.13" cy="627.43" r="2.25"/><circle cx="597.81" cy="613.02" r="2.25"/><circle cx="595.3" cy="592.22" r="2.25"/><circle cx="608.79" cy="592.75" r="2.25"/><circle cx="593.1" cy="624.79" r="2.25"/><circle cx="608.42" cy="563.71" r="2.25"/><circle cx="598.76" cy="601.86" r="2.25"/><circle cx="596.84" cy="585.37" r="2.25"/><circle cx="607.95" cy="592.26" r="2.25"/><circle cx="604.47" cy="634.14" r="2.25"/><circle cx="607.14" cy="594.71" r="2.25"/><circle cx="592.9" cy="610.53" r="2.25"/><circle cx="605" cy="619.97" r="2.25"/><circle cx="606.15" cy="590.24" r="2.25"/><circle cx="603.37" cy="569.97" r="2.25"/><circle cx="607.99" cy="611.94" r="2.25"/><circle cx="594.58" cy="584.26" r="2.25"/><circle cx="605.18" cy="614.96" r="2.25"/><circle cx="599.27" cy="572.9" r="2.25"/><circle cx="595.09" cy="627.79" r="2.25"/><circle cx="608.51" cy="634.16" r="2.25"/><circle cx="595.86" cy="633.43" r="2.25"/><circle cx="600.04" cy="584.28" r="2.25"/><circle cx="596.03" cy="625.65" r="2.25"/><circle cx="600.92" cy="619.38" r="2.25"/><circle cx="602.09" cy="603.73" r="2.25"/><circle cx="596.79" cy="575.44" r="2.25"/><circle cx="596.79" cy="594.21" r="2.25"/><circle cx="592.88" cy="571.46" r="2.25"/><circle cx="595.39" cy="586.81" r="2.25"/><circle cx="609.43" cy="618.83" r="2.25"/><circle cx="604.25" cy="629.79" r="2.25"/><circle cx="608.19" cy="586.77" r="2.25"/><circle cx="604.49" cy="631.92" r="2.25"/><circle cx="598.85" cy="591.56" r="2.25"/><circle cx="596.63" cy="579.94" r="2.25"/><circle cx="602.03" cy="619.51" r="2.25"/><circle cx="607.23" cy="587.9" r="2.25"/><circle cx="596.52" cy="609.51" r="2.25"/><circle cx="603.79" cy="588.3" r="2.25"/><circle cx="599.7" cy="586.41" r="2.25"/><circle cx="593.25" cy="618.26" r="2.25"/><circle cx="593.86" cy="584.88" r="2.25"/><circle cx="604.71" cy="583.49" r="2.25"/><circle cx="603.12" cy="610.45" r="2.25"/><circle cx="600.98" cy="603.88" r="2.25"/><circle cx="594.69" cy="575.84" r="2.25"/><circle cx="594.52" cy="614.44" r="2.25"/><circle cx="605.1" cy="572" r="2.25"/><circle cx="593.88" cy="578.98" r="2.25"/><circle cx="596.37" cy="568.35" r="2.25"/><circle cx="593.91" cy="562.74" r="2.25"/><circle cx="597.03" cy="616.34" r="2.25"/><circle cx="606.6" cy="610.51" r="2.25"/><circle cx="595.01" cy="612.84" r="2.25"/><circle cx="608.41" cy="594.7" r="2.25"/><circle cx="600.65" cy="593.98" r="2.25"/><circle cx="594.09" cy="593.72" r="2.25"/><circle cx="604.55" cy="634.78" r="2.25"/><circle cx="595.43" cy="567.31" r="2.25"/><circle cx="600.75" cy="615.71" r="2.25"/><circle cx="602.81" cy="606.21" r="2.25"/><circle cx="593.08" cy="565.41" r="2.25"/><circle cx="598.21" cy="601.05" r="2.25"/><circle cx="598.45" cy="575.98" r="2.25"/><circle cx="598.46" cy="610.52" r="2.25"/><circle cx="600.03" cy="563.96" r="2.25"/><circle cx="607.83" cy="631.02" r="2.25"/><circle cx="608.35" cy="591.38" r="2.25"/><circle cx="594.7" cy="611.04" r="2.25"/><circle cx="603.89" cy="566.8" r="2.25"/><circle cx="605.76" cy="609.97" r="2.25"/><circle cx="600.62" cy="578.75" r="2.25"/><circle cx="602.45" cy="595.94" r="2.25"/><circle cx="593.22" cy="622.63" r="2.25"/><circle cx="594.5" cy="618.63" r="2.25"/><circle cx="604.27" cy="594.99" r="2.25"/><circle cx="600.51" cy="594.44" r="2.25"/><circle cx="595.04" cy="622.77" r="2.25"/><circle cx="602.9" cy="564.08" r="2.25"/><circle cx="595.46" cy="596.15" r="2.25"/><circle cx="595.72" cy="630.54" r="2.25"/><circle cx="609.2" cy="578.15" r="2.25"/><circle cx="606.22" cy="587.31" r="2.25"/><circle cx="593.41" cy="608.97" r="2.25"/><circle cx="609.3" cy="600.11" r="2.25"/><circle cx="604.53" cy="565.03" r="2.25"/><circle cx="604.57" cy="621.74" r="2.25"/><circle cx="608.03" cy="581.08" r="2.25"/><circle cx="596.35" cy="631.91" r="2.25"/><circle cx="597.8" cy="603.9" r="2.25"/><circle cx="596.52" cy="607.24" r="2.25"/><circle cx="600.15" cy="619.33" r="2.25"/><circle cx="607.64" cy="588.21" r="2.25"/><circle cx="608.74" cy="589.83" r="2.25"/><circle cx="595.47" cy="630.04" r="2.25"/><circle cx="597.26" cy="594.83" r="2.25"/><circle cx="607.28" cy="575.4" r="2.25"/><circle cx="608.2" cy="579.41" r="2.25"/><circle cx="601.12" cy="608.8" r="2.25"/><circle cx="594.85" cy="634.28" r="2.25"/><circle cx="605.72" cy="590.29" r="2.25"/><circle cx="596.82" cy="626.19" r="2.25"/><circle cx="592.57" cy="601.45" r="2.25"/><circle cx="596.42" cy="572.57" r="2.25"/><circle cx="593.38" cy="599.41" r="2.25"/><circle cx="600.23" cy="586.38" r="2.25"/><circle cx="595.66" cy="592.02" r="2.25"/><circle cx="596.49" cy="647" r="2.25"/><circle cx="596.09" cy="642.97" r="2.25"/><circle cx="601.13" cy="650.65" r="2.25"/><circle cx="600.55" cy="642.73" r="2.25"/><circle cx="594.03" cy="642.8" r="2.25"/><circle cx="603.82" cy="662.31" r="2.25"/><circle cx="605.01" cy="667.98" r="2.25"/><circle cx="599.33" cy="661.62" r="2.25"/><circle cx="604.34" cy="662.24" r="2.25"/><circle cx="602.91" cy="681.89" r="2.25"/><circle cx="606.67" cy="693.48" r="2.25"/><circle cx="607" cy="692.93" r="2.25"/><circle cx="602.69" cy="519.75" r="2.25"/><circle cx="605.92" cy="516.74" r="2.25"/><circle cx="597.04" cy="521.66" r="2.25"/><circle cx="629.44" cy="552.91" r="2.25"/><circle cx="633.58" cy="555.63" r="2.25"/><circle cx="623.69" cy="551.9" r="2.25"/><circle cx="625.96" cy="570.86" r="2.25"/><circle cx="634.54" cy="568.23" r="2.25"/><circle cx="621.86" cy="570.96" r="2.25"/><circle cx="624.89" cy="622.43" r="2.25"/><circle cx="627.82" cy="628.82" r="2.25"/><circle cx="634.71" cy="620.2" r="2.25"/><circle cx="632.07" cy="641.11" r="2.25"/><circle cx="626.33" cy="620.88" r="2.25"/><circle cx="631.56" cy="624.03" r="2.25"/><circle cx="634.7" cy="628.83" r="2.25"/><circle cx="625.07" cy="633.61" r="2.25"/><circle cx="629.3" cy="591.16" r="2.25"/><circle cx="634.04" cy="640.22" r="2.25"/><circle cx="637.97" cy="588.12" r="2.25"/><circle cx="632.23" cy="617.07" r="2.25"/><circle cx="636.32" cy="604.78" r="2.25"/><circle cx="631.69" cy="653.76" r="2.25"/><circle cx="630.17" cy="591.56" r="2.25"/><circle cx="628.33" cy="584.03" r="2.25"/><circle cx="627.49" cy="624.24" r="2.25"/><circle cx="635.08" cy="623.4" r="2.25"/><circle cx="624.36" cy="608.93" r="2.25"/><circle cx="622.49" cy="648.83" r="2.25"/><circle cx="631.91" cy="615.63" r="2.25"/><circle cx="622.97" cy="625.12" r="2.25"/><circle cx="621.15" cy="590.75" r="2.25"/><circle cx="635.96" cy="650.76" r="2.25"/><circle cx="627.18" cy="638" r="2.25"/><circle cx="632.43" cy="617.35" r="2.25"/><circle cx="630.76" cy="590.22" r="2.25"/><circle cx="631.05" cy="612.7" r="2.25"/><circle cx="633.81" cy="639.02" r="2.25"/><circle cx="634.05" cy="585.05" r="2.25"/><circle cx="631.78" cy="586.31" r="2.25"/><circle cx="626.49" cy="632.6" r="2.25"/><circle cx="630.96" cy="652.63" r="2.25"/><circle cx="630.15" cy="649.15" r="2.25"/><circle cx="631.36" cy="583.58" r="2.25"/><circle cx="621.19" cy="630.96" r="2.25"/><circle cx="621.16" cy="630.4" r="2.25"/><circle cx="626.91" cy="656.75" r="2.25"/><circle cx="623.42" cy="608.9" r="2.25"/><circle cx="629.47" cy="603.78" r="2.25"/><circle cx="627.2" cy="601.8" r="2.25"/><circle cx="632.24" cy="597.16" r="2.25"/><circle cx="626.18" cy="619.05" r="2.25"/><circle cx="622.15" cy="632.39" r="2.25"/><circle cx="629.79" cy="592.9" r="2.25"/><circle cx="637.33" cy="599.82" r="2.25"/><circle cx="625.87" cy="625.89" r="2.25"/><circle cx="634.22" cy="587.68" r="2.25"/><circle cx="637.47" cy="628.27" r="2.25"/><circle cx="626.77" cy="599.29" r="2.25"/><circle cx="629.76" cy="591.93" r="2.25"/><circle cx="628.63" cy="645.48" r="2.25"/><circle cx="627.78" cy="614.55" r="2.25"/><circle cx="633.55" cy="627.89" r="2.25"/><circle cx="638.12" cy="645.86" r="2.25"/><circle cx="627.87" cy="641.46" r="2.25"/><circle cx="623.77" cy="590.35" r="2.25"/><circle cx="637.11" cy="583.1" r="2.25"/><circle cx="630.77" cy="653.81" r="2.25"/><circle cx="621.54" cy="638.5" r="2.25"/><circle cx="637.79" cy="631.38" r="2.25"/><circle cx="637.68" cy="627.66" r="2.25"/><circle cx="621.61" cy="596.24" r="2.25"/><circle cx="633.79" cy="611.89" r="2.25"/><circle cx="630.64" cy="602.76" r="2.25"/><circle cx="623.94" cy="630.48" r="2.25"/><circle cx="627.85" cy="647.52" r="2.25"/><circle cx="631.97" cy="614.3" r="2.25"/><circle cx="623.57" cy="589.82" r="2.25"/><circle cx="622.34" cy="627.91" r="2.25"/><circle cx="624.38" cy="597.88" r="2.25"/><circle cx="624.14" cy="651.98" r="2.25"/><circle cx="635.37" cy="628.74" r="2.25"/><circle cx="634.14" cy="601.72" r="2.25"/><circle cx="636.32" cy="630.18" r="2.25"/><circle cx="635.11" cy="616.72" r="2.25"/><circle cx="635.45" cy="635.61" r="2.25"/><circle cx="622.83" cy="607.56" r="2.25"/><circle cx="637.15" cy="633.22" r="2.25"/><circle cx="630.77" cy="612.14" r="2.25"/><circle cx="622.31" cy="609.15" r="2.25"/><circle cx="634.81" cy="633.18" r="2.25"/><circle cx="621.06" cy="630.76" r="2.25"/><circle cx="628.23" cy="610.39" r="2.25"/><circle cx="624.03" cy="653.34" r="2.25"/><circle cx="636.67" cy="614.15" r="2.25"/><circle cx="628.49" cy="596.56" r="2.25"/><circle cx="622.43" cy="604.04" r="2.25"/><circle cx="635.73" cy="626.43" r="2.25"/><circle cx="628" cy="585.51" r="2.25"/><circle cx="623.64" cy="607.74" r="2.25"/><circle cx="629.67" cy="618.28" r="2.25"/><circle cx="632.21" cy="612.18" r="2.25"/><circle cx="632.77" cy="637.73" r="2.25"/><circle cx="634.33" cy="622.55" r="2.25"/><circle cx="625.36" cy="644.68" r="2.25"/><circle cx="634.23" cy="585.59" r="2.25"/><circle cx="636.39" cy="595.87" r="2.25"/><circle cx="637.97" cy="581.62" r="2.25"/><circle cx="630.4" cy="600.66" r="2.25"/><circle cx="622.3" cy="654.73" r="2.25"/><circle cx="622.81" cy="608.58" r="2.25"/><circle cx="637.72" cy="620.32" r="2.25"/><circle cx="637.11" cy="641.89" r="2.25"/><circle cx="633.22" cy="607.55" r="2.25"/><circle cx="623.27" cy="633.09" r="2.25"/><circle cx="633.6" cy="616.11" r="2.25"/><circle cx="633.35" cy="618.08" r="2.25"/><circle cx="635.54" cy="662.34" r="2.25"/><circle cx="631.07" cy="659.25" r="2.25"/><circle cx="636.07" cy="661.61" r="2.25"/><circle cx="638.5" cy="661.73" r="2.25"/><circle cx="636.34" cy="663.09" r="2.25"/><circle cx="635.36" cy="665.28" r="2.25"/><circle cx="628.35" cy="661.19" r="2.25"/><circle cx="637.04" cy="659.03" r="2.25"/><circle cx="636.44" cy="681.19" r="2.25"/><circle cx="637.11" cy="676.26" r="2.25"/><circle cx="623.62" cy="686.37" r="2.25"/><circle cx="626.62" cy="683.66" r="2.25"/><circle cx="635.57" cy="677.8" r="2.25"/><circle cx="659.53" cy="571.07" r="2.25"/><circle cx="655.23" cy="566.1" r="2.25"/><circle cx="663.71" cy="570.43" r="2.25"/><circle cx="663.7" cy="565.21" r="2.25"/><circle cx="662.47" cy="602.8" r="2.25"/><circle cx="665.99" cy="597.09" r="2.25"/><circle cx="656.11" cy="580.6" r="2.25"/><circle cx="657.55" cy="581.36" r="2.25"/><circle cx="658.39" cy="594.4" r="2.25"/><circle cx="660.79" cy="644.46" r="2.25"/><circle cx="650.46" cy="587.06" r="2.25"/><circle cx="649.25" cy="617.01" r="2.25"/><circle cx="658.02" cy="588.82" r="2.25"/><circle cx="652.21" cy="623.77" r="2.25"/><circle cx="663.37" cy="617.28" r="2.25"/><circle cx="661.52" cy="636.64" r="2.25"/><circle cx="660.94" cy="613.5" r="2.25"/><circle cx="665.31" cy="617.76" r="2.25"/><circle cx="655.08" cy="625.52" r="2.25"/><circle cx="651.91" cy="604.07" r="2.25"/><circle cx="651.12" cy="624.97" r="2.25"/><circle cx="657.23" cy="589.21" r="2.25"/><circle cx="652.13" cy="635.66" r="2.25"/><circle cx="664.7" cy="598.55" r="2.25"/><circle cx="655.03" cy="640.71" r="2.25"/><circle cx="653.95" cy="633.45" r="2.25"/><circle cx="649.62" cy="624.25" r="2.25"/><circle cx="655.19" cy="597.48" r="2.25"/><circle cx="665.53" cy="628.51" r="2.25"/><circle cx="652.52" cy="631.8" r="2.25"/><circle cx="651.49" cy="598.18" r="2.25"/><circle cx="658.34" cy="634.76" r="2.25"/><circle cx="655.86" cy="619.97" r="2.25"/><circle cx="656.93" cy="595.92" r="2.25"/><circle cx="663.25" cy="591.54" r="2.25"/><circle cx="657.19" cy="596.26" r="2.25"/><circle cx="665.83" cy="582.98" r="2.25"/><circle cx="657.55" cy="589.62" r="2.25"/><circle cx="650.91" cy="613.3" r="2.25"/><circle cx="656.79" cy="615.46" r="2.25"/><circle cx="658.54" cy="583.77" r="2.25"/><circle cx="654.28" cy="619.06" r="2.25"/><circle cx="663.05" cy="611.71" r="2.25"/><circle cx="658" cy="585.83" r="2.25"/><circle cx="648.32" cy="616.67" r="2.25"/><circle cx="662.55" cy="611.45" r="2.25"/><circle cx="654.4" cy="639.02" r="2.25"/><circle cx="660.43" cy="605.4" r="2.25"/><circle cx="650.63" cy="645.98" r="2.25"/><circle cx="657.67" cy="609.07" r="2.25"/><circle cx="661.97" cy="606.03" r="2.25"/><circle cx="648.9" cy="599.37" r="2.25"/><circle cx="654.12" cy="598.97" r="2.25"/><circle cx="660.09" cy="592.49" r="2.25"/><circle cx="653.25" cy="617.04" r="2.25"/><circle cx="655.79" cy="615.32" r="2.25"/><circle cx="654.39" cy="641.63" r="2.25"/><circle cx="652.1" cy="618.14" r="2.25"/><circle cx="652.43" cy="608.32" r="2.25"/><circle cx="654.58" cy="603.29" r="2.25"/><circle cx="652.04" cy="607.64" r="2.25"/><circle cx="658.59" cy="583.43" r="2.25"/><circle cx="661.76" cy="587.62" r="2.25"/><circle cx="657.7" cy="609.37" r="2.25"/><circle cx="648.91" cy="613.07" r="2.25"/><circle cx="656.27" cy="641.52" r="2.25"/><circle cx="655.87" cy="613.64" r="2.25"/><circle cx="656.75" cy="579.62" r="2.25"/><circle cx="649.75" cy="610.76" r="2.25"/><circle cx="653.84" cy="623.68" r="2.25"/><circle cx="656.07" cy="586.2" r="2.25"/><circle cx="663.81" cy="634.92" r="2.25"/><circle cx="653.57" cy="606.05" r="2.25"/><circle cx="660.61" cy="605.88" r="2.25"/><circle cx="653" cy="600.88" r="2.25"/><circle cx="656.84" cy="615.21" r="2.25"/><circle cx="664.62" cy="628.07" r="2.25"/><circle cx="663.49" cy="600.23" r="2.25"/><circle cx="660.51" cy="622.63" r="2.25"/><circle cx="653.84" cy="600.06" r="2.25"/><circle cx="658.36" cy="641.32" r="2.25"/><circle cx="650.73" cy="599.63" r="2.25"/><circle cx="648.72" cy="613.68" r="2.25"/><circle cx="650.29" cy="600.33" r="2.25"/><circle cx="653.6" cy="604.79" r="2.25"/><circle cx="654.77" cy="591.27" r="2.25"/><circle cx="648.96" cy="581.2" r="2.25"/><circle cx="660.84" cy="645.68" r="2.25"/><circle cx="649.7" cy="614.23" r="2.25"/><circle cx="664.21" cy="622.81" r="2.25"/><circle cx="648.33" cy="592.7" r="2.25"/><circle cx="651.21" cy="630.37" r="2.25"/><circle cx="662.03" cy="606.96" r="2.25"/><circle cx="663.91" cy="591.71" r="2.25"/><circle cx="648.7" cy="604.33" r="2.25"/><circle cx="662.24" cy="608.17" r="2.25"/><circle cx="662.18" cy="599.5" r="2.25"/><circle cx="657.67" cy="588.42" r="2.25"/><circle cx="660.53" cy="629.2" r="2.25"/><circle cx="658.42" cy="586.75" r="2.25"/><circle cx="659.79" cy="587.31" r="2.25"/><circle cx="650.02" cy="630.77" r="2.25"/><circle cx="654.54" cy="606.44" r="2.25"/><circle cx="651.93" cy="640.09" r="2.25"/><circle cx="661.07" cy="614.9" r="2.25"/><circle cx="651.63" cy="581.41" r="2.25"/><circle cx="648.67" cy="600.38" r="2.25"/><circle cx="664.32" cy="596.64" r="2.25"/><circle cx="656.61" cy="630.11" r="2.25"/><circle cx="659.96" cy="635.31" r="2.25"/><circle cx="665.2" cy="610.5" r="2.25"/><circle cx="655.24" cy="615.66" r="2.25"/><circle cx="665.48" cy="661.87" r="2.25"/><circle cx="661.15" cy="661.44" r="2.25"/><circle cx="652.9" cy="659.96" r="2.25"/><circle cx="660.28" cy="654.48" r="2.25"/><circle cx="653.3" cy="656.02" r="2.25"/><circle cx="662.85" cy="662.71" r="2.25"/><circle cx="655.86" cy="658.42" r="2.25"/><circle cx="661.89" cy="651.26" r="2.25"/><circle cx="662.87" cy="682.23" r="2.25"/><circle cx="664.18" cy="680.48" r="2.25"/><circle cx="657.6" cy="540.35" r="2.25"/><circle cx="662.44" cy="546.85" r="2.25"/><circle cx="659.22" cy="550.97" r="2.25"/></g><path d="M366.9 596.55L367.71 596.5L368.52 596.43L369.32 596.33L370.13 596.21L370.94 596.06L371.75 595.89L372.55 595.7L373.36 595.48L374.17 595.24L374.98 594.98L375.78 594.69L376.59 594.39L377.4 594.06L378.21 593.71L379.01 593.35L379.82 592.96L380.63 592.55L381.44 592.12L382.24 591.68L383.05 591.22L383.86 590.74L384.67 590.24L385.47 589.72L386.28 589.19L387.09 588.64L387.9 588.08L388.7 587.5L389.51 586.9L390.32 586.29L391.12 585.66L391.93 585.02L392.74 584.37L393.55 583.7L394.36 583.03L395.16 582.33L395.97 581.63L396.78 580.91L397.59 580.18L398.39 579.44L399.2 578.69L400.01 577.93L400.81 577.16L401.62 576.38L402.43 575.58L403.24 574.78L404.05 573.97L404.85 573.16L405.66 572.33L406.47 571.49L407.28 570.65L408.08 569.8L408.89 568.94L409.7 568.08L410.5 567.21L411.31 566.33L412.12 565.45L412.93 564.56L413.74 563.66L414.54 562.77L415.35 561.86L416.16 560.95L416.97 560.04L417.77 559.12L418.58 558.21L419.39 557.28L420.2 556.36L421 555.43L421.81 554.5L422.62 553.56L423.43 552.63L424.23 551.69L425.04 550.75L425.85 549.81L426.66 548.87L427.46 547.93L428.27 546.99L429.08 546.05L429.88 545.1L430.69 544.16L431.5 543.22L432.31 542.28L433.12 541.34L433.92 540.41L434.73 539.47L435.54 538.54L436.35 537.6L437.15 536.67L437.96 535.75L438.77 534.82L439.58 533.9L440.38 532.98L441.19 532.06L442 531.15L442.81 530.24L443.61 529.34L444.42 528.44L445.23 527.54L446.04 526.65L446.84 525.77L447.65 524.88L448.46 524.01L449.26 523.14L450.07 522.27L450.88 521.41L451.69 520.56L452.5 519.71L453.3 518.87L454.11 518.03L454.92 517.2L455.73 516.38L456.53 515.57L457.34 514.76L458.15 513.96L458.96 513.16L459.76 512.38L460.57 511.6L461.38 510.83L462.19 510.07L462.99 509.31L463.8 508.57L464.61 507.83L465.42 507.1L466.22 506.38L467.03 505.67L467.84 504.97L468.64 504.28L469.45 503.59L470.26 502.92L471.07 502.25L471.88 501.6L472.68 500.95L473.49 500.32L474.3 499.69L475.11 499.08L475.91 498.47L476.72 497.88L477.53 497.29L478.34 496.72L479.14 496.15L479.95 495.6L480.76 495.06L481.57 494.53L482.37 494.01L483.18 493.5L483.99 493L484.8 492.52L485.6 492.04L486.41 491.58L487.22 491.13L488.02 490.69L488.83 490.26L489.64 489.84L490.45 489.44L491.25 489.04L492.06 488.66L492.87 488.29L493.68 487.93L494.49 487.59L495.29 487.25L496.1 486.93L496.91 486.62L497.72 486.33L498.52 486.04L499.33 485.77L500.14 485.51L500.95 485.26L501.75 485.03L502.56 484.8L503.37 484.59L504.18 484.4L504.98 484.21L505.79 484.04L506.6 483.88L507.41 483.73L508.21 483.6L509.02 483.47L509.83 483.37L510.63 483.27L511.44 483.18L512.25 483.11L513.06 483.05L513.87 483.01L514.67 482.97L515.48 482.95L516.29 482.94L517.1 482.95L517.9 482.96L518.71 482.99L519.52 483.03L520.33 483.09L521.13 483.15L521.94 483.23L522.75 483.32L523.56 483.43L524.36 483.54L525.17 483.67L525.98 483.81L526.79 483.96L527.59 484.13L528.4 484.31L529.21 484.49L530.01 484.7L530.82 484.91L531.63 485.13L532.44 485.37L533.25 485.62L534.05 485.88L534.86 486.15L535.67 486.43L536.48 486.73L537.28 487.03L538.09 487.35L538.9 487.68L539.71 488.02L540.51 488.37L541.32 488.73L542.13 489.11L542.93 489.49L543.74 489.89L544.55 490.29L545.36 490.71L546.16 491.13L546.97 491.57L547.78 492.02L548.59 492.47L549.39 492.94L550.2 493.42L551.01 493.9L551.82 494.4L552.62 494.9L553.43 495.42L554.24 495.94L555.05 496.48L555.86 497.02L556.66 497.57L557.47 498.13L558.28 498.7L559.09 499.28L559.89 499.86L560.7 500.45L561.51 501.06L562.32 501.67L563.12 502.28L563.93 502.91L564.74 503.54L565.55 504.18L566.35 504.82L567.16 505.48L567.97 506.14L568.77 506.81L569.58 507.48L570.39 508.16L571.2 508.84L572 509.53L572.81 510.23L573.62 510.93L574.43 511.64L575.24 512.35L576.04 513.07L576.85 513.8L577.66 514.52L578.47 515.25L579.27 515.99L580.08 516.73L580.89 517.47L581.7 518.22L582.5 518.97L583.31 519.72L584.12 520.48L584.92 521.24L585.73 522L586.54 522.76L587.35 523.53L588.15 524.3L588.96 525.06L589.77 525.83L590.58 526.61L591.38 527.38L592.19 528.15L593 528.92L593.81 529.7L594.62 530.47L595.42 531.24L596.23 532.01L597.04 532.79L597.85 533.56L598.65 534.32L599.46 535.09L600.27 535.86L601.08 536.62L601.88 537.38L602.69 538.14L603.5 538.89L604.31 539.64L605.11 540.39L605.92 541.13L606.73 541.87L607.53 542.61L608.34 543.34L609.15 544.06L609.96 544.78L610.77 545.5L611.57 546.2L612.38 546.91L613.19 547.6L614 548.29L614.8 548.97L615.61 549.65L616.42 550.31L617.23 550.97L618.03 551.62L618.84 552.26L619.65 552.9L620.46 553.52L621.26 554.13L622.07 554.74L622.88 555.33L623.68 555.91L624.49 556.48L625.3 557.04L626.11 557.59L626.91 558.13L627.72 558.65L628.53 559.16L629.34 559.66L630.14 560.14L630.95 560.61L631.76 561.07L632.57 561.51L633.38 561.94L634.18 562.35L634.99 562.75L635.8 563.13L636.61 563.49L637.41 563.84L638.22 564.17L639.03 564.48L639.84 564.77L640.64 565.05L641.45 565.31L642.26 565.55L643.07 565.76L643.87 565.96L644.68 566.14L645.49 566.3L646.3 566.44L647.1 566.55L647.91 566.65L648.72 566.72L649.52 566.77L650.33 566.79L651.14 566.8L651.95 566.77L652.75 566.73L653.56 566.66L654.37 566.56L655.18 566.44L655.99 566.29L656.79 566.12L657.6 565.91L658.41 565.69L659.22 565.43L660.02 565.14L660.83 564.83L661.64 564.49L662.44 564.11L663.25 563.71L664.06 563.28L664.87 562.82L665.67 562.32" stroke="#ee5a3e" stroke-width="2.3" fill="none"/><path d="M366.9 717.2L367.71 717.34L368.52 717.46L369.32 717.56L370.13 717.62L370.94 717.67L371.75 717.68L372.55 717.68L373.36 717.65L374.17 717.59L374.98 717.52L375.78 717.42L376.59 717.29L377.4 717.15L378.21 716.98L379.01 716.8L379.82 716.59L380.63 716.36L381.44 716.12L382.24 715.85L383.05 715.56L383.86 715.26L384.67 714.94L385.47 714.6L386.28 714.24L387.09 713.86L387.9 713.47L388.7 713.06L389.51 712.64L390.32 712.2L391.12 711.74L391.93 711.27L392.74 710.79L393.55 710.29L394.36 709.77L395.16 709.25L395.97 708.71L396.78 708.16L397.59 707.59L398.39 707.01L399.2 706.42L400.01 705.82L400.81 705.21L401.62 704.59L402.43 703.96L403.24 703.32L404.05 702.66L404.85 702L405.66 701.33L406.47 700.65L407.28 699.96L408.08 699.26L408.89 698.56L409.7 697.85L410.5 697.13L411.31 696.4L412.12 695.67L412.93 694.93L413.74 694.18L414.54 693.43L415.35 692.67L416.16 691.91L416.97 691.14L417.77 690.37L418.58 689.59L419.39 688.81L420.2 688.03L421 687.24L421.81 686.45L422.62 685.66L423.43 684.86L424.23 684.06L425.04 683.26L425.85 682.46L426.66 681.65L427.46 680.84L428.27 680.04L429.08 679.23L429.88 678.42L430.69 677.61L431.5 676.8L432.31 675.99L433.12 675.18L433.92 674.37L434.73 673.56L435.54 672.75L436.35 671.94L437.15 671.14L437.96 670.33L438.77 669.53L439.58 668.73L440.38 667.93L441.19 667.14L442 666.35L442.81 665.56L443.61 664.77L444.42 663.99L445.23 663.21L446.04 662.43L446.84 661.66L447.65 660.89L448.46 660.13L449.26 659.37L450.07 658.61L450.88 657.86L451.69 657.12L452.5 656.38L453.3 655.64L454.11 654.91L454.92 654.19L455.73 653.47L456.53 652.76L457.34 652.05L458.15 651.35L458.96 650.66L459.76 649.97L460.57 649.29L461.38 648.62L462.19 647.96L462.99 647.3L463.8 646.65L464.61 646L465.42 645.37L466.22 644.74L467.03 644.12L467.84 643.51L468.64 642.9L469.45 642.31L470.26 641.72L471.07 641.14L471.88 640.57L472.68 640.01L473.49 639.45L474.3 638.91L475.11 638.38L475.91 637.85L476.72 637.33L477.53 636.83L478.34 636.33L479.14 635.84L479.95 635.36L480.76 634.89L481.57 634.43L482.37 633.99L483.18 633.55L483.99 633.12L484.8 632.7L485.6 632.29L486.41 631.89L487.22 631.5L488.02 631.13L488.83 630.76L489.64 630.4L490.45 630.06L491.25 629.72L492.06 629.4L492.87 629.08L493.68 628.78L494.49 628.49L495.29 628.2L496.1 627.93L496.91 627.67L497.72 627.43L498.52 627.19L499.33 626.96L500.14 626.75L500.95 626.54L501.75 626.35L502.56 626.17L503.37 626L504.18 625.84L504.98 625.69L505.79 625.55L506.6 625.43L507.41 625.31L508.21 625.21L509.02 625.12L509.83 625.04L510.63 624.97L511.44 624.91L512.25 624.86L513.06 624.83L513.87 624.8L514.67 624.79L515.48 624.79L516.29 624.8L517.1 624.82L517.9 624.85L518.71 624.89L519.52 624.94L520.33 625.01L521.13 625.08L521.94 625.17L522.75 625.27L523.56 625.37L524.36 625.49L525.17 625.62L525.98 625.76L526.79 625.91L527.59 626.08L528.4 626.25L529.21 626.43L530.01 626.62L530.82 626.83L531.63 627.04L532.44 627.26L533.25 627.5L534.05 627.74L534.86 628L535.67 628.26L536.48 628.54L537.28 628.82L538.09 629.11L538.9 629.41L539.71 629.73L540.51 630.05L541.32 630.38L542.13 630.72L542.93 631.07L543.74 631.43L544.55 631.79L545.36 632.17L546.16 632.55L546.97 632.95L547.78 633.35L548.59 633.76L549.39 634.18L550.2 634.6L551.01 635.03L551.82 635.48L552.62 635.93L553.43 636.38L554.24 636.85L555.05 637.32L555.86 637.8L556.66 638.28L557.47 638.77L558.28 639.27L559.09 639.78L559.89 640.29L560.7 640.8L561.51 641.33L562.32 641.86L563.12 642.39L563.93 642.93L564.74 643.48L565.55 644.03L566.35 644.59L567.16 645.15L567.97 645.71L568.77 646.28L569.58 646.86L570.39 647.44L571.2 648.02L572 648.6L572.81 649.19L573.62 649.79L574.43 650.38L575.24 650.98L576.04 651.58L576.85 652.19L577.66 652.79L578.47 653.4L579.27 654.01L580.08 654.62L580.89 655.24L581.7 655.85L582.5 656.47L583.31 657.08L584.12 657.7L584.92 658.32L585.73 658.93L586.54 659.55L587.35 660.17L588.15 660.78L588.96 661.4L589.77 662.01L590.58 662.62L591.38 663.24L592.19 663.84L593 664.45L593.81 665.05L594.62 665.66L595.42 666.25L596.23 666.85L597.04 667.44L597.85 668.03L598.65 668.61L599.46 669.19L600.27 669.77L601.08 670.34L601.88 670.9L602.69 671.46L603.5 672.01L604.31 672.56L605.11 673.1L605.92 673.64L606.73 674.17L607.53 674.69L608.34 675.2L609.15 675.7L609.96 676.2L610.77 676.69L611.57 677.17L612.38 677.64L613.19 678.1L614 678.55L614.8 678.99L615.61 679.42L616.42 679.84L617.23 680.25L618.03 680.65L618.84 681.04L619.65 681.41L620.46 681.77L621.26 682.12L622.07 682.46L622.88 682.78L623.68 683.09L624.49 683.38L625.3 683.66L626.11 683.92L626.91 684.17L627.72 684.41L628.53 684.63L629.34 684.83L630.14 685.01L630.95 685.18L631.76 685.33L632.57 685.46L633.38 685.58L634.18 685.67L634.99 685.75L635.8 685.81L636.61 685.84L637.41 685.86L638.22 685.86L639.03 685.83L639.84 685.79L640.64 685.72L641.45 685.63L642.26 685.52L643.07 685.38L643.87 685.23L644.68 685.04L645.49 684.84L646.3 684.61L647.1 684.35L647.91 684.07L648.72 683.76L649.52 683.42L650.33 683.06L651.14 682.68L651.95 682.26L652.75 681.82L653.56 681.34L654.37 680.84L655.18 680.31L655.99 679.75L656.79 679.16L657.6 678.53L658.41 677.88L659.22 677.2L660.02 676.48L660.83 675.73L661.64 674.94L662.44 674.13L663.25 673.28L664.06 672.39L664.87 671.47L665.67 670.51" stroke="#c4504f" stroke-width="2.3" fill="none"/><rect x="318.5" y="462.8" width="363.4" height="304.2" fill="none" stroke="#333333" stroke-width="0.8"/><path d="M334.6 767v3.8M366.9 767v3.8M399.2 767v3.8M431.5 767v3.8M463.8 767v3.8M496.1 767v3.8M528.4 767v3.8M560.7 767v3.8M593 767v3.8M625.3 767v3.8M657.6 767v3.8M314.9 753.8h3.6M314.9 714.18h3.6M314.9 674.57h3.6M314.9 634.95h3.6M314.9 595.34h3.6M314.9 555.72h3.6M314.9 516.11h3.6M314.9 476.49h3.6" stroke="#333333" stroke-width="1.0"/><text x="334.6" y="781.2" font-size="10.4" fill="#4d4d4d" text-anchor="middle">0</text><text x="366.9" y="781.2" font-size="10.4" fill="#4d4d4d" text-anchor="middle">4</text><text x="399.2" y="781.2" font-size="10.4" fill="#4d4d4d" text-anchor="middle">8</text><text x="431.5" y="781.2" font-size="10.4" fill="#4d4d4d" text-anchor="middle">12</text><text x="463.8" y="781.2" font-size="10.4" fill="#4d4d4d" text-anchor="middle">16</text><text x="496.1" y="781.2" font-size="10.4" fill="#4d4d4d" text-anchor="middle">20</text><text x="528.4" y="781.2" font-size="10.4" fill="#4d4d4d" text-anchor="middle">24</text><text x="560.7" y="781.2" font-size="10.4" fill="#4d4d4d" text-anchor="middle">28</text><text x="593" y="781.2" font-size="10.4" fill="#4d4d4d" text-anchor="middle">32</text><text x="625.3" y="781.2" font-size="10.4" fill="#4d4d4d" text-anchor="middle">36</text><text x="657.6" y="781.2" font-size="10.4" fill="#4d4d4d" text-anchor="middle">40</text><text x="312.6" y="757.9" font-size="10.4" fill="#4d4d4d" text-anchor="end">50</text><text x="312.6" y="718.28" font-size="10.4" fill="#4d4d4d" text-anchor="end">75</text><text x="312.6" y="678.67" font-size="10.4" fill="#4d4d4d" text-anchor="end">100</text><text x="312.6" y="639.05" font-size="10.4" fill="#4d4d4d" text-anchor="end">125</text><text x="312.6" y="599.44" font-size="10.4" fill="#4d4d4d" text-anchor="end">150</text><text x="312.6" y="559.82" font-size="10.4" fill="#4d4d4d" text-anchor="end">175</text><text x="312.6" y="520.21" font-size="10.4" fill="#4d4d4d" text-anchor="end">200</text><text x="312.6" y="480.59" font-size="10.4" fill="#4d4d4d" text-anchor="end">225</text><text x="500.2" y="796" font-size="12.65" text-anchor="middle">Gestational week</text><text transform="translate(288.6,614.9) rotate(-90)" font-size="12.8" text-anchor="middle">Estimated glomerular filtration rate (mL/min)</text><text x="360.11" y="478.5" font-size="12.5" font-style="italic" fill="#ee5a3e">y</text><text x="368.99" y="478.5" font-size="12.5" fill="#ee5a3e">=</text><text x="380.05" y="478.5" font-size="12.5" fill="#ee5a3e">163</text><text x="402.58" y="478.5" font-size="12.5" fill="#ee5a3e">−</text><text x="411.86" y="478.5" font-size="12.5" fill="#ee5a3e">8.36</text><text x="441.8" y="478.5" font-size="12.5" font-style="italic" fill="#ee5a3e">x</text><text x="450.79" y="478.5" font-size="12.5" fill="#ee5a3e">+</text><text x="459.45" y="478.5" font-size="12.5" fill="#ee5a3e">1.4</text><text x="481.8" y="478.5" font-size="12.5" font-style="italic" fill="#ee5a3e">x</text><text x="487.76" y="473.2" font-size="8.8" fill="#ee5a3e">2</text><text x="496.28" y="478.5" font-size="12.5" fill="#ee5a3e">−</text><text x="504.71" y="478.5" font-size="12.5" fill="#ee5a3e">0.0549</text><text x="548.7" y="478.5" font-size="12.5" font-style="italic" fill="#ee5a3e">x</text><text x="555.86" y="473.2" font-size="8.8" fill="#ee5a3e">3</text><text x="562.89" y="478.5" font-size="12.5" fill="#ee5a3e">+</text><text x="571.81" y="478.5" font-size="12.5" fill="#ee5a3e">0.000629</text><text x="629.5" y="478.5" font-size="12.5" font-style="italic" fill="#ee5a3e">x</text><text x="636" y="473.2" font-size="8.8" fill="#ee5a3e">4</text><text x="360.11" y="761.7" font-size="12.5" font-style="italic" fill="#c4504f">y</text><text x="368.99" y="761.7" font-size="12.5" fill="#c4504f">=</text><text x="379.91" y="761.7" font-size="12.5" fill="#c4504f">93</text><text x="395.28" y="761.7" font-size="12.5" fill="#c4504f">−</text><text x="405.85" y="761.7" font-size="12.5" fill="#c4504f">10.1</text><text x="434.3" y="761.7" font-size="12.5" font-style="italic" fill="#c4504f">x</text><text x="442.69" y="761.7" font-size="12.5" fill="#c4504f">+</text><text x="451.95" y="761.7" font-size="12.5" fill="#c4504f">1.47</text><text x="481.9" y="761.7" font-size="12.5" font-style="italic" fill="#c4504f">x</text><text x="488.26" y="756.4" font-size="8.8" fill="#c4504f">2</text><text x="496.08" y="761.7" font-size="12.5" fill="#c4504f">−</text><text x="505.01" y="761.7" font-size="12.5" fill="#c4504f">0.0568</text><text x="548.9" y="761.7" font-size="12.5" font-style="italic" fill="#c4504f">x</text><text x="555.76" y="756.4" font-size="8.8" fill="#c4504f">3</text><text x="561.99" y="761.7" font-size="12.5" fill="#c4504f">+</text><text x="572.21" y="761.7" font-size="12.5" fill="#c4504f">0.000662</text><text x="629.5" y="761.7" font-size="12.5" font-style="italic" fill="#c4504f">x</text><text x="636.6" y="756.4" font-size="8.8" fill="#c4504f">4</text><circle cx="375.2" cy="413" r="2.1" fill="#1e90ff" fill-opacity="0.55"/><path d="M375.2 429.3l3.3 5.6h-6.6Z" fill="#d0d0d0"/><text x="391.4" y="417.2" font-size="10.55">Post−implantation(included in regression analysis)</text><text x="391.4" y="437" font-size="10.55">Pre−implantation(excluded from regression analysis)</text></svg></body></html>
